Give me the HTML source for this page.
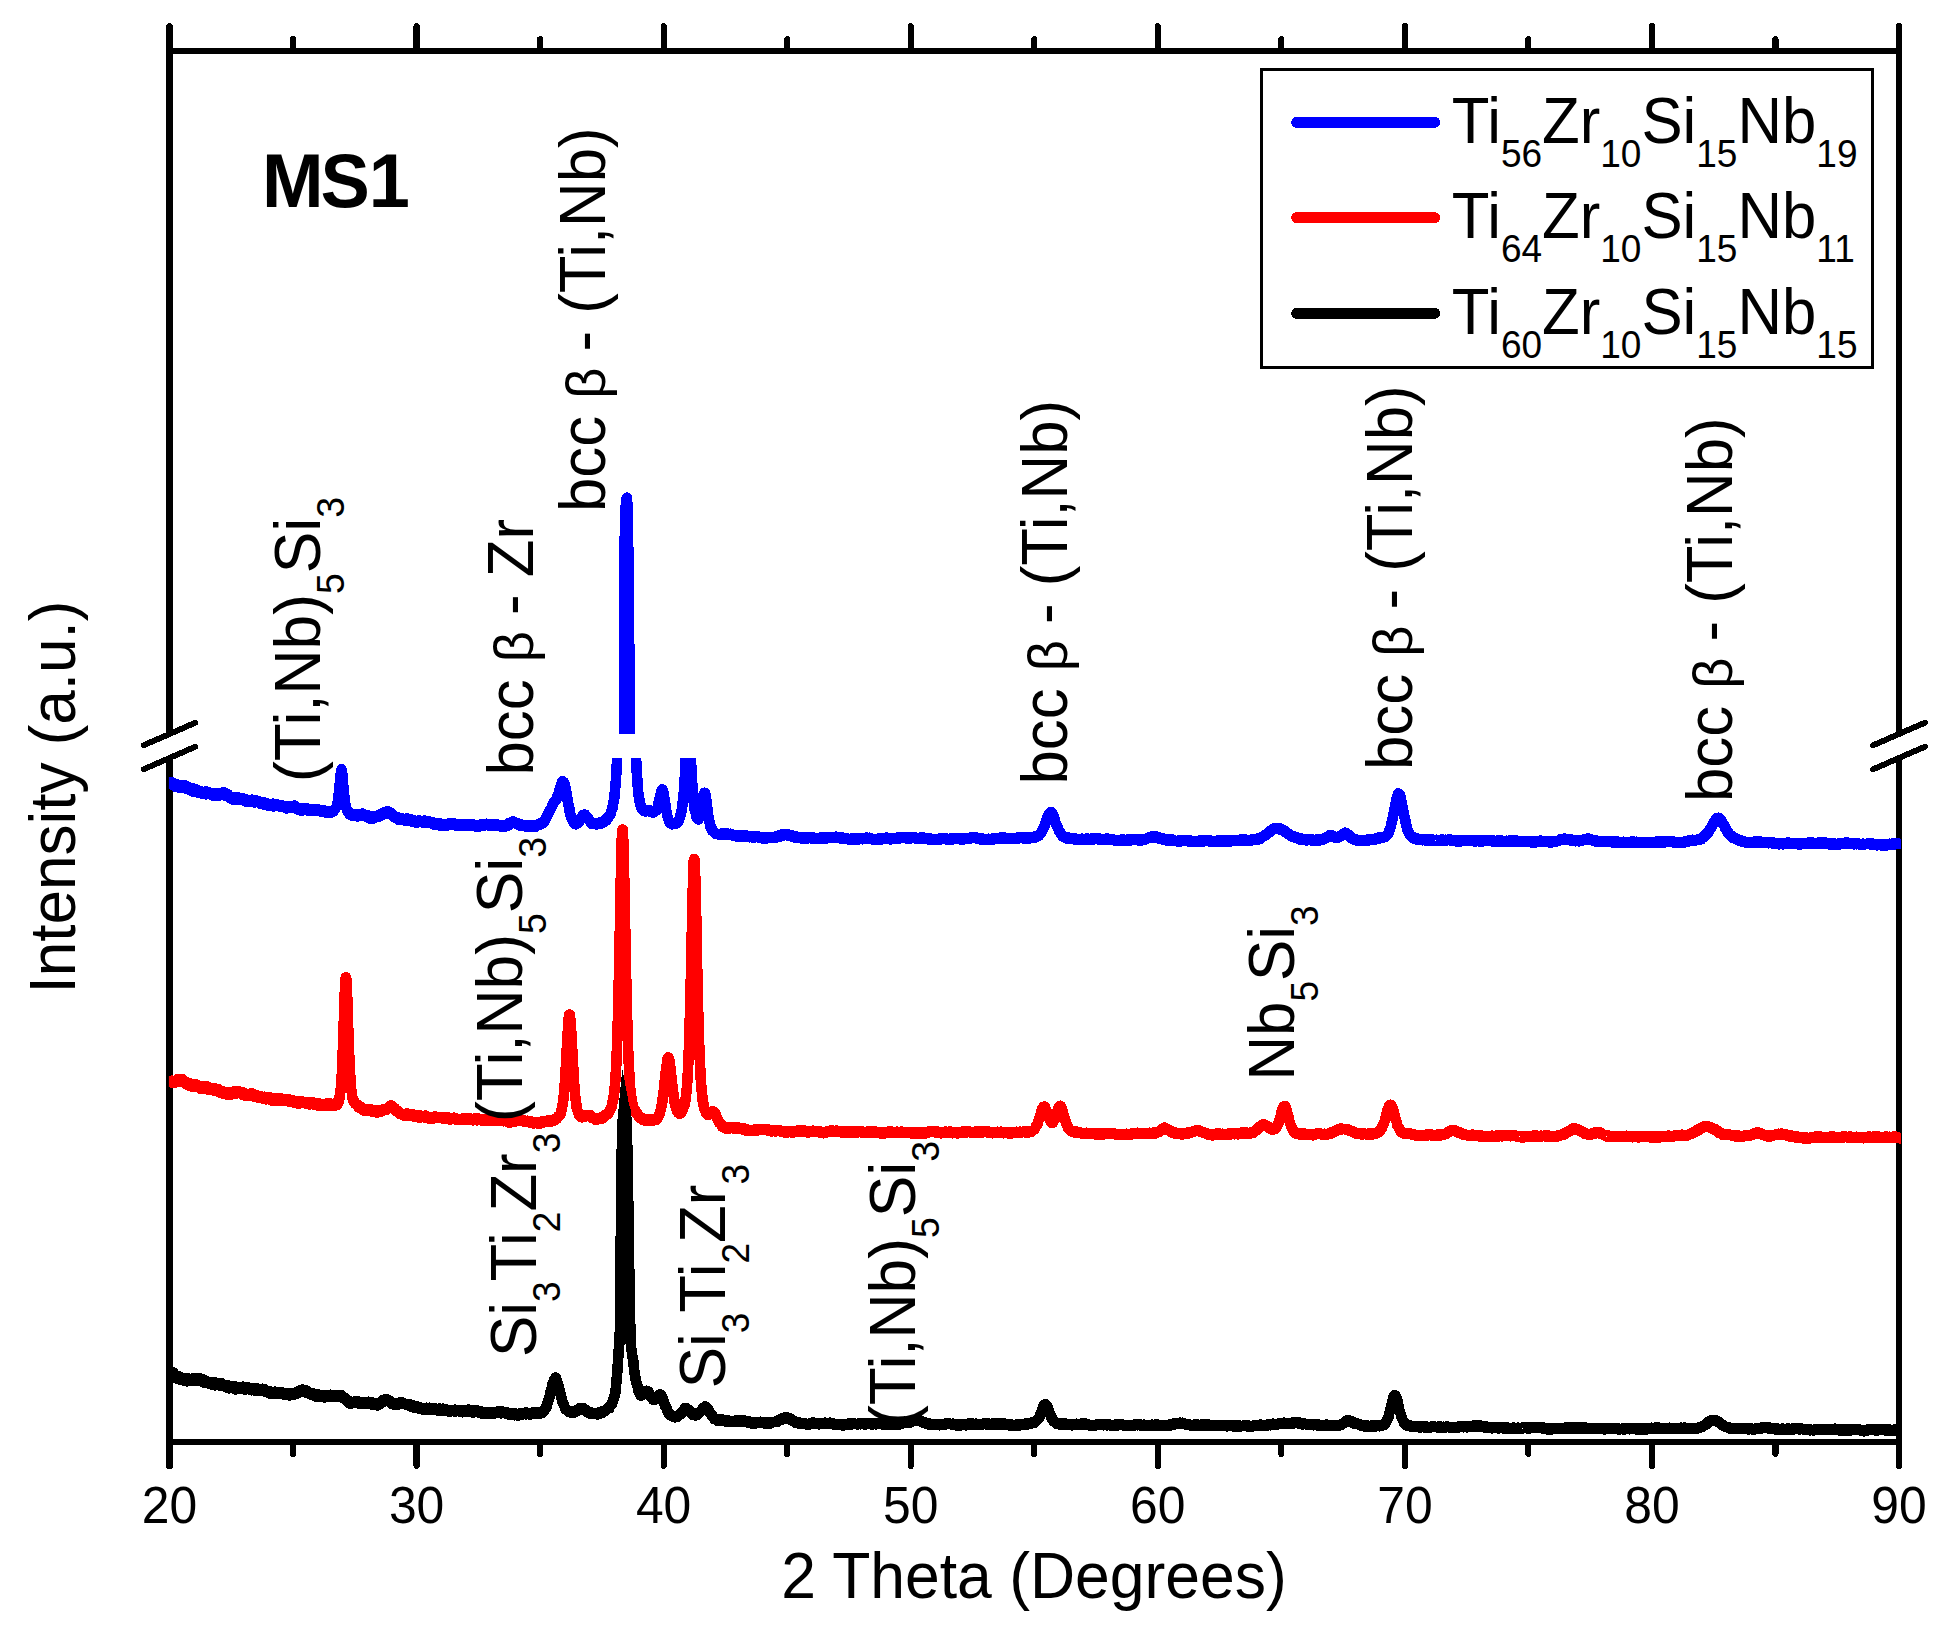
<!DOCTYPE html>
<html><head><meta charset="utf-8"><title>XRD MS1</title>
<style>html,body{margin:0;padding:0;background:#fff}svg{display:block}</style></head>
<body>
<svg width="1945" height="1637" viewBox="0 0 1945 1637" font-family='"Liberation Sans", sans-serif' fill="#000" shape-rendering="crispEdges">
<rect width="1945" height="1637" fill="#fff"/>
<defs><clipPath id="lo"><rect x="168.9" y="758.0" width="1732.1" height="683.8"/></clipPath><clipPath id="up"><rect x="168.9" y="50.8" width="1732.1" height="683.2"/></clipPath></defs>
<g stroke="#000" stroke-width="6.2" fill="none" stroke-linecap="round">
<line x1="169.50" y1="50.75" x2="1899.00" y2="50.75"/>
<line x1="169.50" y1="1441.85" x2="1899.00" y2="1441.85"/>
<line x1="293.04" y1="39.30" x2="293.04" y2="50.75"/>
<line x1="293.04" y1="1441.85" x2="293.04" y2="1453.90"/>
<line x1="416.57" y1="26.20" x2="416.57" y2="50.75"/>
<line x1="416.57" y1="1441.85" x2="416.57" y2="1465.90"/>
<line x1="540.11" y1="39.30" x2="540.11" y2="50.75"/>
<line x1="540.11" y1="1441.85" x2="540.11" y2="1453.90"/>
<line x1="663.64" y1="26.20" x2="663.64" y2="50.75"/>
<line x1="663.64" y1="1441.85" x2="663.64" y2="1465.90"/>
<line x1="787.18" y1="39.30" x2="787.18" y2="50.75"/>
<line x1="787.18" y1="1441.85" x2="787.18" y2="1453.90"/>
<line x1="910.71" y1="26.20" x2="910.71" y2="50.75"/>
<line x1="910.71" y1="1441.85" x2="910.71" y2="1465.90"/>
<line x1="1034.25" y1="39.30" x2="1034.25" y2="50.75"/>
<line x1="1034.25" y1="1441.85" x2="1034.25" y2="1453.90"/>
<line x1="1157.79" y1="26.20" x2="1157.79" y2="50.75"/>
<line x1="1157.79" y1="1441.85" x2="1157.79" y2="1465.90"/>
<line x1="1281.32" y1="39.30" x2="1281.32" y2="50.75"/>
<line x1="1281.32" y1="1441.85" x2="1281.32" y2="1453.90"/>
<line x1="1404.86" y1="26.20" x2="1404.86" y2="50.75"/>
<line x1="1404.86" y1="1441.85" x2="1404.86" y2="1465.90"/>
<line x1="1528.39" y1="39.30" x2="1528.39" y2="50.75"/>
<line x1="1528.39" y1="1441.85" x2="1528.39" y2="1453.90"/>
<line x1="1651.93" y1="26.20" x2="1651.93" y2="50.75"/>
<line x1="1651.93" y1="1441.85" x2="1651.93" y2="1465.90"/>
<line x1="1775.46" y1="39.30" x2="1775.46" y2="50.75"/>
<line x1="1775.46" y1="1441.85" x2="1775.46" y2="1453.90"/>
</g>
<g stroke="#000" stroke-width="7.0" fill="none">
<line x1="169.50" y1="26.60" x2="169.50" y2="714.0" stroke-linecap="round"/>
<line x1="169.50" y1="709.00" x2="169.50" y2="734.0"/>
<line x1="169.50" y1="758.0" x2="169.50" y2="783.00"/>
<line x1="169.50" y1="778.0" x2="169.50" y2="1465.50" stroke-linecap="round"/>
</g>
<g stroke="#000" stroke-width="6.2" fill="none">
<line x1="1899.00" y1="26.20" x2="1899.00" y2="714.0" stroke-linecap="round"/>
<line x1="1899.00" y1="709.00" x2="1899.00" y2="734.0"/>
<line x1="1899.00" y1="758.0" x2="1899.00" y2="783.00"/>
<line x1="1899.00" y1="778.0" x2="1899.00" y2="1465.90" stroke-linecap="round"/>
</g>
<g stroke="#000" stroke-width="5.9" stroke-linecap="round">
<line x1="143.6" y1="745.3" x2="195.4" y2="722.7"/>
<line x1="143.6" y1="769.3" x2="195.4" y2="746.7"/>
<line x1="1873.1" y1="745.3" x2="1924.9" y2="722.7"/>
<line x1="1873.1" y1="769.3" x2="1924.9" y2="746.7"/>
</g>
<g fill="none" stroke-width="10.6" stroke-linejoin="round" stroke-linecap="butt">
<g clip-path="url(#lo)">
<polyline stroke="#0000ff" points="166.5,783.6 169.5,783.6 170.0,783.4 170.5,782.4 171.0,783.3 171.5,783.0 172.0,782.4 172.5,783.0 173.0,784.4 173.5,785.3 173.9,783.3 174.4,783.9 174.9,783.5 175.4,786.9 175.9,784.2 176.4,785.3 176.9,784.4 177.4,786.1 177.9,786.7 178.4,786.5 178.9,787.1 179.4,785.7 179.9,788.1 180.4,787.7 180.9,785.8 181.4,786.7 181.9,785.3 182.3,787.9 182.8,788.1 183.3,786.9 183.8,786.4 184.3,787.8 184.8,786.4 185.3,785.5 185.8,787.6 186.3,786.9 186.8,789.0 187.3,787.6 187.8,786.5 188.3,788.9 188.8,789.8 189.3,787.3 189.8,788.3 190.3,789.1 190.7,790.0 191.2,790.2 191.7,790.2 192.2,791.1 192.7,790.8 193.2,788.6 193.7,791.8 194.2,791.5 194.7,791.1 195.2,791.6 195.7,791.9 196.2,789.6 196.7,791.7 197.2,790.3 197.7,790.8 198.2,792.8 198.7,792.1 199.1,791.4 199.6,791.2 200.1,792.2 200.6,791.1 201.1,792.0 201.6,793.5 202.1,792.0 202.6,792.5 203.1,793.9 203.6,792.1 204.1,791.9 204.6,792.4 205.1,792.4 205.6,794.3 206.1,791.5 206.6,792.0 207.1,794.1 207.5,791.8 208.0,793.3 208.5,794.2 209.0,792.3 209.5,793.2 210.0,793.2 210.5,794.0 211.0,794.4 211.5,794.9 212.0,792.9 212.5,793.4 213.0,795.1 213.5,795.6 214.0,794.0 214.5,793.3 215.0,793.6 215.5,795.7 215.9,793.7 216.4,794.0 216.9,793.9 217.4,794.5 217.9,795.2 218.4,793.5 218.9,794.4 219.4,795.6 219.9,794.1 220.4,794.0 220.9,794.6 221.4,794.0 221.9,793.5 222.4,794.7 222.9,792.6 223.4,792.8 223.9,795.3 224.3,793.2 224.8,792.7 225.3,793.1 225.8,795.7 226.3,793.6 226.8,794.9 227.3,795.8 227.8,794.0 228.3,795.1 228.8,796.8 229.3,795.8 229.8,796.4 230.3,797.4 230.8,798.5 231.3,797.3 231.8,797.1 232.3,797.0 232.8,797.9 233.2,799.2 233.7,800.1 234.2,798.9 234.7,797.8 235.2,799.3 235.7,797.7 236.2,797.7 236.7,797.8 237.2,800.1 237.7,799.2 238.2,797.4 238.7,800.2 239.2,798.6 239.7,798.1 240.2,799.7 240.7,799.3 241.2,799.8 241.6,799.4 242.1,798.8 242.6,798.3 243.1,800.3 243.6,799.9 244.1,799.8 244.6,800.4 245.1,800.1 245.6,801.4 246.1,800.9 246.6,801.6 247.1,799.6 247.6,800.8 248.1,801.7 248.6,801.3 249.1,800.3 249.6,801.4 250.0,800.9 250.5,800.1 251.0,801.5 251.5,799.7 252.0,799.7 252.5,800.1 253.0,800.0 253.5,802.1 254.0,800.4 254.5,802.6 255.0,800.0 255.5,800.2 256.0,801.3 256.5,802.0 257.0,802.2 257.5,800.8 258.0,802.1 258.4,801.2 258.9,801.5 259.4,801.7 259.9,801.9 260.4,803.8 260.9,803.7 261.4,802.0 261.9,803.7 262.4,802.5 262.9,802.0 263.4,802.3 263.9,804.4 264.4,804.3 264.9,804.0 265.4,802.9 265.9,805.0 266.4,804.3 266.8,804.6 267.3,805.4 267.8,804.0 268.3,804.2 268.8,803.7 269.3,804.5 269.8,805.9 270.3,805.4 270.8,804.5 271.3,804.5 271.8,805.6 272.3,806.2 272.8,804.9 273.3,803.7 273.8,806.4 274.3,806.2 274.8,805.5 275.2,803.8 275.7,805.0 276.2,804.6 276.7,804.1 277.2,805.0 277.7,805.4 278.2,805.5 278.7,805.0 279.2,805.0 279.7,806.7 280.2,804.9 280.7,806.3 281.2,806.5 281.7,805.6 282.2,805.3 282.7,806.8 283.2,807.0 283.6,806.1 284.1,805.8 284.6,807.3 285.1,806.0 285.6,807.2 286.1,808.2 286.6,808.5 287.1,807.8 287.6,807.8 288.1,806.5 288.6,807.5 289.1,806.7 289.6,808.2 290.1,806.9 290.6,807.4 291.1,807.7 291.6,806.7 292.0,808.0 292.5,806.8 293.0,806.1 293.5,807.8 294.0,807.3 294.5,805.7 295.0,806.5 295.5,808.1 296.0,808.1 296.5,807.8 297.0,809.4 297.5,808.0 298.0,809.2 298.5,808.5 299.0,808.5 299.5,808.5 300.0,808.4 300.4,808.6 300.9,808.8 301.4,809.2 301.9,811.0 302.4,808.8 302.9,809.6 303.4,808.9 303.9,809.4 304.4,808.3 304.9,808.9 305.4,808.8 305.9,809.5 306.4,808.1 306.9,809.4 307.4,808.4 307.9,810.6 308.4,809.4 308.8,810.4 309.3,810.7 309.8,809.5 310.3,810.8 310.8,810.2 311.3,811.0 311.8,811.1 312.3,809.4 312.8,810.8 313.3,810.1 313.8,809.1 314.3,809.7 314.8,809.6 315.3,810.5 315.8,810.0 316.3,809.5 316.8,811.1 317.2,809.5 317.7,811.0 318.2,810.9 318.7,809.5 319.2,810.8 319.7,810.8 320.2,810.8 320.7,811.6 321.2,811.6 321.7,810.4 322.2,810.2 322.7,809.8 323.2,810.5 323.7,811.5 324.2,812.2 324.7,810.6 325.2,811.7 325.6,810.9 326.1,812.9 326.6,813.1 327.1,811.0 327.6,811.0 328.1,812.9 328.6,811.8 329.1,811.5 329.6,813.1 330.1,812.7 330.6,810.9 331.1,810.8 331.6,812.4 332.1,812.3 332.6,810.9 333.1,810.7 333.6,811.4 334.0,809.5 334.5,809.7 335.0,808.7 335.5,808.3 336.0,807.4 336.5,806.8 337.0,806.2 337.5,804.4 338.0,799.4 338.5,795.5 339.0,791.7 339.5,786.6 340.0,781.2 340.5,775.3 341.0,772.4 341.5,769.1 342.0,771.3 342.4,774.3 342.9,781.8 343.4,787.5 343.9,792.1 344.4,797.4 344.9,800.9 345.4,805.1 345.9,807.2 346.4,808.4 346.9,809.7 347.4,811.3 347.9,810.8 348.4,812.1 348.9,811.8 349.4,813.1 349.9,814.7 350.4,814.1 350.9,814.9 351.3,813.5 351.8,813.6 352.3,814.2 352.8,815.8 353.3,814.5 353.8,814.4 354.3,815.9 354.8,815.5 355.3,814.5 355.8,815.4 356.3,814.7 356.8,815.1 357.3,815.4 357.8,816.5 358.3,814.9 358.8,814.3 359.3,815.5 359.7,815.8 360.2,815.7 360.7,814.2 361.2,815.7 361.7,813.8 362.2,813.7 362.7,815.3 363.2,815.2 363.7,814.8 364.2,815.4 364.7,814.5 365.2,816.3 365.7,815.2 366.2,816.4 366.7,816.9 367.2,816.2 367.7,815.2 368.1,817.3 368.6,817.9 369.1,816.4 369.6,818.4 370.1,816.3 370.6,818.0 371.1,818.6 371.6,818.7 372.1,816.5 372.6,818.7 373.1,818.2 373.6,818.4 374.1,817.6 374.6,816.6 375.1,817.5 375.6,817.5 376.1,816.2 376.5,816.6 377.0,817.1 377.5,816.9 378.0,815.7 378.5,816.3 379.0,816.6 379.5,816.3 380.0,814.2 380.5,814.6 381.0,814.3 381.5,814.5 382.0,813.6 382.5,813.3 383.0,814.5 383.5,813.5 384.0,812.8 384.5,812.3 384.9,812.5 385.4,813.4 385.9,812.8 386.4,813.1 386.9,813.0 387.4,813.4 387.9,811.2 388.4,812.9 388.9,811.9 389.4,812.2 389.9,812.2 390.4,814.1 390.9,812.8 391.4,814.5 391.9,814.0 392.4,815.7 392.9,815.1 393.3,814.9 393.8,817.3 394.3,816.0 394.8,816.7 395.3,816.5 395.8,816.9 396.3,817.7 396.8,817.0 397.3,817.2 397.8,818.8 398.3,818.5 398.8,820.0 399.3,820.2 399.8,818.1 400.3,819.6 400.8,818.9 401.3,818.5 401.7,820.1 402.2,819.4 402.7,819.1 403.2,819.5 403.7,818.8 404.2,820.0 404.7,819.2 405.2,820.6 405.7,819.8 406.2,820.2 406.7,820.5 407.2,818.5 407.7,820.1 408.2,819.3 408.7,819.5 409.2,819.8 409.7,820.0 410.1,820.7 410.6,819.3 411.1,820.5 411.6,820.9 412.1,820.3 412.6,820.0 413.1,822.0 413.6,820.2 414.1,821.6 414.6,821.6 415.1,821.8 415.6,822.5 416.1,822.6 416.6,820.9 417.1,822.0 417.6,822.2 418.1,821.4 418.5,821.8 419.0,820.3 419.5,821.2 420.0,821.1 420.5,821.9 421.0,820.8 421.5,822.3 422.0,821.8 422.5,821.9 423.0,822.4 423.5,821.5 424.0,821.5 424.5,820.5 425.0,820.7 425.5,822.4 426.0,822.0 426.5,822.3 426.9,821.7 427.4,821.1 427.9,821.1 428.4,823.0 428.9,822.6 429.4,821.4 429.9,821.9 430.4,821.7 430.9,822.2 431.4,823.1 431.9,822.8 432.4,824.0 432.9,822.4 433.4,822.5 433.9,824.4 434.4,824.7 434.9,824.4 435.3,823.5 435.8,824.4 436.3,823.3 436.8,824.3 437.3,824.1 437.8,823.3 438.3,824.9 438.8,825.3 439.3,823.5 439.8,825.2 440.3,823.5 440.8,825.0 441.3,825.4 441.8,824.7 442.3,825.5 442.8,825.8 443.3,825.0 443.7,825.2 444.2,825.9 444.7,824.5 445.2,825.4 445.7,825.4 446.2,825.2 446.7,825.1 447.2,824.1 447.7,825.4 448.2,824.7 448.7,823.9 449.2,823.5 449.7,824.6 450.2,823.0 450.7,824.0 451.2,823.3 451.7,824.9 452.1,824.5 452.6,824.0 453.1,824.4 453.6,824.3 454.1,823.5 454.6,824.4 455.1,824.9 455.6,824.8 456.1,825.9 456.6,824.7 457.1,825.1 457.6,824.8 458.1,825.9 458.6,826.0 459.1,825.0 459.6,824.4 460.1,824.9 460.6,825.7 461.0,824.7 461.5,825.9 462.0,825.6 462.5,824.2 463.0,825.0 463.5,825.7 464.0,825.9 464.5,824.1 465.0,824.0 465.5,824.9 466.0,824.9 466.5,824.3 467.0,825.7 467.5,824.2 468.0,825.2 468.5,825.3 469.0,823.8 469.4,823.8 469.9,825.1 470.4,824.0 470.9,824.2 471.4,825.7 471.9,824.9 472.4,824.9 472.9,826.1 473.4,825.2 473.9,824.8 474.4,825.3 474.9,825.5 475.4,826.3 475.9,826.4 476.4,825.1 476.9,825.6 477.4,826.6 477.8,825.1 478.3,825.0 478.8,825.4 479.3,826.4 479.8,825.0 480.3,825.4 480.8,824.6 481.3,824.3 481.8,824.6 482.3,824.8 482.8,825.4 483.3,824.6 483.8,825.3 484.3,825.6 484.8,823.8 485.3,825.0 485.8,824.1 486.2,824.3 486.7,823.7 487.2,824.8 487.7,825.4 488.2,824.3 488.7,825.1 489.2,825.4 489.7,824.6 490.2,824.3 490.7,824.0 491.2,825.7 491.7,824.5 492.2,825.2 492.7,824.8 493.2,825.6 493.7,824.6 494.2,825.7 494.6,825.8 495.1,825.7 495.6,824.6 496.1,824.6 496.6,824.9 497.1,825.7 497.6,825.4 498.1,824.7 498.6,825.2 499.1,824.8 499.6,826.0 500.1,826.3 500.6,825.3 501.1,826.6 501.6,825.8 502.1,825.7 502.6,825.0 503.0,825.6 503.5,826.8 504.0,826.5 504.5,826.9 505.0,824.9 505.5,826.4 506.0,825.7 506.5,826.3 507.0,825.7 507.5,825.0 508.0,825.0 508.5,825.3 509.0,823.2 509.5,823.1 510.0,823.3 510.5,822.8 511.0,823.1 511.4,823.0 511.9,823.0 512.4,821.5 512.9,823.2 513.4,821.8 513.9,821.7 514.4,823.2 514.9,822.2 515.4,822.5 515.9,822.7 516.4,822.8 516.9,823.9 517.4,823.1 517.9,824.7 518.4,824.2 518.9,824.9 519.4,825.3 519.8,825.5 520.3,825.0 520.8,825.3 521.3,824.5 521.8,824.8 522.3,825.3 522.8,825.1 523.3,825.5 523.8,825.5 524.3,825.7 524.8,825.6 525.3,825.3 525.8,826.4 526.3,825.5 526.8,825.4 527.3,825.6 527.8,826.3 528.2,825.3 528.7,826.6 529.2,825.9 529.7,825.9 530.2,826.6 530.7,826.9 531.2,825.5 531.7,826.6 532.2,825.2 532.7,827.1 533.2,825.5 533.7,825.8 534.2,825.8 534.7,825.5 535.2,826.5 535.7,826.7 536.2,825.0 536.6,824.8 537.1,825.0 537.6,825.1 538.1,824.3 538.6,824.9 539.1,825.1 539.6,824.1 540.1,824.0 540.6,824.1 541.1,823.8 541.6,823.6 542.1,822.3 542.6,822.7 543.1,822.5 543.6,822.6 544.1,821.0 544.6,821.2 545.0,819.5 545.5,819.6 546.0,818.5 546.5,816.9 547.0,815.4 547.5,814.9 548.0,813.4 548.5,813.0 549.0,812.6 549.5,811.2 550.0,810.1 550.5,809.6 551.0,808.6 551.5,807.5 552.0,806.6 552.5,805.0 553.0,804.0 553.4,803.7 553.9,802.3 554.4,801.3 554.9,800.8 555.4,801.0 555.9,800.6 556.4,799.1 556.9,798.2 557.4,795.7 557.9,794.9 558.4,793.9 558.9,792.1 559.4,790.1 559.9,789.6 560.4,786.6 560.9,785.9 561.4,784.1 561.8,783.9 562.3,781.2 562.8,782.1 563.3,782.6 563.8,783.0 564.3,782.7 564.8,784.8 565.3,787.2 565.8,789.4 566.3,791.6 566.8,794.1 567.3,798.0 567.8,801.6 568.3,803.6 568.8,805.9 569.3,808.2 569.8,812.2 570.2,814.2 570.7,814.7 571.2,817.8 571.7,819.1 572.2,819.6 572.7,821.1 573.2,821.6 573.7,822.3 574.2,823.1 574.7,824.0 575.2,823.2 575.7,822.8 576.2,824.3 576.7,822.9 577.2,822.5 577.7,823.3 578.2,822.1 578.7,822.2 579.1,821.9 579.6,819.6 580.1,820.0 580.6,818.6 581.1,817.9 581.6,817.1 582.1,816.7 582.6,816.5 583.1,815.0 583.6,815.1 584.1,814.6 584.6,814.5 585.1,814.6 585.6,816.6 586.1,816.0 586.6,816.9 587.1,817.0 587.5,818.2 588.0,818.1 588.5,819.9 589.0,820.0 589.5,820.9 590.0,821.0 590.5,822.6 591.0,821.7 591.5,822.1 592.0,823.9 592.5,823.7 593.0,823.4 593.5,824.0 594.0,823.7 594.5,823.4 595.0,823.1 595.5,823.6 595.9,824.3 596.4,823.0 596.9,822.9 597.4,824.3 597.9,823.8 598.4,822.9 598.9,823.1 599.4,824.1 599.9,823.0 600.4,823.7 600.9,823.1 601.4,822.1 601.9,822.2 602.4,822.2 602.9,821.6 603.4,822.6 603.9,822.2 604.3,821.8 604.8,821.7 605.3,820.3 605.8,819.3 606.3,820.4 606.8,819.8 607.3,818.3 607.8,817.6 608.3,818.1 608.8,816.4 609.3,815.3 609.8,814.7 610.3,814.6 610.8,813.4 611.3,811.3 611.8,809.8 612.3,808.6 612.7,806.6 613.2,803.6 613.7,800.8 614.2,798.8 614.7,793.9 615.2,788.0 615.7,783.2 616.2,775.3 616.7,766.5 617.2,755.6 617.7,741.4 618.2,726.6 618.7,708.0 619.2,698.0 619.7,698.0 620.2,698.0 620.7,698.0 621.1,698.0 621.6,698.0 622.1,698.0 622.6,698.0 623.1,698.0 623.6,698.0 624.1,698.0 624.6,698.0 625.1,698.0 625.6,698.0 626.1,698.0 626.6,698.0 627.1,698.0 627.6,698.0 628.1,698.0 628.6,698.0 629.1,698.0 629.5,698.0 630.0,698.0 630.5,698.0 631.0,698.0 631.5,698.0 632.0,698.0 632.5,698.0 633.0,698.0 633.5,698.0 634.0,698.0 634.5,712.6 635.0,731.0 635.5,744.6 636.0,757.0 636.5,767.4 637.0,775.4 637.5,782.8 637.9,788.3 638.4,794.1 638.9,797.5 639.4,799.5 639.9,803.4 640.4,804.9 640.9,805.8 641.4,807.4 641.9,809.1 642.4,808.2 642.9,809.1 643.4,809.3 643.9,811.1 644.4,810.2 644.9,811.3 645.4,810.5 645.9,811.3 646.3,810.7 646.8,810.7 647.3,810.8 647.8,811.0 648.3,810.9 648.8,810.5 649.3,810.2 649.8,810.3 650.3,811.4 650.8,811.9 651.3,812.0 651.8,811.5 652.3,812.3 652.8,811.7 653.3,811.8 653.8,812.4 654.3,811.8 654.7,810.9 655.2,811.4 655.7,810.4 656.2,810.6 656.7,809.2 657.2,808.8 657.7,806.9 658.2,805.0 658.7,802.1 659.2,801.3 659.7,797.6 660.2,796.3 660.7,794.2 661.2,791.3 661.7,789.9 662.2,789.5 662.7,790.2 663.1,791.6 663.6,793.8 664.1,798.0 664.6,799.5 665.1,803.2 665.6,806.1 666.1,810.2 666.6,811.6 667.1,814.8 667.6,816.9 668.1,818.2 668.6,819.5 669.1,821.5 669.6,822.0 670.1,823.2 670.6,822.0 671.1,822.5 671.5,822.7 672.0,824.4 672.5,824.1 673.0,823.5 673.5,823.9 674.0,823.5 674.5,823.3 675.0,823.9 675.5,823.2 676.0,823.5 676.5,822.7 677.0,823.0 677.5,822.6 678.0,821.9 678.5,820.3 679.0,820.4 679.5,818.5 679.9,817.5 680.4,814.9 680.9,814.5 681.4,811.9 681.9,809.4 682.4,804.8 682.9,800.9 683.4,795.9 683.9,791.2 684.4,784.4 684.9,775.8 685.4,766.4 685.9,756.0 686.4,744.8 686.9,732.5 687.4,722.7 687.9,715.0 688.3,713.1 688.8,715.5 689.3,722.1 689.8,732.2 690.3,743.7 690.8,755.6 691.3,766.7 691.8,775.6 692.3,784.9 692.8,791.6 693.3,797.6 693.8,802.8 694.3,806.1 694.8,810.5 695.3,811.6 695.8,813.6 696.3,816.4 696.8,818.1 697.2,818.0 697.7,819.0 698.2,819.5 698.7,818.5 699.2,818.0 699.7,817.5 700.2,815.8 700.7,812.8 701.2,809.7 701.7,807.2 702.2,803.7 702.7,801.0 703.2,796.6 703.7,794.3 704.2,792.9 704.7,792.8 705.2,793.0 705.6,795.2 706.1,798.6 706.6,802.7 707.1,807.3 707.6,810.2 708.1,815.2 708.6,818.3 709.1,820.1 709.6,822.2 710.1,824.2 710.6,827.3 711.1,827.1 711.6,828.5 712.1,830.1 712.6,831.3 713.1,830.4 713.6,831.6 714.0,832.3 714.5,832.7 715.0,832.4 715.5,833.0 716.0,833.8 716.5,834.2 717.0,833.6 717.5,834.2 718.0,834.2 718.5,834.1 719.0,834.1 719.5,834.7 720.0,834.5 720.5,834.8 721.0,834.5 721.5,833.5 722.0,834.1 722.4,834.1 722.9,833.4 723.4,834.5 723.9,834.6 724.4,834.1 724.9,834.4 725.4,833.7 725.9,834.4 726.4,834.0 726.9,833.3 727.4,834.5 727.9,834.2 728.4,834.2 728.9,834.0 729.4,835.1 729.9,834.1 730.4,834.6 730.8,833.9 731.3,834.1 731.8,834.3 732.3,835.5 732.8,834.6 733.3,835.7 733.8,835.1 734.3,835.3 734.8,835.0 735.3,835.4 735.8,835.3 736.3,836.2 736.8,835.7 737.3,836.9 737.8,835.4 738.3,835.4 738.8,836.3 739.2,836.7 739.7,835.6 740.2,836.4 740.7,836.9 741.2,836.5 741.7,836.9 742.2,836.0 742.7,836.0 743.2,835.5 743.7,835.7 744.2,836.8 744.7,836.4 745.2,836.7 745.7,835.7 746.2,836.0 746.7,835.6 747.2,836.4 747.6,835.9 748.1,836.3 748.6,836.7 749.1,837.2 749.6,837.2 750.1,836.9 750.6,835.9 751.1,837.2 751.6,836.8 752.1,836.6 752.6,837.5 753.1,836.6 753.6,837.4 754.1,837.4 754.6,836.7 755.1,837.0 755.6,837.2 756.0,836.6 756.5,836.7 757.0,837.2 757.5,837.2 758.0,837.4 758.5,836.8 759.0,836.7 759.5,837.0 760.0,838.1 760.5,837.5 761.0,837.8 761.5,837.2 762.0,838.1 762.5,838.4 763.0,838.4 763.5,837.6 764.0,837.4 764.4,838.1 764.9,838.1 765.4,837.4 765.9,837.2 766.4,838.6 766.9,838.5 767.4,837.8 767.9,837.2 768.4,837.9 768.9,837.7 769.4,838.1 769.9,837.4 770.4,837.5 770.9,837.9 771.4,838.0 771.9,837.1 772.4,837.4 772.8,838.0 773.3,837.7 773.8,836.8 774.3,837.1 774.8,837.6 775.3,836.5 775.8,837.8 776.3,837.4 776.8,836.6 777.3,836.1 777.8,837.2 778.3,835.8 778.8,836.5 779.3,836.6 779.8,835.2 780.3,836.3 780.8,834.7 781.2,836.1 781.7,835.1 782.2,835.1 782.7,835.4 783.2,835.5 783.7,834.1 784.2,833.9 784.7,835.2 785.2,834.2 785.7,834.6 786.2,835.2 786.7,835.3 787.2,834.9 787.7,835.7 788.2,835.7 788.7,834.6 789.2,835.8 789.6,835.4 790.1,834.9 790.6,835.4 791.1,835.4 791.6,836.4 792.1,836.6 792.6,835.8 793.1,836.2 793.6,835.8 794.1,836.0 794.6,836.6 795.1,836.4 795.6,837.8 796.1,838.1 796.6,837.1 797.1,836.7 797.6,837.1 798.0,837.9 798.5,837.4 799.0,837.9 799.5,837.5 800.0,837.5 800.5,837.4 801.0,838.4 801.5,837.6 802.0,837.2 802.5,838.2 803.0,838.1 803.5,837.5 804.0,838.5 804.5,837.1 805.0,838.5 805.5,837.8 806.0,837.0 806.5,837.4 806.9,837.9 807.4,838.3 807.9,837.7 808.4,838.2 808.9,837.9 809.4,837.3 809.9,837.0 810.4,838.0 810.9,837.9 811.4,837.9 811.9,837.4 812.4,838.3 812.9,838.9 813.4,838.5 813.9,837.7 814.4,838.3 814.9,838.9 815.3,839.0 815.8,838.1 816.3,838.4 816.8,838.7 817.3,838.1 817.8,837.8 818.3,839.0 818.8,838.1 819.3,838.4 819.8,838.5 820.3,837.6 820.8,839.0 821.3,837.7 821.8,838.5 822.3,838.6 822.8,837.4 823.3,838.2 823.7,837.8 824.2,837.5 824.7,837.6 825.2,838.0 825.7,838.1 826.2,838.4 826.7,837.4 827.2,837.9 827.7,837.7 828.2,837.2 828.7,837.5 829.2,837.1 829.7,837.8 830.2,837.2 830.7,837.4 831.2,837.9 831.7,837.0 832.1,836.9 832.6,838.0 833.1,838.1 833.6,837.3 834.1,837.5 834.6,837.0 835.1,837.6 835.6,836.7 836.1,837.0 836.6,837.0 837.1,837.0 837.6,838.1 838.1,838.1 838.6,837.7 839.1,837.0 839.6,837.4 840.1,838.4 840.5,838.0 841.0,838.6 841.5,837.7 842.0,838.3 842.5,837.6 843.0,838.7 843.5,838.9 844.0,838.4 844.5,838.3 845.0,839.0 845.5,838.0 846.0,839.0 846.5,837.9 847.0,838.4 847.5,839.0 848.0,839.2 848.5,838.7 848.9,839.4 849.4,839.2 849.9,839.1 850.4,838.8 850.9,839.3 851.4,839.9 851.9,839.4 852.4,838.4 852.9,838.4 853.4,839.7 853.9,838.6 854.4,839.6 854.9,838.5 855.4,838.5 855.9,839.6 856.4,839.2 856.9,839.5 857.3,839.6 857.8,838.3 858.3,838.5 858.8,838.4 859.3,838.6 859.8,838.4 860.3,838.5 860.8,838.6 861.3,838.3 861.8,838.5 862.3,839.2 862.8,839.0 863.3,837.9 863.8,838.1 864.3,838.2 864.8,839.0 865.3,838.2 865.7,838.2 866.2,837.7 866.7,837.4 867.2,838.1 867.7,838.1 868.2,838.8 868.7,838.7 869.2,838.4 869.7,837.8 870.2,839.2 870.7,838.3 871.2,838.8 871.7,839.0 872.2,839.1 872.7,839.3 873.2,839.8 873.7,838.9 874.1,840.2 874.6,839.4 875.1,840.1 875.6,839.9 876.1,839.9 876.6,839.1 877.1,840.1 877.6,838.8 878.1,839.1 878.6,838.6 879.1,838.8 879.6,839.6 880.1,839.5 880.6,839.4 881.1,838.3 881.6,838.8 882.1,838.9 882.5,839.3 883.0,838.5 883.5,838.7 884.0,838.3 884.5,839.0 885.0,839.0 885.5,839.1 886.0,839.0 886.5,837.7 887.0,838.7 887.5,838.3 888.0,839.0 888.5,838.3 889.0,837.8 889.5,838.6 890.0,837.9 890.5,838.3 890.9,839.4 891.4,839.4 891.9,839.0 892.4,838.7 892.9,838.0 893.4,838.5 893.9,838.4 894.4,838.8 894.9,838.7 895.4,838.9 895.9,838.8 896.4,838.6 896.9,838.6 897.4,837.7 897.9,837.5 898.4,837.9 898.9,838.3 899.3,837.3 899.8,838.2 900.3,838.3 900.8,838.3 901.3,837.9 901.8,837.7 902.3,837.5 902.8,838.1 903.3,838.1 903.8,837.6 904.3,838.0 904.8,837.6 905.3,838.1 905.8,838.2 906.3,838.4 906.8,837.9 907.3,838.6 907.7,838.6 908.2,837.8 908.7,837.6 909.2,838.5 909.7,838.1 910.2,838.8 910.7,837.5 911.2,837.8 911.7,837.7 912.2,837.6 912.7,837.5 913.2,837.5 913.7,837.6 914.2,837.5 914.7,838.1 915.2,838.3 915.7,838.0 916.1,838.3 916.6,837.7 917.1,839.1 917.6,838.0 918.1,838.8 918.6,838.1 919.1,839.2 919.6,838.0 920.1,837.7 920.6,838.1 921.1,837.6 921.6,839.0 922.1,839.0 922.6,837.8 923.1,837.5 923.6,838.7 924.1,838.9 924.6,839.0 925.0,838.9 925.5,838.5 926.0,838.1 926.5,838.6 927.0,838.3 927.5,839.2 928.0,839.2 928.5,839.0 929.0,839.5 929.5,839.4 930.0,838.6 930.5,839.0 931.0,839.4 931.5,839.0 932.0,839.5 932.5,839.7 933.0,839.7 933.4,839.0 933.9,838.8 934.4,839.0 934.9,839.2 935.4,839.6 935.9,839.1 936.4,839.4 936.9,839.7 937.4,839.2 937.9,839.5 938.4,838.9 938.9,838.9 939.4,838.7 939.9,838.3 940.4,838.4 940.9,839.4 941.4,838.4 941.8,838.3 942.3,839.0 942.8,838.8 943.3,838.5 943.8,838.4 944.3,838.2 944.8,838.2 945.3,838.2 945.8,838.7 946.3,839.1 946.8,839.1 947.3,839.5 947.8,839.8 948.3,839.3 948.8,839.0 949.3,839.9 949.8,838.7 950.2,839.3 950.7,838.6 951.2,839.1 951.7,839.6 952.2,838.3 952.7,839.4 953.2,838.2 953.7,839.1 954.2,838.5 954.7,838.6 955.2,838.4 955.7,839.2 956.2,838.6 956.7,838.7 957.2,838.7 957.7,838.5 958.2,838.3 958.6,838.4 959.1,839.2 959.6,838.7 960.1,838.7 960.6,839.1 961.1,839.5 961.6,838.4 962.1,839.3 962.6,839.3 963.1,838.4 963.6,838.3 964.1,839.4 964.6,838.3 965.1,838.0 965.6,838.1 966.1,838.3 966.6,837.8 967.0,838.3 967.5,838.5 968.0,838.8 968.5,838.8 969.0,838.8 969.5,838.8 970.0,838.0 970.5,838.5 971.0,838.3 971.5,837.3 972.0,837.5 972.5,837.5 973.0,837.5 973.5,837.5 974.0,837.6 974.5,837.5 975.0,837.6 975.4,837.6 975.9,838.3 976.4,837.8 976.9,837.6 977.4,838.9 977.9,838.2 978.4,839.2 978.9,838.8 979.4,838.2 979.9,838.2 980.4,839.4 980.9,838.6 981.4,838.3 981.9,839.3 982.4,838.4 982.9,838.6 983.4,839.6 983.8,839.0 984.3,839.7 984.8,839.5 985.3,838.8 985.8,840.1 986.3,839.2 986.8,839.8 987.3,839.7 987.8,839.3 988.3,840.0 988.8,838.8 989.3,839.1 989.8,840.0 990.3,838.9 990.8,839.2 991.3,839.7 991.8,838.8 992.2,838.8 992.7,838.6 993.2,839.3 993.7,838.9 994.2,838.7 994.7,839.3 995.2,838.9 995.7,838.0 996.2,839.1 996.7,838.6 997.2,838.8 997.7,838.4 998.2,838.9 998.7,838.0 999.2,838.1 999.7,838.2 1000.2,837.8 1000.6,838.1 1001.1,838.7 1001.6,838.4 1002.1,837.6 1002.6,838.4 1003.1,837.4 1003.6,837.6 1004.1,838.0 1004.6,838.4 1005.1,837.7 1005.6,838.4 1006.1,838.5 1006.6,839.1 1007.1,838.2 1007.6,839.2 1008.1,838.2 1008.6,839.1 1009.0,838.8 1009.5,838.8 1010.0,838.5 1010.5,838.0 1011.0,838.5 1011.5,838.5 1012.0,838.7 1012.5,837.9 1013.0,838.5 1013.5,839.0 1014.0,839.0 1014.5,838.3 1015.0,838.4 1015.5,838.9 1016.0,839.0 1016.5,837.8 1017.0,838.2 1017.4,838.2 1017.9,838.1 1018.4,837.6 1018.9,838.3 1019.4,838.0 1019.9,837.9 1020.4,837.3 1020.9,838.2 1021.4,837.6 1021.9,838.1 1022.4,837.8 1022.9,837.2 1023.4,838.5 1023.9,838.1 1024.4,837.6 1024.9,838.1 1025.4,837.7 1025.8,838.8 1026.3,838.1 1026.8,837.7 1027.3,838.7 1027.8,838.4 1028.3,837.7 1028.8,838.2 1029.3,837.5 1029.8,838.3 1030.3,837.8 1030.8,838.2 1031.3,837.1 1031.8,837.4 1032.3,837.5 1032.8,838.1 1033.3,836.9 1033.8,838.1 1034.2,836.6 1034.7,836.8 1035.2,837.1 1035.7,837.0 1036.2,836.8 1036.7,836.0 1037.2,836.6 1037.7,836.4 1038.2,835.9 1038.7,835.9 1039.2,834.7 1039.7,834.1 1040.2,833.4 1040.7,833.5 1041.2,831.8 1041.7,832.2 1042.2,831.3 1042.7,829.7 1043.1,828.6 1043.6,827.4 1044.1,826.8 1044.6,825.7 1045.1,823.3 1045.6,822.7 1046.1,821.4 1046.6,819.3 1047.1,818.0 1047.6,816.1 1048.1,815.2 1048.6,814.5 1049.1,813.6 1049.6,813.1 1050.1,812.8 1050.6,812.0 1051.1,812.0 1051.5,812.2 1052.0,813.2 1052.5,813.7 1053.0,815.5 1053.5,815.9 1054.0,818.0 1054.5,818.5 1055.0,821.0 1055.5,822.4 1056.0,823.4 1056.5,825.3 1057.0,825.7 1057.5,827.1 1058.0,827.9 1058.5,829.5 1059.0,830.4 1059.5,832.1 1059.9,832.4 1060.4,832.4 1060.9,833.4 1061.4,834.7 1061.9,835.5 1062.4,835.7 1062.9,836.7 1063.4,836.9 1063.9,837.1 1064.4,837.3 1064.9,837.1 1065.4,836.9 1065.9,837.8 1066.4,838.1 1066.9,838.5 1067.4,838.2 1067.9,838.1 1068.3,837.6 1068.8,838.1 1069.3,838.9 1069.8,838.3 1070.3,838.6 1070.8,838.9 1071.3,837.9 1071.8,838.0 1072.3,838.8 1072.8,837.9 1073.3,838.4 1073.8,839.2 1074.3,839.4 1074.8,838.6 1075.3,838.4 1075.8,839.9 1076.3,839.3 1076.7,839.4 1077.2,839.7 1077.7,839.8 1078.2,839.2 1078.7,839.5 1079.2,839.8 1079.7,839.2 1080.2,839.5 1080.7,839.1 1081.2,840.0 1081.7,838.7 1082.2,839.7 1082.7,839.3 1083.2,839.5 1083.7,838.9 1084.2,840.0 1084.7,839.3 1085.1,839.6 1085.6,838.7 1086.1,839.0 1086.6,839.8 1087.1,838.5 1087.6,839.0 1088.1,838.8 1088.6,838.9 1089.1,839.3 1089.6,839.6 1090.1,839.1 1090.6,839.6 1091.1,839.3 1091.6,839.6 1092.1,838.5 1092.6,839.5 1093.1,839.3 1093.5,839.5 1094.0,838.2 1094.5,838.2 1095.0,838.1 1095.5,838.1 1096.0,838.4 1096.5,838.9 1097.0,838.7 1097.5,838.4 1098.0,839.3 1098.5,838.5 1099.0,839.8 1099.5,838.9 1100.0,838.7 1100.5,838.9 1101.0,838.8 1101.5,839.1 1101.9,839.8 1102.4,839.3 1102.9,838.8 1103.4,839.3 1103.9,839.3 1104.4,839.1 1104.9,839.8 1105.4,838.9 1105.9,839.5 1106.4,838.7 1106.9,839.3 1107.4,839.8 1107.9,839.1 1108.4,838.8 1108.9,839.4 1109.4,840.1 1109.9,839.7 1110.3,839.4 1110.8,839.5 1111.3,839.2 1111.8,839.3 1112.3,840.0 1112.8,840.1 1113.3,839.7 1113.8,840.0 1114.3,840.2 1114.8,839.9 1115.3,840.4 1115.8,840.0 1116.3,840.0 1116.8,840.3 1117.3,840.1 1117.8,840.5 1118.3,840.4 1118.7,840.0 1119.2,840.3 1119.7,840.5 1120.2,839.9 1120.7,839.7 1121.2,840.5 1121.7,839.5 1122.2,840.1 1122.7,839.5 1123.2,840.4 1123.7,840.8 1124.2,840.9 1124.7,840.1 1125.2,840.8 1125.7,840.6 1126.2,840.0 1126.7,839.8 1127.1,840.5 1127.6,840.2 1128.1,840.9 1128.6,840.9 1129.1,840.3 1129.6,840.3 1130.1,839.5 1130.6,839.7 1131.1,840.3 1131.6,839.7 1132.1,839.4 1132.6,839.6 1133.1,839.5 1133.6,839.5 1134.1,839.5 1134.6,839.6 1135.1,840.2 1135.5,840.1 1136.0,839.7 1136.5,839.0 1137.0,840.2 1137.5,840.0 1138.0,839.3 1138.5,840.4 1139.0,839.9 1139.5,839.6 1140.0,840.4 1140.5,839.7 1141.0,840.5 1141.5,840.2 1142.0,839.8 1142.5,839.7 1143.0,839.6 1143.5,839.3 1143.9,839.3 1144.4,839.4 1144.9,839.1 1145.4,839.1 1145.9,838.8 1146.4,839.3 1146.9,838.7 1147.4,838.0 1147.9,838.3 1148.4,837.7 1148.9,838.2 1149.4,837.6 1149.9,838.2 1150.4,836.8 1150.9,836.8 1151.4,837.5 1151.9,836.7 1152.4,836.3 1152.8,836.9 1153.3,837.4 1153.8,836.7 1154.3,836.8 1154.8,836.1 1155.3,837.2 1155.8,837.6 1156.3,836.4 1156.8,836.7 1157.3,836.9 1157.8,837.9 1158.3,838.3 1158.8,838.4 1159.3,837.5 1159.8,837.8 1160.3,838.5 1160.8,838.0 1161.2,839.0 1161.7,838.4 1162.2,838.3 1162.7,838.4 1163.2,839.6 1163.7,838.6 1164.2,839.9 1164.7,838.8 1165.2,839.9 1165.7,839.3 1166.2,840.2 1166.7,840.4 1167.2,840.4 1167.7,839.6 1168.2,839.3 1168.7,840.6 1169.2,840.1 1169.6,839.6 1170.1,840.0 1170.6,840.6 1171.1,839.5 1171.6,840.3 1172.1,839.5 1172.6,840.1 1173.1,840.6 1173.6,840.4 1174.1,841.0 1174.6,840.7 1175.1,841.0 1175.6,840.9 1176.1,841.1 1176.6,841.1 1177.1,840.9 1177.6,840.7 1178.0,841.5 1178.5,840.8 1179.0,840.5 1179.5,841.7 1180.0,840.5 1180.5,840.3 1181.0,840.9 1181.5,840.6 1182.0,840.9 1182.5,840.6 1183.0,840.6 1183.5,840.7 1184.0,839.9 1184.5,840.8 1185.0,840.3 1185.5,840.7 1186.0,840.5 1186.4,840.0 1186.9,840.2 1187.4,840.5 1187.9,840.0 1188.4,840.9 1188.9,840.3 1189.4,841.0 1189.9,841.8 1190.4,841.8 1190.9,841.5 1191.4,840.8 1191.9,841.3 1192.4,841.3 1192.9,841.1 1193.4,842.1 1193.9,841.4 1194.4,841.3 1194.8,842.0 1195.3,841.1 1195.8,841.8 1196.3,841.2 1196.8,841.6 1197.3,841.2 1197.8,841.8 1198.3,840.9 1198.8,841.8 1199.3,840.6 1199.8,840.5 1200.3,841.8 1200.8,841.0 1201.3,841.2 1201.8,840.6 1202.3,841.7 1202.8,841.0 1203.2,841.4 1203.7,841.2 1204.2,840.5 1204.7,841.1 1205.2,840.5 1205.7,841.0 1206.2,840.8 1206.7,840.2 1207.2,840.5 1207.7,840.3 1208.2,840.5 1208.7,841.3 1209.2,840.2 1209.7,840.6 1210.2,841.5 1210.7,840.6 1211.2,840.9 1211.6,841.0 1212.1,841.5 1212.6,842.0 1213.1,841.3 1213.6,841.5 1214.1,842.0 1214.6,841.6 1215.1,841.1 1215.6,841.7 1216.1,841.0 1216.6,840.7 1217.1,840.8 1217.6,840.9 1218.1,841.1 1218.6,840.7 1219.1,841.4 1219.6,840.8 1220.0,841.5 1220.5,841.5 1221.0,841.3 1221.5,841.6 1222.0,840.5 1222.5,840.4 1223.0,840.7 1223.5,841.1 1224.0,840.6 1224.5,841.3 1225.0,841.1 1225.5,840.5 1226.0,840.4 1226.5,840.9 1227.0,841.4 1227.5,840.3 1228.0,841.2 1228.4,840.9 1228.9,841.4 1229.4,841.1 1229.9,840.2 1230.4,841.4 1230.9,840.7 1231.4,841.2 1231.9,840.4 1232.4,839.9 1232.9,841.0 1233.4,840.0 1233.9,840.0 1234.4,840.9 1234.9,840.9 1235.4,840.6 1235.9,840.7 1236.4,840.5 1236.8,840.3 1237.3,839.9 1237.8,840.0 1238.3,840.8 1238.8,840.6 1239.3,840.1 1239.8,839.7 1240.3,839.6 1240.8,839.7 1241.3,839.4 1241.8,839.7 1242.3,839.2 1242.8,840.4 1243.3,840.4 1243.8,839.7 1244.3,839.7 1244.8,839.6 1245.2,839.5 1245.7,840.6 1246.2,839.9 1246.7,841.0 1247.2,840.4 1247.7,840.3 1248.2,840.6 1248.7,840.9 1249.2,840.6 1249.7,840.0 1250.2,840.9 1250.7,840.3 1251.2,839.6 1251.7,840.3 1252.2,839.2 1252.7,839.6 1253.2,839.6 1253.6,839.0 1254.1,839.3 1254.6,840.1 1255.1,839.7 1255.6,839.1 1256.1,838.9 1256.6,839.7 1257.1,839.1 1257.6,838.7 1258.1,839.7 1258.6,838.5 1259.1,839.2 1259.6,838.8 1260.1,837.7 1260.6,837.9 1261.1,838.3 1261.6,837.8 1262.0,836.9 1262.5,836.7 1263.0,836.8 1263.5,835.9 1264.0,835.9 1264.5,836.1 1265.0,834.9 1265.5,835.6 1266.0,834.9 1266.5,835.0 1267.0,834.5 1267.5,833.8 1268.0,832.8 1268.5,832.6 1269.0,832.2 1269.5,832.3 1270.0,831.8 1270.5,830.9 1270.9,830.3 1271.4,830.7 1271.9,830.6 1272.4,830.2 1272.9,829.7 1273.4,828.7 1273.9,828.3 1274.4,829.0 1274.9,828.6 1275.4,828.1 1275.9,828.3 1276.4,828.9 1276.9,827.8 1277.4,828.5 1277.9,829.0 1278.4,828.3 1278.9,829.3 1279.3,828.4 1279.8,828.6 1280.3,828.5 1280.8,829.0 1281.3,829.5 1281.8,829.7 1282.3,830.5 1282.8,829.9 1283.3,830.0 1283.8,830.8 1284.3,831.1 1284.8,830.8 1285.3,832.0 1285.8,832.7 1286.3,832.3 1286.8,833.0 1287.3,833.8 1287.7,834.0 1288.2,834.1 1288.7,833.8 1289.2,834.3 1289.7,834.8 1290.2,835.4 1290.7,835.1 1291.2,835.2 1291.7,836.6 1292.2,836.6 1292.7,836.6 1293.2,836.8 1293.7,837.2 1294.2,837.4 1294.7,836.5 1295.2,836.9 1295.7,838.0 1296.1,837.5 1296.6,837.3 1297.1,838.3 1297.6,838.2 1298.1,838.1 1298.6,838.4 1299.1,839.1 1299.6,838.7 1300.1,839.6 1300.6,838.7 1301.1,839.7 1301.6,839.0 1302.1,840.1 1302.6,838.8 1303.1,839.1 1303.6,838.9 1304.1,840.0 1304.5,839.4 1305.0,839.6 1305.5,839.4 1306.0,839.5 1306.5,840.3 1307.0,840.1 1307.5,839.7 1308.0,839.3 1308.5,839.4 1309.0,839.8 1309.5,839.8 1310.0,840.3 1310.5,840.3 1311.0,839.7 1311.5,840.1 1312.0,840.5 1312.5,839.5 1312.9,839.9 1313.4,839.8 1313.9,840.5 1314.4,840.0 1314.9,840.3 1315.4,840.3 1315.9,840.5 1316.4,839.7 1316.9,840.4 1317.4,840.3 1317.9,839.3 1318.4,840.0 1318.9,840.2 1319.4,840.1 1319.9,840.5 1320.4,839.5 1320.9,840.0 1321.3,839.9 1321.8,839.6 1322.3,839.8 1322.8,839.1 1323.3,839.3 1323.8,838.9 1324.3,838.5 1324.8,838.1 1325.3,838.3 1325.8,838.5 1326.3,837.2 1326.8,837.8 1327.3,836.5 1327.8,837.4 1328.3,836.4 1328.8,836.0 1329.3,836.4 1329.7,835.2 1330.2,835.0 1330.7,836.0 1331.2,835.1 1331.7,835.5 1332.2,836.3 1332.7,836.2 1333.2,836.6 1333.7,837.3 1334.2,836.5 1334.7,837.1 1335.2,836.7 1335.7,838.0 1336.2,838.2 1336.7,838.0 1337.2,837.3 1337.7,837.8 1338.1,837.5 1338.6,837.2 1339.1,837.0 1339.6,836.1 1340.1,836.0 1340.6,835.5 1341.1,836.1 1341.6,835.9 1342.1,834.5 1342.6,835.0 1343.1,833.9 1343.6,833.4 1344.1,833.4 1344.6,833.9 1345.1,832.8 1345.6,832.9 1346.1,833.8 1346.5,833.0 1347.0,834.3 1347.5,834.8 1348.0,834.8 1348.5,834.8 1349.0,835.7 1349.5,836.3 1350.0,836.0 1350.5,836.4 1351.0,837.2 1351.5,837.9 1352.0,838.7 1352.5,838.9 1353.0,839.0 1353.5,839.4 1354.0,839.0 1354.5,839.9 1354.9,839.8 1355.4,839.4 1355.9,839.9 1356.4,839.7 1356.9,839.7 1357.4,840.7 1357.9,840.5 1358.4,840.3 1358.9,840.9 1359.4,841.0 1359.9,840.0 1360.4,840.0 1360.9,841.2 1361.4,840.1 1361.9,840.3 1362.4,840.6 1362.9,840.1 1363.3,841.1 1363.8,840.3 1364.3,840.5 1364.8,840.8 1365.3,840.1 1365.8,840.5 1366.3,840.8 1366.8,840.4 1367.3,840.1 1367.8,840.3 1368.3,839.3 1368.8,840.5 1369.3,840.0 1369.8,839.2 1370.3,839.7 1370.8,839.8 1371.3,839.3 1371.7,839.1 1372.2,839.8 1372.7,840.1 1373.2,839.4 1373.7,839.7 1374.2,838.9 1374.7,839.6 1375.2,839.7 1375.7,839.2 1376.2,838.8 1376.7,838.2 1377.2,839.2 1377.7,838.3 1378.2,838.9 1378.7,837.6 1379.2,838.0 1379.7,838.5 1380.1,837.5 1380.6,837.3 1381.1,837.5 1381.6,838.0 1382.1,837.5 1382.6,837.7 1383.1,837.7 1383.6,836.7 1384.1,836.7 1384.6,836.8 1385.1,836.3 1385.6,836.7 1386.1,835.8 1386.6,835.8 1387.1,835.3 1387.6,834.7 1388.1,834.0 1388.6,832.9 1389.0,831.4 1389.5,829.7 1390.0,828.7 1390.5,827.7 1391.0,826.3 1391.5,823.1 1392.0,821.3 1392.5,818.9 1393.0,816.6 1393.5,814.2 1394.0,812.0 1394.5,809.2 1395.0,807.3 1395.5,803.4 1396.0,802.0 1396.5,799.4 1397.0,796.9 1397.4,796.1 1397.9,795.1 1398.4,793.3 1398.9,794.5 1399.4,793.9 1399.9,795.0 1400.4,796.9 1400.9,798.6 1401.4,801.0 1401.9,803.9 1402.4,806.8 1402.9,808.6 1403.4,812.0 1403.9,814.7 1404.4,816.4 1404.9,819.3 1405.4,820.8 1405.8,823.1 1406.3,825.8 1406.8,826.6 1407.3,829.1 1407.8,830.9 1408.3,831.9 1408.8,833.1 1409.3,833.1 1409.8,834.0 1410.3,835.3 1410.8,836.0 1411.3,836.8 1411.8,836.6 1412.3,836.7 1412.8,837.6 1413.3,838.5 1413.8,838.1 1414.2,837.8 1414.7,838.7 1415.2,838.8 1415.7,838.7 1416.2,839.4 1416.7,839.4 1417.2,838.3 1417.7,839.4 1418.2,839.2 1418.7,839.3 1419.2,838.8 1419.7,839.6 1420.2,839.9 1420.7,839.6 1421.2,839.0 1421.7,839.8 1422.2,840.2 1422.6,840.3 1423.1,839.9 1423.6,839.6 1424.1,839.5 1424.6,840.2 1425.1,839.5 1425.6,840.0 1426.1,840.7 1426.6,840.1 1427.1,839.8 1427.6,839.6 1428.1,840.4 1428.6,839.5 1429.1,839.5 1429.6,840.2 1430.1,839.4 1430.6,839.6 1431.0,840.7 1431.5,840.3 1432.0,839.6 1432.5,840.6 1433.0,840.8 1433.5,839.8 1434.0,840.3 1434.5,840.3 1435.0,840.2 1435.5,840.5 1436.0,840.5 1436.5,839.8 1437.0,840.1 1437.5,840.4 1438.0,840.6 1438.5,840.4 1439.0,840.3 1439.4,840.3 1439.9,840.8 1440.4,840.3 1440.9,839.6 1441.4,840.5 1441.9,839.9 1442.4,840.7 1442.9,839.6 1443.4,840.5 1443.9,840.1 1444.4,840.7 1444.9,839.8 1445.4,840.5 1445.9,839.8 1446.4,840.4 1446.9,839.9 1447.4,839.8 1447.8,840.1 1448.3,840.1 1448.8,839.6 1449.3,840.2 1449.8,840.0 1450.3,839.9 1450.8,839.5 1451.3,840.7 1451.8,840.5 1452.3,839.8 1452.8,840.9 1453.3,841.1 1453.8,840.5 1454.3,840.6 1454.8,841.1 1455.3,841.0 1455.8,840.8 1456.2,840.6 1456.7,841.1 1457.2,841.7 1457.7,841.6 1458.2,840.8 1458.7,840.5 1459.2,841.6 1459.7,841.1 1460.2,840.4 1460.7,840.6 1461.2,841.3 1461.7,840.2 1462.2,840.6 1462.7,840.1 1463.2,841.1 1463.7,840.0 1464.2,841.2 1464.6,840.6 1465.1,840.4 1465.6,840.3 1466.1,840.8 1466.6,840.6 1467.1,840.3 1467.6,840.5 1468.1,840.6 1468.6,840.3 1469.1,841.1 1469.6,841.0 1470.1,840.5 1470.6,840.8 1471.1,840.7 1471.6,841.2 1472.1,840.5 1472.6,840.7 1473.0,840.9 1473.5,840.6 1474.0,841.3 1474.5,840.8 1475.0,840.6 1475.5,841.3 1476.0,840.9 1476.5,841.3 1477.0,840.2 1477.5,840.5 1478.0,841.0 1478.5,840.3 1479.0,841.3 1479.5,840.7 1480.0,841.5 1480.5,841.1 1481.0,840.3 1481.4,840.6 1481.9,840.9 1482.4,840.5 1482.9,840.3 1483.4,841.3 1483.9,840.7 1484.4,840.8 1484.9,840.7 1485.4,840.5 1485.9,841.0 1486.4,840.2 1486.9,841.1 1487.4,840.8 1487.9,839.9 1488.4,840.8 1488.9,840.4 1489.4,841.0 1489.8,840.4 1490.3,841.0 1490.8,840.1 1491.3,840.8 1491.8,840.2 1492.3,841.3 1492.8,840.6 1493.3,841.4 1493.8,841.4 1494.3,840.8 1494.8,841.0 1495.3,841.8 1495.8,841.2 1496.3,840.7 1496.8,841.7 1497.3,841.5 1497.8,841.5 1498.3,840.7 1498.7,841.1 1499.2,840.8 1499.7,841.3 1500.2,840.6 1500.7,841.6 1501.2,840.6 1501.7,841.2 1502.2,841.0 1502.7,841.6 1503.2,841.3 1503.7,841.0 1504.2,841.0 1504.7,840.9 1505.2,841.6 1505.7,841.0 1506.2,841.6 1506.7,840.8 1507.1,841.5 1507.6,841.6 1508.1,841.4 1508.6,840.7 1509.1,841.4 1509.6,841.1 1510.1,840.5 1510.6,841.5 1511.1,841.1 1511.6,841.1 1512.1,840.5 1512.6,840.4 1513.1,840.9 1513.6,841.5 1514.1,840.8 1514.6,841.5 1515.1,840.6 1515.5,841.7 1516.0,841.8 1516.5,840.7 1517.0,841.5 1517.5,841.4 1518.0,841.9 1518.5,841.3 1519.0,841.3 1519.5,841.2 1520.0,841.0 1520.5,841.4 1521.0,841.6 1521.5,841.9 1522.0,841.8 1522.5,841.9 1523.0,841.4 1523.5,842.0 1523.9,841.0 1524.4,842.0 1524.9,841.1 1525.4,841.4 1525.9,840.9 1526.4,841.4 1526.9,841.0 1527.4,841.9 1527.9,841.5 1528.4,841.9 1528.9,841.9 1529.4,841.7 1529.9,841.3 1530.4,841.5 1530.9,842.4 1531.4,841.9 1531.9,841.5 1532.3,842.3 1532.8,842.1 1533.3,842.5 1533.8,841.6 1534.3,841.4 1534.8,841.7 1535.3,841.4 1535.8,842.3 1536.3,841.7 1536.8,842.1 1537.3,841.5 1537.8,841.6 1538.3,841.8 1538.8,841.8 1539.3,841.9 1539.8,840.7 1540.3,840.6 1540.7,840.8 1541.2,841.5 1541.7,841.6 1542.2,841.2 1542.7,841.1 1543.2,841.9 1543.7,841.8 1544.2,841.6 1544.7,842.2 1545.2,841.4 1545.7,842.0 1546.2,841.3 1546.7,841.7 1547.2,841.3 1547.7,841.4 1548.2,842.0 1548.7,842.3 1549.1,841.7 1549.6,842.4 1550.1,841.8 1550.6,841.7 1551.1,841.9 1551.6,842.3 1552.1,841.9 1552.6,841.8 1553.1,842.0 1553.6,841.2 1554.1,841.5 1554.6,841.1 1555.1,841.4 1555.6,841.1 1556.1,841.2 1556.6,840.9 1557.1,840.9 1557.5,841.2 1558.0,841.0 1558.5,840.8 1559.0,840.3 1559.5,840.2 1560.0,839.6 1560.5,839.9 1561.0,839.8 1561.5,839.6 1562.0,839.6 1562.5,839.6 1563.0,839.7 1563.5,838.8 1564.0,839.0 1564.5,839.8 1565.0,838.6 1565.5,839.6 1565.9,839.2 1566.4,839.4 1566.9,839.3 1567.4,839.8 1567.9,839.5 1568.4,840.0 1568.9,839.3 1569.4,839.4 1569.9,840.4 1570.4,840.3 1570.9,840.1 1571.4,840.2 1571.9,839.8 1572.4,840.3 1572.9,841.0 1573.4,840.6 1573.9,840.6 1574.3,840.3 1574.8,840.6 1575.3,841.2 1575.8,841.0 1576.3,840.6 1576.8,840.9 1577.3,841.2 1577.8,840.3 1578.3,840.3 1578.8,841.3 1579.3,840.9 1579.8,840.3 1580.3,841.0 1580.8,840.5 1581.3,839.9 1581.8,840.9 1582.3,840.4 1582.7,840.4 1583.2,839.7 1583.7,839.8 1584.2,839.9 1584.7,839.8 1585.2,840.1 1585.7,839.3 1586.2,839.2 1586.7,839.4 1587.2,839.2 1587.7,838.5 1588.2,839.4 1588.7,839.6 1589.2,838.7 1589.7,838.9 1590.2,839.7 1590.7,839.9 1591.1,839.4 1591.6,840.0 1592.1,839.7 1592.6,840.5 1593.1,840.4 1593.6,840.5 1594.1,840.4 1594.6,841.3 1595.1,840.8 1595.6,840.5 1596.1,840.6 1596.6,840.9 1597.1,841.1 1597.6,841.6 1598.1,841.9 1598.6,842.0 1599.1,842.0 1599.5,841.1 1600.0,841.1 1600.5,841.4 1601.0,841.8 1601.5,841.2 1602.0,841.2 1602.5,841.7 1603.0,841.7 1603.5,841.3 1604.0,841.4 1604.5,841.8 1605.0,841.9 1605.5,841.4 1606.0,841.8 1606.5,841.6 1607.0,841.9 1607.5,841.7 1607.9,842.0 1608.4,841.2 1608.9,841.4 1609.4,842.2 1609.9,841.1 1610.4,841.7 1610.9,841.7 1611.4,841.9 1611.9,842.1 1612.4,842.4 1612.9,841.6 1613.4,842.2 1613.9,841.6 1614.4,841.5 1614.9,842.0 1615.4,841.4 1615.9,842.3 1616.4,842.7 1616.8,841.9 1617.3,841.6 1617.8,842.3 1618.3,842.6 1618.8,842.6 1619.3,842.4 1619.8,842.7 1620.3,842.2 1620.8,842.6 1621.3,842.0 1621.8,842.2 1622.3,842.9 1622.8,842.0 1623.3,841.8 1623.8,842.2 1624.3,842.1 1624.8,842.4 1625.2,842.2 1625.7,842.3 1626.2,842.6 1626.7,842.7 1627.2,843.0 1627.7,842.1 1628.2,842.3 1628.7,842.2 1629.2,842.6 1629.7,841.9 1630.2,842.6 1630.7,841.7 1631.2,842.0 1631.7,842.0 1632.2,842.5 1632.7,842.6 1633.2,841.6 1633.6,842.4 1634.1,842.6 1634.6,842.6 1635.1,841.8 1635.6,842.2 1636.1,842.3 1636.6,841.8 1637.1,842.0 1637.6,842.1 1638.1,842.5 1638.6,842.2 1639.1,842.8 1639.6,841.9 1640.1,842.6 1640.6,842.5 1641.1,843.0 1641.6,842.5 1642.0,842.7 1642.5,843.0 1643.0,842.9 1643.5,842.0 1644.0,842.2 1644.5,842.6 1645.0,842.8 1645.5,842.7 1646.0,842.8 1646.5,842.7 1647.0,843.0 1647.5,842.9 1648.0,842.5 1648.5,842.0 1649.0,843.0 1649.5,842.7 1650.0,842.3 1650.4,842.3 1650.9,842.0 1651.4,842.0 1651.9,842.7 1652.4,842.5 1652.9,842.6 1653.4,842.3 1653.9,842.4 1654.4,842.9 1654.9,842.4 1655.4,842.1 1655.9,842.2 1656.4,842.4 1656.9,841.5 1657.4,841.6 1657.9,841.6 1658.4,842.4 1658.8,841.7 1659.3,841.6 1659.8,841.6 1660.3,841.6 1660.8,841.5 1661.3,841.4 1661.8,842.5 1662.3,841.3 1662.8,842.2 1663.3,842.1 1663.8,841.5 1664.3,841.5 1664.8,842.5 1665.3,841.9 1665.8,841.6 1666.3,841.5 1666.8,841.5 1667.2,842.2 1667.7,841.4 1668.2,842.2 1668.7,841.6 1669.2,841.5 1669.7,841.9 1670.2,842.2 1670.7,842.1 1671.2,841.3 1671.7,841.6 1672.2,841.5 1672.7,841.7 1673.2,841.9 1673.7,841.5 1674.2,842.6 1674.7,842.7 1675.2,842.0 1675.6,842.9 1676.1,842.1 1676.6,842.1 1677.1,843.0 1677.6,842.3 1678.1,842.9 1678.6,842.8 1679.1,842.9 1679.6,843.0 1680.1,842.7 1680.6,842.8 1681.1,842.1 1681.6,842.0 1682.1,842.4 1682.6,843.1 1683.1,842.1 1683.6,842.0 1684.0,842.8 1684.5,841.5 1685.0,842.2 1685.5,841.3 1686.0,841.5 1686.5,842.2 1687.0,841.2 1687.5,841.9 1688.0,841.6 1688.5,841.1 1689.0,840.5 1689.5,840.4 1690.0,840.8 1690.5,840.6 1691.0,840.7 1691.5,840.5 1692.0,840.2 1692.4,839.9 1692.9,840.4 1693.4,841.0 1693.9,840.1 1694.4,840.9 1694.9,840.8 1695.4,840.5 1695.9,840.0 1696.4,840.2 1696.9,839.8 1697.4,839.6 1697.9,839.5 1698.4,839.3 1698.9,839.1 1699.4,838.8 1699.9,838.8 1700.4,839.4 1700.8,839.0 1701.3,839.1 1701.8,837.6 1702.3,838.2 1702.8,837.4 1703.3,837.2 1703.8,837.5 1704.3,836.3 1704.8,836.5 1705.3,834.8 1705.8,835.3 1706.3,834.2 1706.8,834.0 1707.3,833.1 1707.8,833.0 1708.3,831.6 1708.8,831.7 1709.2,830.5 1709.7,830.0 1710.2,828.6 1710.7,828.3 1711.2,827.3 1711.7,826.0 1712.2,825.5 1712.7,824.9 1713.2,823.8 1713.7,822.6 1714.2,822.3 1714.7,820.8 1715.2,820.0 1715.7,819.3 1716.2,819.5 1716.7,818.0 1717.2,818.2 1717.6,818.1 1718.1,817.8 1718.6,817.7 1719.1,818.0 1719.6,818.6 1720.1,819.1 1720.6,820.3 1721.1,820.2 1721.6,821.2 1722.1,822.6 1722.6,822.8 1723.1,824.1 1723.6,825.1 1724.1,825.0 1724.6,826.2 1725.1,828.0 1725.6,828.4 1726.0,828.7 1726.5,829.5 1727.0,830.3 1727.5,832.1 1728.0,831.8 1728.5,833.3 1729.0,833.7 1729.5,834.8 1730.0,835.0 1730.5,835.1 1731.0,835.3 1731.5,836.8 1732.0,836.2 1732.5,837.2 1733.0,837.8 1733.5,838.3 1734.0,837.7 1734.5,837.9 1734.9,838.2 1735.4,838.5 1735.9,838.4 1736.4,839.4 1736.9,839.7 1737.4,839.5 1737.9,840.1 1738.4,839.5 1738.9,840.1 1739.4,840.2 1739.9,840.0 1740.4,841.1 1740.9,841.1 1741.4,840.7 1741.9,840.8 1742.4,841.8 1742.9,841.7 1743.3,841.0 1743.8,841.5 1744.3,841.3 1744.8,841.6 1745.3,842.4 1745.8,842.0 1746.3,842.9 1746.8,841.9 1747.3,843.1 1747.8,842.0 1748.3,842.8 1748.8,843.0 1749.3,843.0 1749.8,842.1 1750.3,843.1 1750.8,842.2 1751.3,842.5 1751.7,842.9 1752.2,842.3 1752.7,842.0 1753.2,842.0 1753.7,842.6 1754.2,841.7 1754.7,842.0 1755.2,841.5 1755.7,841.6 1756.2,841.3 1756.7,842.4 1757.2,841.4 1757.7,841.4 1758.2,841.2 1758.7,841.4 1759.2,842.3 1759.7,842.0 1760.1,841.4 1760.6,842.1 1761.1,842.4 1761.6,841.7 1762.1,842.4 1762.6,841.9 1763.1,842.1 1763.6,842.8 1764.1,842.9 1764.6,843.0 1765.1,842.1 1765.6,842.8 1766.1,842.8 1766.6,843.0 1767.1,842.8 1767.6,843.1 1768.1,843.2 1768.5,842.3 1769.0,842.3 1769.5,842.6 1770.0,843.2 1770.5,843.1 1771.0,843.0 1771.5,842.7 1772.0,842.7 1772.5,843.1 1773.0,843.3 1773.5,843.7 1774.0,842.6 1774.5,843.4 1775.0,843.5 1775.5,843.7 1776.0,843.4 1776.5,843.8 1776.9,843.9 1777.4,843.2 1777.9,844.1 1778.4,843.2 1778.9,844.3 1779.4,843.6 1779.9,843.7 1780.4,843.6 1780.9,843.6 1781.4,843.3 1781.9,843.9 1782.4,843.8 1782.9,843.5 1783.4,844.3 1783.9,843.0 1784.4,843.4 1784.9,843.2 1785.3,843.0 1785.8,843.3 1786.3,843.1 1786.8,842.7 1787.3,843.0 1787.8,843.5 1788.3,843.3 1788.8,842.6 1789.3,843.8 1789.8,842.8 1790.3,843.2 1790.8,843.2 1791.3,843.8 1791.8,843.7 1792.3,843.5 1792.8,844.1 1793.3,843.2 1793.7,843.5 1794.2,843.3 1794.7,843.1 1795.2,843.8 1795.7,844.2 1796.2,843.0 1796.7,844.1 1797.2,843.8 1797.7,844.3 1798.2,843.3 1798.7,843.8 1799.2,844.5 1799.7,843.9 1800.2,843.2 1800.7,844.3 1801.2,843.6 1801.7,844.3 1802.1,843.6 1802.6,843.8 1803.1,843.3 1803.6,843.7 1804.1,843.6 1804.6,843.1 1805.1,842.9 1805.6,843.1 1806.1,843.4 1806.6,843.3 1807.1,843.8 1807.6,843.7 1808.1,842.9 1808.6,842.7 1809.1,843.0 1809.6,843.5 1810.1,843.1 1810.5,843.2 1811.0,843.6 1811.5,843.0 1812.0,842.6 1812.5,842.9 1813.0,843.1 1813.5,842.8 1814.0,843.0 1814.5,843.7 1815.0,843.9 1815.5,843.6 1816.0,843.5 1816.5,843.0 1817.0,843.5 1817.5,843.6 1818.0,842.7 1818.5,843.0 1818.9,843.1 1819.4,843.6 1819.9,842.8 1820.4,842.5 1820.9,843.5 1821.4,843.1 1821.9,842.3 1822.4,842.8 1822.9,842.8 1823.4,842.5 1823.9,843.4 1824.4,842.6 1824.9,842.5 1825.4,843.1 1825.9,843.0 1826.4,844.0 1826.9,844.0 1827.3,843.4 1827.8,843.1 1828.3,843.3 1828.8,844.0 1829.3,844.4 1829.8,843.3 1830.3,843.5 1830.8,844.5 1831.3,843.6 1831.8,844.4 1832.3,844.2 1832.8,843.7 1833.3,843.5 1833.8,844.6 1834.3,844.4 1834.8,844.9 1835.3,843.8 1835.7,844.1 1836.2,844.5 1836.7,844.0 1837.2,844.7 1837.7,844.6 1838.2,844.4 1838.7,843.5 1839.2,844.5 1839.7,843.8 1840.2,844.1 1840.7,843.6 1841.2,843.7 1841.7,843.4 1842.2,843.5 1842.7,843.1 1843.2,843.1 1843.7,843.2 1844.2,842.8 1844.6,843.7 1845.1,842.6 1845.6,842.8 1846.1,842.8 1846.6,842.6 1847.1,843.6 1847.6,842.8 1848.1,842.7 1848.6,842.8 1849.1,843.6 1849.6,843.1 1850.1,843.3 1850.6,843.7 1851.1,844.1 1851.6,843.0 1852.1,843.3 1852.6,843.3 1853.0,844.1 1853.5,844.0 1854.0,844.3 1854.5,843.3 1855.0,843.5 1855.5,844.0 1856.0,844.2 1856.5,844.3 1857.0,844.2 1857.5,843.9 1858.0,843.5 1858.5,843.8 1859.0,843.6 1859.5,844.6 1860.0,844.7 1860.5,844.2 1861.0,844.6 1861.4,844.1 1861.9,843.9 1862.4,844.3 1862.9,843.7 1863.4,844.6 1863.9,844.0 1864.4,844.4 1864.9,844.3 1865.4,844.3 1865.9,844.1 1866.4,843.7 1866.9,843.8 1867.4,843.9 1867.9,843.9 1868.4,843.7 1868.9,844.1 1869.4,844.0 1869.8,843.6 1870.3,843.6 1870.8,844.5 1871.3,844.1 1871.8,843.4 1872.3,844.0 1872.8,844.0 1873.3,844.1 1873.8,843.8 1874.3,844.8 1874.8,843.9 1875.3,844.9 1875.8,844.1 1876.3,844.0 1876.8,844.1 1877.3,845.3 1877.8,844.5 1878.2,844.8 1878.7,844.8 1879.2,845.2 1879.7,844.4 1880.2,844.7 1880.7,845.3 1881.2,845.1 1881.7,844.5 1882.2,845.1 1882.7,845.3 1883.2,844.7 1883.7,844.9 1884.2,845.2 1884.7,844.7 1885.2,844.7 1885.7,845.2 1886.2,845.4 1886.6,845.0 1887.1,844.7 1887.6,845.1 1888.1,844.5 1888.6,844.1 1889.1,844.7 1889.6,843.8 1890.1,844.6 1890.6,844.2 1891.1,844.3 1891.6,843.9 1892.1,844.3 1892.6,844.5 1893.1,843.8 1893.6,844.0 1894.1,844.5 1894.6,843.9 1895.0,843.5 1895.5,843.9 1896.0,843.6 1896.5,843.3 1897.0,843.6 1897.5,843.3 1898.0,843.5 1898.5,843.9 1899.0,843.9 1903.0,843.9"/>
</g>
<g clip-path="url(#up)"><polyline stroke="#0000ff" points="624.1,760 624.1,585 625.2,510 626.8,497.7 627.9,510 628.8,615 629.9,693 630,760"/></g>
<g clip-path="url(#lo)">
<polyline stroke="#ff0000" points="166.5,1081.1 169.5,1081.1 170.0,1081.0 170.5,1080.9 171.0,1081.0 171.5,1082.6 172.0,1080.7 172.5,1082.1 173.0,1082.5 173.5,1082.8 173.9,1083.2 174.4,1082.0 174.9,1082.5 175.4,1082.3 175.9,1080.4 176.4,1082.1 176.9,1079.8 177.4,1080.2 177.9,1079.0 178.4,1081.4 178.9,1081.7 179.4,1079.1 179.9,1079.7 180.4,1080.5 180.9,1079.0 181.4,1080.3 181.9,1080.0 182.3,1079.2 182.8,1081.4 183.3,1081.3 183.8,1082.6 184.3,1081.4 184.8,1081.7 185.3,1083.1 185.8,1084.2 186.3,1082.3 186.8,1082.8 187.3,1082.6 187.8,1085.0 188.3,1082.9 188.8,1085.4 189.3,1084.1 189.8,1083.2 190.3,1083.5 190.7,1084.7 191.2,1086.4 191.7,1084.2 192.2,1085.1 192.7,1084.0 193.2,1086.5 193.7,1084.8 194.2,1084.8 194.7,1086.2 195.2,1085.6 195.7,1084.6 196.2,1085.4 196.7,1087.0 197.2,1084.7 197.7,1086.6 198.2,1085.3 198.7,1086.3 199.1,1086.2 199.6,1088.1 200.1,1088.7 200.6,1088.1 201.1,1087.8 201.6,1087.0 202.1,1089.0 202.6,1088.7 203.1,1086.7 203.6,1087.4 204.1,1087.2 204.6,1086.1 205.1,1088.2 205.6,1088.6 206.1,1086.6 206.6,1086.7 207.1,1089.3 207.5,1089.1 208.0,1086.7 208.5,1089.3 209.0,1087.5 209.5,1090.0 210.0,1088.1 210.5,1089.4 211.0,1087.8 211.5,1088.3 212.0,1089.7 212.5,1089.6 213.0,1090.4 213.5,1090.3 214.0,1089.6 214.5,1088.4 215.0,1090.2 215.5,1090.6 215.9,1090.4 216.4,1089.2 216.9,1089.0 217.4,1089.3 217.9,1089.1 218.4,1089.7 218.9,1092.4 219.4,1090.0 219.9,1090.7 220.4,1092.4 220.9,1091.0 221.4,1091.5 221.9,1092.7 222.4,1091.0 222.9,1091.9 223.4,1093.4 223.9,1093.3 224.3,1093.8 224.8,1093.3 225.3,1093.7 225.8,1094.1 226.3,1094.3 226.8,1092.0 227.3,1094.4 227.8,1094.0 228.3,1092.7 228.8,1093.3 229.3,1094.5 229.8,1094.4 230.3,1093.7 230.8,1094.5 231.3,1094.6 231.8,1092.1 232.3,1093.8 232.8,1092.3 233.2,1092.8 233.7,1093.7 234.2,1094.1 234.7,1094.0 235.2,1091.0 235.7,1092.0 236.2,1092.6 236.7,1091.7 237.2,1092.9 237.7,1092.0 238.2,1091.6 238.7,1092.3 239.2,1091.8 239.7,1092.0 240.2,1092.4 240.7,1091.7 241.2,1093.9 241.6,1093.2 242.1,1093.3 242.6,1093.3 243.1,1095.2 243.6,1095.0 244.1,1092.7 244.6,1095.3 245.1,1095.7 245.6,1094.7 246.1,1094.2 246.6,1096.2 247.1,1094.4 247.6,1096.1 248.1,1096.0 248.6,1094.0 249.1,1094.9 249.6,1094.0 250.0,1095.3 250.5,1093.7 251.0,1095.9 251.5,1094.8 252.0,1093.7 252.5,1093.7 253.0,1093.8 253.5,1094.1 254.0,1096.5 254.5,1094.5 255.0,1096.4 255.5,1097.1 256.0,1096.7 256.5,1095.3 257.0,1096.6 257.5,1096.3 258.0,1097.1 258.4,1098.1 258.9,1096.4 259.4,1097.5 259.9,1095.9 260.4,1098.1 260.9,1096.5 261.4,1097.0 261.9,1098.4 262.4,1098.5 262.9,1097.3 263.4,1098.2 263.9,1098.2 264.4,1096.8 264.9,1097.0 265.4,1097.1 265.9,1097.9 266.4,1099.3 266.8,1098.9 267.3,1097.7 267.8,1097.3 268.3,1098.3 268.8,1098.4 269.3,1097.2 269.8,1099.6 270.3,1098.4 270.8,1100.3 271.3,1099.8 271.8,1099.2 272.3,1100.7 272.8,1098.8 273.3,1098.5 273.8,1100.6 274.3,1098.7 274.8,1100.7 275.2,1099.7 275.7,1099.1 276.2,1099.3 276.7,1101.0 277.2,1098.5 277.7,1099.2 278.2,1100.7 278.7,1098.6 279.2,1100.7 279.7,1100.1 280.2,1098.1 280.7,1099.9 281.2,1098.9 281.7,1098.9 282.2,1100.4 282.7,1100.2 283.2,1099.1 283.6,1100.6 284.1,1100.6 284.6,1101.0 285.1,1099.7 285.6,1100.3 286.1,1100.6 286.6,1100.8 287.1,1100.6 287.6,1098.9 288.1,1099.4 288.6,1100.6 289.1,1101.7 289.6,1101.5 290.1,1101.1 290.6,1101.9 291.1,1101.5 291.6,1101.3 292.0,1100.0 292.5,1101.9 293.0,1101.2 293.5,1100.9 294.0,1102.5 294.5,1101.3 295.0,1103.0 295.5,1102.9 296.0,1102.7 296.5,1101.5 297.0,1103.1 297.5,1103.5 298.0,1101.7 298.5,1103.5 299.0,1101.3 299.5,1103.7 300.0,1102.1 300.4,1102.8 300.9,1102.2 301.4,1102.9 301.9,1101.2 302.4,1102.8 302.9,1102.9 303.4,1102.1 303.9,1102.0 304.4,1102.0 304.9,1103.4 305.4,1103.2 305.9,1101.9 306.4,1103.9 306.9,1102.5 307.4,1101.9 307.9,1102.0 308.4,1102.6 308.8,1102.3 309.3,1104.4 309.8,1102.7 310.3,1102.9 310.8,1103.7 311.3,1102.7 311.8,1102.6 312.3,1102.2 312.8,1103.5 313.3,1102.4 313.8,1104.7 314.3,1104.4 314.8,1103.6 315.3,1104.5 315.8,1103.8 316.3,1103.3 316.8,1104.0 317.2,1105.4 317.7,1104.1 318.2,1104.1 318.7,1103.4 319.2,1105.1 319.7,1105.9 320.2,1105.0 320.7,1105.6 321.2,1105.9 321.7,1103.9 322.2,1106.2 322.7,1105.6 323.2,1104.4 323.7,1104.5 324.2,1106.1 324.7,1106.0 325.2,1105.6 325.6,1105.7 326.1,1105.7 326.6,1103.6 327.1,1104.5 327.6,1103.7 328.1,1105.7 328.6,1103.6 329.1,1105.5 329.6,1104.5 330.1,1103.3 330.6,1105.4 331.1,1104.7 331.6,1104.5 332.1,1104.0 332.6,1104.3 333.1,1105.6 333.6,1104.5 334.0,1104.2 334.5,1104.1 335.0,1105.9 335.5,1104.8 336.0,1104.5 336.5,1105.3 337.0,1104.9 337.5,1102.0 338.0,1102.0 338.5,1102.0 339.0,1099.8 339.5,1097.8 340.0,1094.2 340.5,1091.3 341.0,1086.3 341.5,1079.1 342.0,1070.9 342.4,1059.7 342.9,1047.8 343.4,1033.4 343.9,1018.7 344.4,1003.2 344.9,989.6 345.4,979.9 345.9,977.4 346.4,979.2 346.9,988.7 347.4,1002.3 347.9,1018.2 348.4,1033.5 348.9,1047.6 349.4,1059.1 349.9,1070.5 350.4,1077.8 350.9,1084.1 351.3,1090.5 351.8,1092.6 352.3,1097.7 352.8,1098.2 353.3,1101.0 353.8,1100.2 354.3,1102.8 354.8,1103.0 355.3,1104.0 355.8,1103.8 356.3,1104.2 356.8,1104.6 357.3,1104.5 357.8,1105.8 358.3,1107.3 358.8,1106.4 359.3,1106.9 359.7,1106.2 360.2,1107.3 360.7,1106.9 361.2,1108.4 361.7,1109.2 362.2,1109.7 362.7,1109.8 363.2,1109.4 363.7,1110.4 364.2,1110.0 364.7,1110.4 365.2,1108.8 365.7,1109.5 366.2,1110.1 366.7,1109.4 367.2,1109.0 367.7,1109.8 368.1,1110.6 368.6,1110.4 369.1,1109.1 369.6,1109.8 370.1,1109.0 370.6,1110.1 371.1,1110.4 371.6,1109.9 372.1,1111.7 372.6,1110.1 373.1,1110.4 373.6,1111.9 374.1,1111.8 374.6,1111.1 375.1,1112.1 375.6,1110.7 376.1,1112.1 376.5,1112.5 377.0,1112.6 377.5,1112.2 378.0,1111.5 378.5,1112.0 379.0,1110.4 379.5,1111.9 380.0,1111.0 380.5,1110.6 381.0,1111.6 381.5,1110.9 382.0,1110.8 382.5,1110.2 383.0,1109.3 383.5,1109.7 384.0,1110.1 384.5,1108.9 384.9,1108.9 385.4,1110.0 385.9,1108.8 386.4,1109.0 386.9,1109.6 387.4,1109.0 387.9,1108.0 388.4,1107.8 388.9,1106.8 389.4,1106.2 389.9,1105.7 390.4,1106.7 390.9,1105.6 391.4,1106.4 391.9,1105.7 392.4,1107.6 392.9,1106.9 393.3,1107.4 393.8,1108.8 394.3,1108.0 394.8,1108.1 395.3,1109.3 395.8,1109.7 396.3,1111.4 396.8,1110.1 397.3,1110.7 397.8,1111.9 398.3,1111.9 398.8,1111.3 399.3,1112.6 399.8,1113.6 400.3,1114.2 400.8,1113.1 401.3,1113.5 401.7,1113.6 402.2,1114.7 402.7,1114.8 403.2,1115.1 403.7,1115.4 404.2,1115.7 404.7,1115.4 405.2,1114.0 405.7,1113.8 406.2,1113.8 406.7,1113.6 407.2,1115.6 407.7,1115.2 408.2,1113.7 408.7,1115.4 409.2,1114.3 409.7,1114.9 410.1,1114.5 410.6,1115.4 411.1,1114.9 411.6,1114.3 412.1,1115.4 412.6,1114.3 413.1,1115.6 413.6,1115.5 414.1,1115.2 414.6,1115.7 415.1,1116.8 415.6,1116.7 416.1,1115.3 416.6,1116.1 417.1,1117.2 417.6,1117.1 418.1,1117.4 418.5,1116.2 419.0,1117.6 419.5,1117.7 420.0,1115.6 420.5,1117.2 421.0,1116.1 421.5,1115.7 422.0,1116.9 422.5,1116.6 423.0,1116.2 423.5,1117.1 424.0,1117.3 424.5,1117.2 425.0,1117.2 425.5,1115.6 426.0,1115.9 426.5,1116.9 426.9,1116.8 427.4,1116.6 427.9,1118.1 428.4,1118.1 428.9,1118.8 429.4,1119.0 429.9,1118.8 430.4,1118.5 430.9,1117.8 431.4,1117.1 431.9,1118.0 432.4,1118.8 432.9,1117.1 433.4,1117.9 433.9,1117.5 434.4,1118.1 434.9,1117.6 435.3,1116.4 435.8,1117.4 436.3,1117.4 436.8,1117.3 437.3,1117.8 437.8,1117.1 438.3,1117.8 438.8,1117.3 439.3,1117.4 439.8,1117.5 440.3,1118.0 440.8,1117.0 441.3,1118.2 441.8,1117.3 442.3,1118.4 442.8,1118.5 443.3,1117.2 443.7,1118.9 444.2,1117.2 444.7,1117.9 445.2,1117.9 445.7,1117.0 446.2,1118.8 446.7,1117.0 447.2,1117.2 447.7,1118.1 448.2,1118.5 448.7,1118.2 449.2,1119.3 449.7,1118.3 450.2,1119.5 450.7,1117.8 451.2,1118.8 451.7,1118.5 452.1,1118.5 452.6,1118.5 453.1,1119.2 453.6,1117.7 454.1,1118.3 454.6,1119.0 455.1,1118.6 455.6,1118.5 456.1,1119.6 456.6,1119.5 457.1,1119.8 457.6,1119.5 458.1,1118.8 458.6,1119.7 459.1,1120.0 459.6,1119.0 460.1,1119.4 460.6,1119.8 461.0,1119.2 461.5,1118.9 462.0,1119.5 462.5,1120.2 463.0,1119.7 463.5,1118.5 464.0,1119.7 464.5,1118.3 465.0,1119.5 465.5,1119.2 466.0,1119.2 466.5,1119.4 467.0,1119.4 467.5,1118.6 468.0,1120.0 468.5,1118.0 469.0,1118.5 469.4,1119.4 469.9,1119.6 470.4,1118.5 470.9,1119.9 471.4,1119.8 471.9,1119.0 472.4,1119.6 472.9,1120.3 473.4,1118.8 473.9,1119.6 474.4,1118.8 474.9,1118.9 475.4,1118.3 475.9,1120.1 476.4,1119.2 476.9,1120.3 477.4,1120.3 477.8,1118.8 478.3,1118.6 478.8,1119.7 479.3,1119.2 479.8,1119.9 480.3,1119.9 480.8,1120.4 481.3,1118.9 481.8,1119.0 482.3,1120.6 482.8,1120.6 483.3,1120.7 483.8,1120.6 484.3,1119.2 484.8,1120.8 485.3,1120.3 485.8,1119.6 486.2,1119.6 486.7,1120.9 487.2,1119.5 487.7,1120.5 488.2,1120.4 488.7,1120.2 489.2,1120.9 489.7,1119.6 490.2,1120.3 490.7,1119.4 491.2,1119.6 491.7,1120.2 492.2,1119.2 492.7,1120.9 493.2,1119.3 493.7,1119.1 494.2,1119.4 494.6,1121.1 495.1,1120.1 495.6,1120.1 496.1,1120.1 496.6,1119.5 497.1,1119.5 497.6,1118.9 498.1,1120.1 498.6,1120.7 499.1,1120.7 499.6,1119.4 500.1,1120.4 500.6,1119.0 501.1,1118.8 501.6,1119.4 502.1,1120.6 502.6,1119.8 503.0,1120.3 503.5,1120.8 504.0,1121.3 504.5,1120.8 505.0,1121.1 505.5,1120.8 506.0,1121.1 506.5,1120.9 507.0,1121.5 507.5,1121.0 508.0,1121.6 508.5,1122.4 509.0,1122.6 509.5,1121.8 510.0,1122.5 510.5,1122.3 511.0,1120.8 511.4,1121.5 511.9,1121.0 512.4,1120.8 512.9,1121.2 513.4,1121.2 513.9,1121.8 514.4,1120.1 514.9,1121.4 515.4,1120.0 515.9,1121.3 516.4,1120.3 516.9,1120.5 517.4,1121.1 517.9,1121.1 518.4,1119.7 518.9,1119.8 519.4,1119.3 519.8,1119.7 520.3,1119.5 520.8,1119.7 521.3,1120.9 521.8,1120.3 522.3,1121.2 522.8,1121.3 523.3,1120.8 523.8,1120.5 524.3,1120.4 524.8,1121.4 525.3,1121.1 525.8,1121.3 526.3,1121.3 526.8,1121.5 527.3,1122.2 527.8,1120.8 528.2,1121.0 528.7,1121.5 529.2,1121.1 529.7,1122.0 530.2,1121.5 530.7,1122.9 531.2,1121.6 531.7,1121.8 532.2,1122.7 532.7,1122.1 533.2,1123.4 533.7,1122.0 534.2,1122.3 534.7,1121.8 535.2,1123.1 535.7,1122.6 536.2,1122.3 536.6,1122.1 537.1,1122.6 537.6,1122.4 538.1,1123.5 538.6,1122.0 539.1,1122.8 539.6,1122.9 540.1,1123.6 540.6,1121.7 541.1,1121.9 541.6,1122.9 542.1,1121.6 542.6,1121.6 543.1,1122.6 543.6,1122.0 544.1,1121.7 544.6,1122.3 545.0,1121.5 545.5,1121.9 546.0,1120.8 546.5,1121.5 547.0,1120.8 547.5,1121.8 548.0,1120.5 548.5,1120.3 549.0,1120.9 549.5,1121.5 550.0,1121.5 550.5,1120.3 551.0,1121.1 551.5,1121.5 552.0,1120.5 552.5,1119.9 553.0,1120.6 553.4,1119.7 553.9,1119.2 554.4,1120.4 554.9,1119.3 555.4,1118.5 555.9,1119.1 556.4,1118.7 556.9,1118.7 557.4,1117.5 557.9,1116.9 558.4,1115.9 558.9,1116.4 559.4,1115.7 559.9,1114.4 560.4,1114.3 560.9,1111.5 561.4,1110.8 561.8,1108.9 562.3,1105.6 562.8,1104.3 563.3,1100.2 563.8,1096.0 564.3,1089.4 564.8,1083.1 565.3,1076.7 565.8,1067.0 566.3,1059.7 566.8,1048.9 567.3,1040.8 567.8,1031.5 568.3,1023.5 568.8,1017.7 569.3,1014.7 569.8,1014.6 570.2,1017.9 570.7,1023.4 571.2,1031.4 571.7,1040.2 572.2,1049.3 572.7,1059.6 573.2,1067.5 573.7,1077.4 574.2,1084.3 574.7,1090.4 575.2,1096.3 575.7,1099.7 576.2,1103.3 576.7,1107.8 577.2,1109.8 577.7,1111.1 578.2,1111.8 578.7,1114.1 579.1,1115.4 579.6,1114.3 580.1,1116.3 580.6,1116.6 581.1,1117.0 581.6,1117.3 582.1,1115.6 582.6,1116.7 583.1,1116.4 583.6,1115.7 584.1,1116.0 584.6,1115.7 585.1,1116.6 585.6,1115.8 586.1,1115.3 586.6,1115.6 587.1,1115.1 587.5,1115.3 588.0,1115.7 588.5,1116.1 589.0,1114.8 589.5,1114.8 590.0,1116.0 590.5,1116.9 591.0,1116.2 591.5,1117.5 592.0,1118.0 592.5,1117.5 593.0,1117.3 593.5,1117.6 594.0,1117.9 594.5,1118.7 595.0,1118.0 595.5,1119.7 595.9,1118.2 596.4,1118.9 596.9,1119.8 597.4,1118.2 597.9,1119.1 598.4,1119.1 598.9,1119.0 599.4,1118.7 599.9,1117.8 600.4,1118.9 600.9,1117.3 601.4,1118.9 601.9,1118.4 602.4,1118.2 602.9,1118.1 603.4,1116.6 603.9,1116.5 604.3,1116.0 604.8,1115.5 605.3,1115.9 605.8,1115.7 606.3,1114.0 606.8,1114.7 607.3,1114.5 607.8,1114.2 608.3,1113.6 608.8,1112.7 609.3,1111.1 609.8,1111.0 610.3,1109.7 610.8,1107.7 611.3,1107.0 611.8,1106.3 612.3,1103.1 612.7,1101.4 613.2,1099.8 613.7,1096.7 614.2,1093.3 614.7,1087.1 615.2,1082.6 615.7,1073.9 616.2,1066.5 616.7,1054.5 617.2,1041.1 617.7,1024.8 618.2,1005.9 618.7,986.4 619.2,962.8 619.7,936.4 620.2,910.9 620.7,884.3 621.1,861.0 621.6,842.3 622.1,832.4 622.6,829.6 623.1,835.5 623.6,850.8 624.1,872.2 624.6,897.8 625.1,923.6 625.6,949.0 626.1,974.3 626.6,996.8 627.1,1015.6 627.6,1033.9 628.1,1048.9 628.6,1059.9 629.1,1069.9 629.5,1078.2 630.0,1085.1 630.5,1091.5 631.0,1094.9 631.5,1097.9 632.0,1101.9 632.5,1103.9 633.0,1105.9 633.5,1107.9 634.0,1109.0 634.5,1110.0 635.0,1110.0 635.5,1112.2 636.0,1112.7 636.5,1112.8 637.0,1114.5 637.5,1113.8 637.9,1114.7 638.4,1115.5 638.9,1117.0 639.4,1116.1 639.9,1118.0 640.4,1117.6 640.9,1117.6 641.4,1118.7 641.9,1119.5 642.4,1118.2 642.9,1120.1 643.4,1120.0 643.9,1118.8 644.4,1120.4 644.9,1119.5 645.4,1119.4 645.9,1119.8 646.3,1119.8 646.8,1120.2 647.3,1120.4 647.8,1120.1 648.3,1120.6 648.8,1119.8 649.3,1119.3 649.8,1119.5 650.3,1120.2 650.8,1119.7 651.3,1120.6 651.8,1119.6 652.3,1120.1 652.8,1119.2 653.3,1120.5 653.8,1120.0 654.3,1119.4 654.7,1120.1 655.2,1119.5 655.7,1120.1 656.2,1119.6 656.7,1119.6 657.2,1119.1 657.7,1117.0 658.2,1116.6 658.7,1115.5 659.2,1114.7 659.7,1113.9 660.2,1111.5 660.7,1110.0 661.2,1107.3 661.7,1104.6 662.2,1103.1 662.7,1098.5 663.1,1094.7 663.6,1091.8 664.1,1088.1 664.6,1083.2 665.1,1077.5 665.6,1074.2 666.1,1068.1 666.6,1065.7 667.1,1061.6 667.6,1058.6 668.1,1057.4 668.6,1058.8 669.1,1058.4 669.6,1061.2 670.1,1065.5 670.6,1068.8 671.1,1073.8 671.5,1077.1 672.0,1083.1 672.5,1086.6 673.0,1090.6 673.5,1093.7 674.0,1097.8 674.5,1101.8 675.0,1103.0 675.5,1105.8 676.0,1107.5 676.5,1109.1 677.0,1110.5 677.5,1111.7 678.0,1112.6 678.5,1112.0 679.0,1112.4 679.5,1113.9 679.9,1113.8 680.4,1113.1 680.9,1113.0 681.4,1111.1 681.9,1111.5 682.4,1110.6 682.9,1109.2 683.4,1107.8 683.9,1105.9 684.4,1105.5 684.9,1102.4 685.4,1100.1 685.9,1096.8 686.4,1091.8 686.9,1086.9 687.4,1080.6 687.9,1071.8 688.3,1063.1 688.8,1049.9 689.3,1036.3 689.8,1018.8 690.3,1000.1 690.8,979.5 691.3,956.8 691.8,932.9 692.3,908.7 692.8,888.1 693.3,871.3 693.8,860.0 694.3,858.9 694.8,865.2 695.3,878.6 695.8,897.9 696.3,920.4 696.8,944.7 697.2,968.9 697.7,990.2 698.2,1011.2 698.7,1028.7 699.2,1044.3 699.7,1057.5 700.2,1067.9 700.7,1078.7 701.2,1084.8 701.7,1091.0 702.2,1095.4 702.7,1100.6 703.2,1102.7 703.7,1105.8 704.2,1108.3 704.7,1108.8 705.2,1111.0 705.6,1111.1 706.1,1113.1 706.6,1114.1 707.1,1114.3 707.6,1114.3 708.1,1114.9 708.6,1114.3 709.1,1113.8 709.6,1113.1 710.1,1113.9 710.6,1113.0 711.1,1112.1 711.6,1111.5 712.1,1111.4 712.6,1111.7 713.1,1111.5 713.6,1112.0 714.0,1112.3 714.5,1112.1 715.0,1113.9 715.5,1114.2 716.0,1114.9 716.5,1116.4 717.0,1118.3 717.5,1119.2 718.0,1120.1 718.5,1121.3 719.0,1121.7 719.5,1123.2 720.0,1122.6 720.5,1123.4 721.0,1124.0 721.5,1125.8 722.0,1125.7 722.4,1127.0 722.9,1125.9 723.4,1126.2 723.9,1126.5 724.4,1126.6 724.9,1128.2 725.4,1127.3 725.9,1127.3 726.4,1128.6 726.9,1128.6 727.4,1127.9 727.9,1127.9 728.4,1128.7 728.9,1127.8 729.4,1127.7 729.9,1127.3 730.4,1127.8 730.8,1127.2 731.3,1127.4 731.8,1127.2 732.3,1127.9 732.8,1127.7 733.3,1128.1 733.8,1128.2 734.3,1128.4 734.8,1128.9 735.3,1128.3 735.8,1127.4 736.3,1128.0 736.8,1128.8 737.3,1128.4 737.8,1129.0 738.3,1128.3 738.8,1127.6 739.2,1127.7 739.7,1127.7 740.2,1128.4 740.7,1127.9 741.2,1128.0 741.7,1129.1 742.2,1129.2 742.7,1129.6 743.2,1128.4 743.7,1129.7 744.2,1128.5 744.7,1129.6 745.2,1129.8 745.7,1129.1 746.2,1130.6 746.7,1130.6 747.2,1130.8 747.6,1130.4 748.1,1129.7 748.6,1131.1 749.1,1130.5 749.6,1130.1 750.1,1129.9 750.6,1130.1 751.1,1130.7 751.6,1130.4 752.1,1130.5 752.6,1131.2 753.1,1130.0 753.6,1130.5 754.1,1129.8 754.6,1129.5 755.1,1131.0 755.6,1129.8 756.0,1129.6 756.5,1130.0 757.0,1130.7 757.5,1130.5 758.0,1130.2 758.5,1129.6 759.0,1129.9 759.5,1130.1 760.0,1129.6 760.5,1129.5 761.0,1128.9 761.5,1129.9 762.0,1129.5 762.5,1129.0 763.0,1129.2 763.5,1129.6 764.0,1129.5 764.4,1128.9 764.9,1129.5 765.4,1129.7 765.9,1129.5 766.4,1129.6 766.9,1129.8 767.4,1130.5 767.9,1129.5 768.4,1130.9 768.9,1130.5 769.4,1129.8 769.9,1131.2 770.4,1130.0 770.9,1129.9 771.4,1131.4 771.9,1130.7 772.4,1130.6 772.8,1130.4 773.3,1131.2 773.8,1130.7 774.3,1130.8 774.8,1131.3 775.3,1130.4 775.8,1131.4 776.3,1131.0 776.8,1130.9 777.3,1130.7 777.8,1130.6 778.3,1130.5 778.8,1130.8 779.3,1130.6 779.8,1131.2 780.3,1131.0 780.8,1130.6 781.2,1130.6 781.7,1131.3 782.2,1131.3 782.7,1132.2 783.2,1130.9 783.7,1131.4 784.2,1132.4 784.7,1130.9 785.2,1131.5 785.7,1132.3 786.2,1132.2 786.7,1131.0 787.2,1131.8 787.7,1130.8 788.2,1132.3 788.7,1131.7 789.2,1132.2 789.6,1131.5 790.1,1131.1 790.6,1131.5 791.1,1132.2 791.6,1132.0 792.1,1132.2 792.6,1131.3 793.1,1131.0 793.6,1132.4 794.1,1131.5 794.6,1131.7 795.1,1132.1 795.6,1131.1 796.1,1132.1 796.6,1130.9 797.1,1131.3 797.6,1131.4 798.0,1130.5 798.5,1131.8 799.0,1130.3 799.5,1131.3 800.0,1130.3 800.5,1131.0 801.0,1130.8 801.5,1130.5 802.0,1130.6 802.5,1131.4 803.0,1131.6 803.5,1131.7 804.0,1131.8 804.5,1130.7 805.0,1131.5 805.5,1131.9 806.0,1132.1 806.5,1131.3 806.9,1132.3 807.4,1131.0 807.9,1131.4 808.4,1131.2 808.9,1132.4 809.4,1131.3 809.9,1131.9 810.4,1130.9 810.9,1131.9 811.4,1132.1 811.9,1131.1 812.4,1131.1 812.9,1130.7 813.4,1131.1 813.9,1130.8 814.4,1132.1 814.9,1131.5 815.3,1130.8 815.8,1131.5 816.3,1131.7 816.8,1131.0 817.3,1131.3 817.8,1131.9 818.3,1131.3 818.8,1132.1 819.3,1132.0 819.8,1131.7 820.3,1132.9 820.8,1132.0 821.3,1131.7 821.8,1132.7 822.3,1132.7 822.8,1132.7 823.3,1133.3 823.7,1131.9 824.2,1133.2 824.7,1132.9 825.2,1132.3 825.7,1132.1 826.2,1131.5 826.7,1131.6 827.2,1132.3 827.7,1131.6 828.2,1131.7 828.7,1131.1 829.2,1132.1 829.7,1131.3 830.2,1132.2 830.7,1132.1 831.2,1130.5 831.7,1130.7 832.1,1131.6 832.6,1130.6 833.1,1131.6 833.6,1131.0 834.1,1131.4 834.6,1131.7 835.1,1131.6 835.6,1131.5 836.1,1130.8 836.6,1130.6 837.1,1131.6 837.6,1131.5 838.1,1132.2 838.6,1131.4 839.1,1132.0 839.6,1131.6 840.1,1132.1 840.5,1131.5 841.0,1131.5 841.5,1132.4 842.0,1132.0 842.5,1131.6 843.0,1131.8 843.5,1132.3 844.0,1131.9 844.5,1132.0 845.0,1131.5 845.5,1131.9 846.0,1132.6 846.5,1132.6 847.0,1131.9 847.5,1131.3 848.0,1132.4 848.5,1131.6 848.9,1132.3 849.4,1132.3 849.9,1131.3 850.4,1131.9 850.9,1132.5 851.4,1132.4 851.9,1131.4 852.4,1131.3 852.9,1131.9 853.4,1131.3 853.9,1132.6 854.4,1131.7 854.9,1131.7 855.4,1131.8 855.9,1132.3 856.4,1132.1 856.9,1132.4 857.3,1131.9 857.8,1131.2 858.3,1131.7 858.8,1131.2 859.3,1132.2 859.8,1132.0 860.3,1131.5 860.8,1131.8 861.3,1131.9 861.8,1132.0 862.3,1132.8 862.8,1131.7 863.3,1131.7 863.8,1132.8 864.3,1132.7 864.8,1132.8 865.3,1132.6 865.7,1132.7 866.2,1132.2 866.7,1132.3 867.2,1132.3 867.7,1131.6 868.2,1132.8 868.7,1132.5 869.2,1132.4 869.7,1131.7 870.2,1132.1 870.7,1131.6 871.2,1132.3 871.7,1131.0 872.2,1132.1 872.7,1131.3 873.2,1132.4 873.7,1132.4 874.1,1131.8 874.6,1130.9 875.1,1131.9 875.6,1131.6 876.1,1132.5 876.6,1132.3 877.1,1132.1 877.6,1132.5 878.1,1132.2 878.6,1131.9 879.1,1132.3 879.6,1132.1 880.1,1131.8 880.6,1132.0 881.1,1133.5 881.6,1132.4 882.1,1132.9 882.5,1132.8 883.0,1132.5 883.5,1132.4 884.0,1133.6 884.5,1132.2 885.0,1132.8 885.5,1133.0 886.0,1133.2 886.5,1132.0 887.0,1132.9 887.5,1132.4 888.0,1131.8 888.5,1132.6 889.0,1131.5 889.5,1131.9 890.0,1132.2 890.5,1131.8 890.9,1132.1 891.4,1131.4 891.9,1131.6 892.4,1131.7 892.9,1132.1 893.4,1132.8 893.9,1132.6 894.4,1133.1 894.9,1132.0 895.4,1131.9 895.9,1133.0 896.4,1131.9 896.9,1131.7 897.4,1132.6 897.9,1132.9 898.4,1132.7 898.9,1132.7 899.3,1133.0 899.8,1132.4 900.3,1133.0 900.8,1132.0 901.3,1132.1 901.8,1131.7 902.3,1132.2 902.8,1132.6 903.3,1132.7 903.8,1132.8 904.3,1132.2 904.8,1132.2 905.3,1132.7 905.8,1131.8 906.3,1133.0 906.8,1132.1 907.3,1132.0 907.7,1132.5 908.2,1133.1 908.7,1133.0 909.2,1132.2 909.7,1132.3 910.2,1133.1 910.7,1132.6 911.2,1133.0 911.7,1133.4 912.2,1132.9 912.7,1132.9 913.2,1132.7 913.7,1133.1 914.2,1132.7 914.7,1132.9 915.2,1133.7 915.7,1133.6 916.1,1132.5 916.6,1133.0 917.1,1133.5 917.6,1133.4 918.1,1133.1 918.6,1133.0 919.1,1132.6 919.6,1133.0 920.1,1133.0 920.6,1133.4 921.1,1133.4 921.6,1133.6 922.1,1132.5 922.6,1133.9 923.1,1133.5 923.6,1133.7 924.1,1133.0 924.6,1133.9 925.0,1133.5 925.5,1132.7 926.0,1132.1 926.5,1132.5 927.0,1132.8 927.5,1132.9 928.0,1132.2 928.5,1131.4 929.0,1131.9 929.5,1131.7 930.0,1132.2 930.5,1131.1 931.0,1131.2 931.5,1131.8 932.0,1131.8 932.5,1130.9 933.0,1131.2 933.4,1132.0 933.9,1131.3 934.4,1131.4 934.9,1132.4 935.4,1131.4 935.9,1131.6 936.4,1132.4 936.9,1132.0 937.4,1132.7 937.9,1131.7 938.4,1132.4 938.9,1132.3 939.4,1132.9 939.9,1132.8 940.4,1133.1 940.9,1132.0 941.4,1133.3 941.8,1132.1 942.3,1132.3 942.8,1132.2 943.3,1133.0 943.8,1132.0 944.3,1132.0 944.8,1132.7 945.3,1131.5 945.8,1131.8 946.3,1131.7 946.8,1132.7 947.3,1132.7 947.8,1132.1 948.3,1132.6 948.8,1132.4 949.3,1132.7 949.8,1131.6 950.2,1132.1 950.7,1132.5 951.2,1131.9 951.7,1131.8 952.2,1132.7 952.7,1133.3 953.2,1132.5 953.7,1132.3 954.2,1132.6 954.7,1132.5 955.2,1132.6 955.7,1133.2 956.2,1132.8 956.7,1133.2 957.2,1132.4 957.7,1133.4 958.2,1132.3 958.6,1132.5 959.1,1132.8 959.6,1133.0 960.1,1132.8 960.6,1132.5 961.1,1132.7 961.6,1131.9 962.1,1131.8 962.6,1132.0 963.1,1131.5 963.6,1132.5 964.1,1132.4 964.6,1132.4 965.1,1131.4 965.6,1132.4 966.1,1131.1 966.6,1131.7 967.0,1131.3 967.5,1132.3 968.0,1131.3 968.5,1131.7 969.0,1132.3 969.5,1132.3 970.0,1131.7 970.5,1132.5 971.0,1132.4 971.5,1132.1 972.0,1132.6 972.5,1132.7 973.0,1132.9 973.5,1132.3 974.0,1132.0 974.5,1132.2 975.0,1132.5 975.4,1131.7 975.9,1131.8 976.4,1132.2 976.9,1132.4 977.4,1132.8 977.9,1131.6 978.4,1132.4 978.9,1132.4 979.4,1131.7 979.9,1132.4 980.4,1131.2 980.9,1132.3 981.4,1131.5 981.9,1132.1 982.4,1131.3 982.9,1132.4 983.4,1131.3 983.8,1131.9 984.3,1131.6 984.8,1131.8 985.3,1131.9 985.8,1132.2 986.3,1132.2 986.8,1131.4 987.3,1132.5 987.8,1132.2 988.3,1132.9 988.8,1131.7 989.3,1132.9 989.8,1132.3 990.3,1132.6 990.8,1132.2 991.3,1132.0 991.8,1132.0 992.2,1132.5 992.7,1133.3 993.2,1132.8 993.7,1133.2 994.2,1132.1 994.7,1132.0 995.2,1132.4 995.7,1132.8 996.2,1131.8 996.7,1132.1 997.2,1131.9 997.7,1131.8 998.2,1132.5 998.7,1132.3 999.2,1132.3 999.7,1132.1 1000.2,1132.6 1000.6,1132.8 1001.1,1131.7 1001.6,1132.6 1002.1,1133.1 1002.6,1132.9 1003.1,1131.9 1003.6,1133.2 1004.1,1132.7 1004.6,1133.2 1005.1,1132.1 1005.6,1132.2 1006.1,1132.4 1006.6,1132.9 1007.1,1133.1 1007.6,1132.6 1008.1,1133.5 1008.6,1133.5 1009.0,1133.4 1009.5,1132.4 1010.0,1133.0 1010.5,1133.5 1011.0,1133.6 1011.5,1133.6 1012.0,1132.8 1012.5,1132.1 1013.0,1132.3 1013.5,1132.5 1014.0,1132.9 1014.5,1132.3 1015.0,1132.9 1015.5,1132.1 1016.0,1132.5 1016.5,1131.9 1017.0,1132.2 1017.4,1132.7 1017.9,1132.4 1018.4,1132.7 1018.9,1132.2 1019.4,1132.3 1019.9,1131.6 1020.4,1132.0 1020.9,1132.7 1021.4,1132.0 1021.9,1132.4 1022.4,1131.8 1022.9,1132.3 1023.4,1131.4 1023.9,1131.3 1024.4,1131.3 1024.9,1131.8 1025.4,1132.3 1025.8,1131.2 1026.3,1132.7 1026.8,1131.5 1027.3,1132.5 1027.8,1131.5 1028.3,1132.5 1028.8,1132.3 1029.3,1131.4 1029.8,1131.7 1030.3,1131.5 1030.8,1132.2 1031.3,1131.1 1031.8,1130.7 1032.3,1130.5 1032.8,1130.5 1033.3,1130.3 1033.8,1129.8 1034.2,1129.7 1034.7,1128.7 1035.2,1128.4 1035.7,1127.2 1036.2,1125.9 1036.7,1125.2 1037.2,1124.5 1037.7,1123.3 1038.2,1121.2 1038.7,1119.7 1039.2,1118.9 1039.7,1117.8 1040.2,1115.8 1040.7,1113.6 1041.2,1112.2 1041.7,1109.8 1042.2,1108.9 1042.7,1107.8 1043.1,1107.2 1043.6,1106.7 1044.1,1106.7 1044.6,1106.5 1045.1,1107.6 1045.6,1108.9 1046.1,1109.9 1046.6,1110.9 1047.1,1112.5 1047.6,1114.4 1048.1,1116.4 1048.6,1117.3 1049.1,1119.2 1049.6,1119.3 1050.1,1120.3 1050.6,1121.0 1051.1,1122.5 1051.5,1122.9 1052.0,1122.4 1052.5,1122.4 1053.0,1122.5 1053.5,1120.8 1054.0,1120.0 1054.5,1119.5 1055.0,1118.8 1055.5,1117.5 1056.0,1116.0 1056.5,1114.6 1057.0,1112.6 1057.5,1111.2 1058.0,1109.2 1058.5,1108.8 1059.0,1107.3 1059.5,1106.2 1059.9,1106.7 1060.4,1105.8 1060.9,1106.9 1061.4,1107.6 1061.9,1109.5 1062.4,1110.0 1062.9,1112.7 1063.4,1114.2 1063.9,1115.2 1064.4,1117.8 1064.9,1118.6 1065.4,1120.1 1065.9,1122.5 1066.4,1123.6 1066.9,1124.9 1067.4,1125.5 1067.9,1127.5 1068.3,1128.3 1068.8,1129.4 1069.3,1128.8 1069.8,1129.9 1070.3,1130.4 1070.8,1130.9 1071.3,1131.2 1071.8,1131.0 1072.3,1130.9 1072.8,1131.6 1073.3,1132.2 1073.8,1131.5 1074.3,1132.1 1074.8,1132.6 1075.3,1132.1 1075.8,1131.8 1076.3,1132.5 1076.7,1131.7 1077.2,1133.0 1077.7,1132.7 1078.2,1132.1 1078.7,1132.7 1079.2,1132.0 1079.7,1132.2 1080.2,1132.8 1080.7,1132.9 1081.2,1133.4 1081.7,1132.8 1082.2,1133.4 1082.7,1133.9 1083.2,1132.8 1083.7,1133.3 1084.2,1133.5 1084.7,1133.9 1085.1,1133.0 1085.6,1134.1 1086.1,1133.4 1086.6,1132.8 1087.1,1133.0 1087.6,1133.9 1088.1,1133.0 1088.6,1133.2 1089.1,1132.9 1089.6,1133.7 1090.1,1133.5 1090.6,1134.0 1091.1,1132.8 1091.6,1133.7 1092.1,1133.1 1092.6,1133.8 1093.1,1134.0 1093.5,1133.7 1094.0,1134.1 1094.5,1133.0 1095.0,1134.3 1095.5,1133.1 1096.0,1133.7 1096.5,1133.9 1097.0,1133.2 1097.5,1134.5 1098.0,1133.9 1098.5,1134.5 1099.0,1134.4 1099.5,1133.6 1100.0,1134.1 1100.5,1133.5 1101.0,1134.3 1101.5,1133.8 1101.9,1134.1 1102.4,1134.0 1102.9,1134.1 1103.4,1134.4 1103.9,1133.8 1104.4,1133.8 1104.9,1133.3 1105.4,1134.2 1105.9,1133.4 1106.4,1134.0 1106.9,1133.0 1107.4,1133.6 1107.9,1134.0 1108.4,1134.0 1108.9,1133.5 1109.4,1133.0 1109.9,1133.6 1110.3,1133.9 1110.8,1132.8 1111.3,1133.0 1111.8,1133.2 1112.3,1133.8 1112.8,1133.4 1113.3,1133.3 1113.8,1133.8 1114.3,1133.5 1114.8,1134.3 1115.3,1133.9 1115.8,1134.0 1116.3,1134.4 1116.8,1134.0 1117.3,1134.1 1117.8,1134.6 1118.3,1134.6 1118.7,1134.5 1119.2,1133.9 1119.7,1134.5 1120.2,1135.0 1120.7,1133.9 1121.2,1134.9 1121.7,1134.5 1122.2,1134.0 1122.7,1134.5 1123.2,1133.8 1123.7,1134.1 1124.2,1133.9 1124.7,1133.9 1125.2,1134.5 1125.7,1134.2 1126.2,1133.8 1126.7,1133.7 1127.1,1134.1 1127.6,1134.7 1128.1,1134.5 1128.6,1134.5 1129.1,1134.8 1129.6,1134.4 1130.1,1134.0 1130.6,1134.3 1131.1,1133.6 1131.6,1134.4 1132.1,1133.1 1132.6,1134.1 1133.1,1132.8 1133.6,1133.1 1134.1,1133.4 1134.6,1133.2 1135.1,1133.2 1135.5,1133.4 1136.0,1133.1 1136.5,1133.3 1137.0,1133.1 1137.5,1132.7 1138.0,1133.5 1138.5,1133.1 1139.0,1133.7 1139.5,1133.8 1140.0,1133.2 1140.5,1133.4 1141.0,1134.1 1141.5,1133.2 1142.0,1134.2 1142.5,1133.3 1143.0,1133.2 1143.5,1133.8 1143.9,1133.7 1144.4,1133.1 1144.9,1134.1 1145.4,1133.3 1145.9,1132.9 1146.4,1133.8 1146.9,1133.2 1147.4,1134.2 1147.9,1133.5 1148.4,1133.9 1148.9,1133.2 1149.4,1132.8 1149.9,1134.0 1150.4,1132.9 1150.9,1134.0 1151.4,1133.0 1151.9,1134.1 1152.4,1133.9 1152.8,1133.6 1153.3,1132.8 1153.8,1133.0 1154.3,1133.6 1154.8,1133.7 1155.3,1132.4 1155.8,1133.5 1156.3,1133.0 1156.8,1132.8 1157.3,1132.2 1157.8,1132.0 1158.3,1131.6 1158.8,1132.0 1159.3,1131.8 1159.8,1131.4 1160.3,1131.2 1160.8,1130.6 1161.2,1130.3 1161.7,1129.2 1162.2,1129.0 1162.7,1129.6 1163.2,1128.2 1163.7,1128.9 1164.2,1127.7 1164.7,1128.0 1165.2,1127.6 1165.7,1128.5 1166.2,1128.5 1166.7,1129.0 1167.2,1129.4 1167.7,1129.1 1168.2,1130.2 1168.7,1130.3 1169.2,1130.7 1169.6,1130.0 1170.1,1131.5 1170.6,1131.5 1171.1,1131.3 1171.6,1132.1 1172.1,1132.5 1172.6,1132.8 1173.1,1132.9 1173.6,1132.9 1174.1,1133.3 1174.6,1132.9 1175.1,1133.1 1175.6,1132.7 1176.1,1132.9 1176.6,1134.0 1177.1,1133.8 1177.6,1133.8 1178.0,1133.9 1178.5,1134.1 1179.0,1134.1 1179.5,1132.9 1180.0,1133.3 1180.5,1133.9 1181.0,1134.3 1181.5,1133.2 1182.0,1133.6 1182.5,1134.3 1183.0,1134.4 1183.5,1133.4 1184.0,1134.0 1184.5,1133.5 1185.0,1133.2 1185.5,1133.6 1186.0,1133.2 1186.4,1133.3 1186.9,1133.5 1187.4,1132.8 1187.9,1132.7 1188.4,1132.3 1188.9,1133.2 1189.4,1132.9 1189.9,1133.2 1190.4,1132.8 1190.9,1132.3 1191.4,1132.2 1191.9,1131.9 1192.4,1131.6 1192.9,1132.1 1193.4,1131.6 1193.9,1131.3 1194.4,1131.5 1194.8,1131.1 1195.3,1131.0 1195.8,1130.5 1196.3,1130.7 1196.8,1130.4 1197.3,1129.9 1197.8,1130.5 1198.3,1130.7 1198.8,1130.1 1199.3,1131.2 1199.8,1130.6 1200.3,1131.2 1200.8,1132.1 1201.3,1131.5 1201.8,1132.1 1202.3,1131.8 1202.8,1132.2 1203.2,1132.7 1203.7,1132.3 1204.2,1133.2 1204.7,1133.3 1205.2,1132.8 1205.7,1133.0 1206.2,1133.8 1206.7,1134.1 1207.2,1134.1 1207.7,1133.7 1208.2,1134.1 1208.7,1134.8 1209.2,1134.6 1209.7,1135.2 1210.2,1134.6 1210.7,1135.0 1211.2,1134.2 1211.6,1135.2 1212.1,1134.3 1212.6,1134.8 1213.1,1135.4 1213.6,1134.4 1214.1,1134.7 1214.6,1134.6 1215.1,1134.4 1215.6,1135.1 1216.1,1134.9 1216.6,1133.7 1217.1,1134.3 1217.6,1134.9 1218.1,1133.8 1218.6,1133.5 1219.1,1134.1 1219.6,1133.6 1220.0,1133.7 1220.5,1134.7 1221.0,1134.5 1221.5,1134.7 1222.0,1134.0 1222.5,1133.8 1223.0,1134.1 1223.5,1133.9 1224.0,1133.9 1224.5,1134.8 1225.0,1134.3 1225.5,1134.2 1226.0,1134.2 1226.5,1134.4 1227.0,1134.2 1227.5,1134.5 1228.0,1133.7 1228.4,1134.0 1228.9,1134.4 1229.4,1133.8 1229.9,1133.3 1230.4,1134.6 1230.9,1134.2 1231.4,1134.2 1231.9,1133.2 1232.4,1133.3 1232.9,1134.0 1233.4,1133.2 1233.9,1134.0 1234.4,1134.2 1234.9,1133.8 1235.4,1134.1 1235.9,1133.7 1236.4,1133.7 1236.8,1133.3 1237.3,1134.0 1237.8,1133.2 1238.3,1134.3 1238.8,1133.2 1239.3,1133.1 1239.8,1133.7 1240.3,1133.1 1240.8,1133.3 1241.3,1132.7 1241.8,1133.7 1242.3,1132.4 1242.8,1132.4 1243.3,1133.4 1243.8,1133.6 1244.3,1132.7 1244.8,1132.8 1245.2,1133.6 1245.7,1132.8 1246.2,1133.3 1246.7,1132.6 1247.2,1133.6 1247.7,1133.0 1248.2,1133.0 1248.7,1133.0 1249.2,1132.8 1249.7,1133.0 1250.2,1133.5 1250.7,1133.2 1251.2,1132.5 1251.7,1132.3 1252.2,1133.1 1252.7,1132.6 1253.2,1132.8 1253.6,1132.2 1254.1,1132.2 1254.6,1131.1 1255.1,1131.2 1255.6,1130.2 1256.1,1130.6 1256.6,1130.3 1257.1,1129.2 1257.6,1128.7 1258.1,1127.9 1258.6,1127.9 1259.1,1127.7 1259.6,1126.6 1260.1,1127.4 1260.6,1126.6 1261.1,1125.5 1261.6,1125.7 1262.0,1125.4 1262.5,1124.6 1263.0,1125.0 1263.5,1124.7 1264.0,1124.3 1264.5,1124.8 1265.0,1125.0 1265.5,1125.8 1266.0,1126.0 1266.5,1126.4 1267.0,1126.3 1267.5,1126.4 1268.0,1126.9 1268.5,1126.5 1269.0,1127.2 1269.5,1128.4 1270.0,1127.6 1270.5,1127.8 1270.9,1128.3 1271.4,1129.4 1271.9,1129.2 1272.4,1129.8 1272.9,1129.8 1273.4,1129.3 1273.9,1129.1 1274.4,1128.5 1274.9,1129.1 1275.4,1128.5 1275.9,1127.1 1276.4,1127.4 1276.9,1125.8 1277.4,1125.2 1277.9,1124.2 1278.4,1123.3 1278.9,1121.3 1279.3,1119.9 1279.8,1118.5 1280.3,1117.1 1280.8,1115.5 1281.3,1113.1 1281.8,1111.0 1282.3,1110.0 1282.8,1107.9 1283.3,1107.2 1283.8,1106.5 1284.3,1106.4 1284.8,1106.4 1285.3,1106.1 1285.8,1107.1 1286.3,1109.3 1286.8,1110.7 1287.3,1112.7 1287.7,1114.2 1288.2,1115.6 1288.7,1117.7 1289.2,1120.5 1289.7,1122.2 1290.2,1123.6 1290.7,1125.1 1291.2,1125.9 1291.7,1127.4 1292.2,1128.3 1292.7,1129.7 1293.2,1129.8 1293.7,1131.6 1294.2,1131.3 1294.7,1132.6 1295.2,1132.9 1295.7,1133.7 1296.1,1133.1 1296.6,1133.5 1297.1,1133.1 1297.6,1133.6 1298.1,1133.5 1298.6,1134.0 1299.1,1134.5 1299.6,1133.6 1300.1,1134.1 1300.6,1133.5 1301.1,1133.5 1301.6,1134.4 1302.1,1134.4 1302.6,1134.5 1303.1,1134.2 1303.6,1133.4 1304.1,1134.1 1304.5,1134.5 1305.0,1134.6 1305.5,1134.1 1306.0,1134.5 1306.5,1134.7 1307.0,1134.3 1307.5,1134.5 1308.0,1134.4 1308.5,1134.4 1309.0,1134.7 1309.5,1134.9 1310.0,1134.9 1310.5,1134.2 1311.0,1134.4 1311.5,1134.9 1312.0,1135.0 1312.5,1135.1 1312.9,1135.2 1313.4,1134.0 1313.9,1134.2 1314.4,1134.1 1314.9,1134.1 1315.4,1134.4 1315.9,1134.5 1316.4,1133.5 1316.9,1133.8 1317.4,1133.9 1317.9,1133.2 1318.4,1133.8 1318.9,1133.3 1319.4,1133.2 1319.9,1133.3 1320.4,1133.8 1320.9,1134.0 1321.3,1133.6 1321.8,1134.5 1322.3,1134.2 1322.8,1134.1 1323.3,1134.6 1323.8,1134.2 1324.3,1134.3 1324.8,1133.9 1325.3,1134.3 1325.8,1134.6 1326.3,1135.0 1326.8,1134.4 1327.3,1133.8 1327.8,1134.3 1328.3,1134.3 1328.8,1133.9 1329.3,1134.0 1329.7,1132.9 1330.2,1133.9 1330.7,1133.6 1331.2,1132.6 1331.7,1132.2 1332.2,1132.4 1332.7,1132.9 1333.2,1131.7 1333.7,1132.4 1334.2,1131.9 1334.7,1131.3 1335.2,1130.5 1335.7,1131.5 1336.2,1131.0 1336.7,1130.1 1337.2,1130.1 1337.7,1129.9 1338.1,1130.3 1338.6,1129.4 1339.1,1129.6 1339.6,1129.1 1340.1,1129.6 1340.6,1128.9 1341.1,1128.3 1341.6,1128.9 1342.1,1129.3 1342.6,1129.3 1343.1,1128.9 1343.6,1128.9 1344.1,1129.0 1344.6,1129.1 1345.1,1129.2 1345.6,1129.4 1346.1,1129.3 1346.5,1129.8 1347.0,1129.8 1347.5,1129.2 1348.0,1129.5 1348.5,1130.4 1349.0,1130.7 1349.5,1130.3 1350.0,1130.7 1350.5,1130.7 1351.0,1131.3 1351.5,1131.3 1352.0,1131.7 1352.5,1131.9 1353.0,1132.4 1353.5,1132.5 1354.0,1131.7 1354.5,1132.7 1354.9,1133.4 1355.4,1133.4 1355.9,1132.9 1356.4,1133.1 1356.9,1133.9 1357.4,1134.0 1357.9,1133.4 1358.4,1133.6 1358.9,1133.3 1359.4,1133.7 1359.9,1133.5 1360.4,1133.6 1360.9,1133.6 1361.4,1134.4 1361.9,1134.3 1362.4,1133.9 1362.9,1134.4 1363.3,1134.0 1363.8,1133.8 1364.3,1133.5 1364.8,1133.7 1365.3,1134.2 1365.8,1134.3 1366.3,1134.3 1366.8,1134.6 1367.3,1134.0 1367.8,1133.7 1368.3,1134.5 1368.8,1134.0 1369.3,1134.4 1369.8,1134.7 1370.3,1134.1 1370.8,1133.5 1371.3,1134.4 1371.7,1134.6 1372.2,1133.7 1372.7,1133.8 1373.2,1133.4 1373.7,1133.2 1374.2,1133.1 1374.7,1133.1 1375.2,1133.5 1375.7,1133.1 1376.2,1132.8 1376.7,1133.5 1377.2,1132.3 1377.7,1132.3 1378.2,1132.2 1378.7,1132.4 1379.2,1131.6 1379.7,1130.4 1380.1,1130.6 1380.6,1130.5 1381.1,1129.2 1381.6,1128.0 1382.1,1128.1 1382.6,1125.8 1383.1,1124.6 1383.6,1124.1 1384.1,1122.4 1384.6,1121.3 1385.1,1119.3 1385.6,1117.3 1386.1,1116.5 1386.6,1113.6 1387.1,1111.9 1387.6,1109.8 1388.1,1108.2 1388.6,1107.7 1389.0,1106.1 1389.5,1105.3 1390.0,1105.1 1390.5,1104.8 1391.0,1105.2 1391.5,1105.3 1392.0,1106.9 1392.5,1107.4 1393.0,1109.8 1393.5,1110.5 1394.0,1112.9 1394.5,1114.3 1395.0,1116.5 1395.5,1118.8 1396.0,1120.1 1396.5,1121.6 1397.0,1122.9 1397.4,1125.5 1397.9,1126.6 1398.4,1126.8 1398.9,1128.0 1399.4,1129.4 1399.9,1130.3 1400.4,1131.2 1400.9,1132.1 1401.4,1132.2 1401.9,1131.8 1402.4,1132.6 1402.9,1133.4 1403.4,1132.8 1403.9,1133.2 1404.4,1133.7 1404.9,1133.7 1405.4,1133.8 1405.8,1133.1 1406.3,1133.2 1406.8,1134.0 1407.3,1133.9 1407.8,1133.7 1408.3,1134.0 1408.8,1133.7 1409.3,1133.5 1409.8,1133.4 1410.3,1134.2 1410.8,1133.8 1411.3,1134.0 1411.8,1134.6 1412.3,1134.2 1412.8,1133.9 1413.3,1134.0 1413.8,1134.6 1414.2,1135.2 1414.7,1134.7 1415.2,1135.4 1415.7,1135.3 1416.2,1135.1 1416.7,1135.1 1417.2,1135.0 1417.7,1135.2 1418.2,1134.9 1418.7,1135.8 1419.2,1135.3 1419.7,1135.8 1420.2,1135.7 1420.7,1135.7 1421.2,1135.2 1421.7,1135.9 1422.2,1135.2 1422.6,1135.1 1423.1,1135.1 1423.6,1135.7 1424.1,1135.2 1424.6,1135.4 1425.1,1135.3 1425.6,1134.9 1426.1,1135.3 1426.6,1134.4 1427.1,1134.7 1427.6,1135.2 1428.1,1135.3 1428.6,1134.9 1429.1,1134.9 1429.6,1134.9 1430.1,1134.6 1430.6,1134.7 1431.0,1135.0 1431.5,1135.0 1432.0,1135.8 1432.5,1135.8 1433.0,1134.8 1433.5,1134.9 1434.0,1135.0 1434.5,1134.9 1435.0,1135.1 1435.5,1135.3 1436.0,1135.0 1436.5,1134.7 1437.0,1135.4 1437.5,1135.1 1438.0,1134.7 1438.5,1135.5 1439.0,1135.6 1439.4,1134.6 1439.9,1135.4 1440.4,1135.6 1440.9,1134.5 1441.4,1134.5 1441.9,1134.9 1442.4,1134.3 1442.9,1134.1 1443.4,1134.6 1443.9,1134.7 1444.4,1134.4 1444.9,1134.2 1445.4,1133.8 1445.9,1134.3 1446.4,1133.3 1446.9,1132.7 1447.4,1132.4 1447.8,1132.9 1448.3,1132.6 1448.8,1131.5 1449.3,1131.3 1449.8,1131.1 1450.3,1130.5 1450.8,1131.2 1451.3,1130.6 1451.8,1131.0 1452.3,1130.1 1452.8,1130.0 1453.3,1130.2 1453.8,1130.7 1454.3,1130.6 1454.8,1130.6 1455.3,1130.4 1455.8,1130.6 1456.2,1130.9 1456.7,1131.9 1457.2,1131.4 1457.7,1132.0 1458.2,1132.4 1458.7,1132.8 1459.2,1132.5 1459.7,1132.8 1460.2,1132.3 1460.7,1133.3 1461.2,1132.7 1461.7,1133.8 1462.2,1134.3 1462.7,1133.9 1463.2,1133.7 1463.7,1134.5 1464.2,1133.8 1464.6,1134.9 1465.1,1134.7 1465.6,1134.5 1466.1,1134.9 1466.6,1135.3 1467.1,1135.4 1467.6,1135.6 1468.1,1135.0 1468.6,1134.9 1469.1,1135.4 1469.6,1134.9 1470.1,1135.0 1470.6,1135.1 1471.1,1135.3 1471.6,1135.7 1472.1,1134.7 1472.6,1135.4 1473.0,1134.7 1473.5,1135.5 1474.0,1135.5 1474.5,1135.8 1475.0,1135.6 1475.5,1135.6 1476.0,1135.9 1476.5,1136.0 1477.0,1135.1 1477.5,1136.0 1478.0,1136.0 1478.5,1135.1 1479.0,1135.8 1479.5,1136.3 1480.0,1135.9 1480.5,1135.6 1481.0,1135.6 1481.4,1136.7 1481.9,1136.3 1482.4,1136.7 1482.9,1136.6 1483.4,1135.9 1483.9,1136.0 1484.4,1135.9 1484.9,1136.7 1485.4,1136.4 1485.9,1136.6 1486.4,1137.0 1486.9,1136.6 1487.4,1136.2 1487.9,1136.1 1488.4,1136.9 1488.9,1136.7 1489.4,1136.1 1489.8,1136.9 1490.3,1136.3 1490.8,1136.5 1491.3,1136.8 1491.8,1135.7 1492.3,1135.9 1492.8,1136.5 1493.3,1136.6 1493.8,1136.9 1494.3,1136.0 1494.8,1135.9 1495.3,1136.8 1495.8,1136.1 1496.3,1135.6 1496.8,1136.3 1497.3,1135.6 1497.8,1136.0 1498.3,1135.6 1498.7,1135.8 1499.2,1136.4 1499.7,1135.5 1500.2,1135.8 1500.7,1136.0 1501.2,1136.1 1501.7,1136.3 1502.2,1135.2 1502.7,1135.5 1503.2,1135.7 1503.7,1135.1 1504.2,1135.5 1504.7,1135.0 1505.2,1135.3 1505.7,1135.7 1506.2,1135.3 1506.7,1135.8 1507.1,1135.8 1507.6,1136.1 1508.1,1136.2 1508.6,1135.4 1509.1,1136.0 1509.6,1135.1 1510.1,1135.7 1510.6,1136.2 1511.1,1135.9 1511.6,1135.9 1512.1,1135.2 1512.6,1135.9 1513.1,1136.2 1513.6,1135.4 1514.1,1135.7 1514.6,1136.0 1515.1,1135.4 1515.5,1135.8 1516.0,1135.9 1516.5,1136.4 1517.0,1136.3 1517.5,1136.9 1518.0,1136.6 1518.5,1136.6 1519.0,1136.1 1519.5,1136.5 1520.0,1136.5 1520.5,1137.0 1521.0,1137.3 1521.5,1136.8 1522.0,1136.6 1522.5,1136.4 1523.0,1137.3 1523.5,1136.3 1523.9,1137.3 1524.4,1136.2 1524.9,1136.0 1525.4,1136.7 1525.9,1136.3 1526.4,1136.6 1526.9,1136.1 1527.4,1136.8 1527.9,1135.8 1528.4,1136.4 1528.9,1136.8 1529.4,1136.5 1529.9,1136.2 1530.4,1136.9 1530.9,1136.2 1531.4,1136.0 1531.9,1136.2 1532.3,1135.9 1532.8,1135.9 1533.3,1135.9 1533.8,1135.4 1534.3,1136.6 1534.8,1136.0 1535.3,1135.7 1535.8,1136.1 1536.3,1135.5 1536.8,1136.3 1537.3,1135.9 1537.8,1136.3 1538.3,1136.7 1538.8,1136.1 1539.3,1136.2 1539.8,1136.7 1540.3,1136.1 1540.7,1136.7 1541.2,1135.7 1541.7,1136.0 1542.2,1136.1 1542.7,1136.2 1543.2,1136.1 1543.7,1135.9 1544.2,1136.3 1544.7,1135.6 1545.2,1136.2 1545.7,1136.3 1546.2,1136.4 1546.7,1136.3 1547.2,1135.3 1547.7,1136.4 1548.2,1135.6 1548.7,1136.0 1549.1,1135.7 1549.6,1136.4 1550.1,1136.1 1550.6,1136.6 1551.1,1135.9 1551.6,1136.0 1552.1,1137.1 1552.6,1136.3 1553.1,1136.2 1553.6,1136.2 1554.1,1136.7 1554.6,1136.1 1555.1,1136.1 1555.6,1136.3 1556.1,1136.0 1556.6,1136.3 1557.1,1136.1 1557.5,1136.3 1558.0,1135.5 1558.5,1135.3 1559.0,1134.9 1559.5,1135.2 1560.0,1135.0 1560.5,1134.8 1561.0,1135.1 1561.5,1135.2 1562.0,1134.1 1562.5,1134.7 1563.0,1134.4 1563.5,1134.4 1564.0,1133.4 1564.5,1133.8 1565.0,1134.1 1565.5,1133.5 1565.9,1133.3 1566.4,1132.8 1566.9,1132.4 1567.4,1132.4 1567.9,1132.1 1568.4,1130.9 1568.9,1130.8 1569.4,1130.7 1569.9,1131.0 1570.4,1131.0 1570.9,1130.1 1571.4,1130.0 1571.9,1129.0 1572.4,1129.0 1572.9,1128.8 1573.4,1129.6 1573.9,1129.4 1574.3,1128.1 1574.8,1128.2 1575.3,1129.1 1575.8,1129.3 1576.3,1128.7 1576.8,1129.3 1577.3,1129.3 1577.8,1129.7 1578.3,1129.4 1578.8,1129.6 1579.3,1130.5 1579.8,1130.3 1580.3,1131.3 1580.8,1130.9 1581.3,1131.5 1581.8,1132.1 1582.3,1132.1 1582.7,1131.7 1583.2,1131.9 1583.7,1132.7 1584.2,1133.0 1584.7,1133.9 1585.2,1133.2 1585.7,1134.1 1586.2,1133.8 1586.7,1133.7 1587.2,1133.8 1587.7,1134.4 1588.2,1133.9 1588.7,1134.7 1589.2,1134.6 1589.7,1134.2 1590.2,1134.3 1590.7,1134.6 1591.1,1134.4 1591.6,1134.4 1592.1,1133.5 1592.6,1134.3 1593.1,1133.4 1593.6,1134.2 1594.1,1133.5 1594.6,1132.6 1595.1,1133.0 1595.6,1132.5 1596.1,1132.5 1596.6,1132.5 1597.1,1132.4 1597.6,1132.3 1598.1,1132.7 1598.6,1132.0 1599.1,1132.2 1599.5,1132.6 1600.0,1133.4 1600.5,1133.7 1601.0,1132.9 1601.5,1133.6 1602.0,1133.9 1602.5,1133.9 1603.0,1134.7 1603.5,1135.2 1604.0,1134.8 1604.5,1135.4 1605.0,1135.1 1605.5,1135.7 1606.0,1136.1 1606.5,1136.5 1607.0,1136.5 1607.5,1136.2 1607.9,1136.6 1608.4,1136.1 1608.9,1135.8 1609.4,1136.4 1609.9,1136.9 1610.4,1136.2 1610.9,1136.9 1611.4,1136.1 1611.9,1136.2 1612.4,1136.0 1612.9,1136.0 1613.4,1136.7 1613.9,1136.6 1614.4,1136.5 1614.9,1136.3 1615.4,1137.0 1615.9,1136.2 1616.4,1136.8 1616.8,1136.0 1617.3,1136.1 1617.8,1136.7 1618.3,1136.7 1618.8,1136.0 1619.3,1136.0 1619.8,1137.0 1620.3,1136.7 1620.8,1136.6 1621.3,1136.2 1621.8,1136.7 1622.3,1135.9 1622.8,1136.4 1623.3,1136.5 1623.8,1136.8 1624.3,1136.5 1624.8,1135.8 1625.2,1135.8 1625.7,1136.0 1626.2,1136.5 1626.7,1135.8 1627.2,1136.2 1627.7,1135.9 1628.2,1135.8 1628.7,1136.0 1629.2,1136.6 1629.7,1136.0 1630.2,1136.2 1630.7,1136.1 1631.2,1136.6 1631.7,1137.1 1632.2,1136.6 1632.7,1137.2 1633.2,1137.1 1633.6,1136.9 1634.1,1137.0 1634.6,1136.3 1635.1,1136.7 1635.6,1137.1 1636.1,1136.2 1636.6,1137.2 1637.1,1136.9 1637.6,1137.2 1638.1,1136.1 1638.6,1137.4 1639.1,1136.3 1639.6,1136.3 1640.1,1137.2 1640.6,1136.9 1641.1,1136.4 1641.6,1137.0 1642.0,1136.2 1642.5,1136.8 1643.0,1137.0 1643.5,1136.1 1644.0,1136.6 1644.5,1136.4 1645.0,1136.7 1645.5,1137.1 1646.0,1135.9 1646.5,1136.4 1647.0,1136.5 1647.5,1135.9 1648.0,1136.5 1648.5,1136.1 1649.0,1136.5 1649.5,1136.3 1650.0,1136.5 1650.4,1137.4 1650.9,1136.5 1651.4,1137.0 1651.9,1137.1 1652.4,1136.6 1652.9,1137.3 1653.4,1136.9 1653.9,1137.5 1654.4,1136.7 1654.9,1136.9 1655.4,1136.4 1655.9,1137.2 1656.4,1136.9 1656.9,1137.1 1657.4,1136.6 1657.9,1137.6 1658.4,1136.9 1658.8,1136.9 1659.3,1136.6 1659.8,1136.2 1660.3,1137.3 1660.8,1137.1 1661.3,1136.4 1661.8,1136.8 1662.3,1136.8 1662.8,1136.6 1663.3,1136.1 1663.8,1136.2 1664.3,1136.0 1664.8,1135.9 1665.3,1135.9 1665.8,1136.6 1666.3,1136.0 1666.8,1136.7 1667.2,1136.1 1667.7,1135.6 1668.2,1136.8 1668.7,1136.0 1669.2,1135.7 1669.7,1136.7 1670.2,1136.1 1670.7,1136.5 1671.2,1136.8 1671.7,1136.3 1672.2,1135.9 1672.7,1136.8 1673.2,1136.0 1673.7,1135.9 1674.2,1135.9 1674.7,1136.0 1675.2,1135.6 1675.6,1135.3 1676.1,1135.7 1676.6,1135.5 1677.1,1134.9 1677.6,1135.1 1678.1,1135.4 1678.6,1135.3 1679.1,1135.2 1679.6,1135.1 1680.1,1135.3 1680.6,1135.6 1681.1,1135.8 1681.6,1134.7 1682.1,1135.5 1682.6,1135.6 1683.1,1136.0 1683.6,1135.2 1684.0,1135.9 1684.5,1135.4 1685.0,1135.0 1685.5,1135.4 1686.0,1135.8 1686.5,1135.3 1687.0,1134.9 1687.5,1135.5 1688.0,1135.1 1688.5,1135.0 1689.0,1134.5 1689.5,1134.5 1690.0,1133.9 1690.5,1133.6 1691.0,1133.6 1691.5,1133.5 1692.0,1133.7 1692.4,1132.8 1692.9,1132.4 1693.4,1131.9 1693.9,1132.4 1694.4,1131.9 1694.9,1131.2 1695.4,1131.9 1695.9,1130.9 1696.4,1131.4 1696.9,1130.6 1697.4,1129.7 1697.9,1129.5 1698.4,1129.5 1698.9,1129.7 1699.4,1129.7 1699.9,1129.3 1700.4,1128.5 1700.8,1128.1 1701.3,1128.2 1701.8,1127.6 1702.3,1127.9 1702.8,1127.4 1703.3,1126.9 1703.8,1126.6 1704.3,1127.0 1704.8,1126.0 1705.3,1126.4 1705.8,1125.9 1706.3,1126.7 1706.8,1125.8 1707.3,1126.3 1707.8,1126.3 1708.3,1127.0 1708.8,1126.6 1709.2,1126.8 1709.7,1127.6 1710.2,1126.9 1710.7,1127.0 1711.2,1127.4 1711.7,1127.5 1712.2,1128.4 1712.7,1128.7 1713.2,1128.8 1713.7,1129.5 1714.2,1129.7 1714.7,1129.8 1715.2,1129.0 1715.7,1130.1 1716.2,1130.5 1716.7,1130.6 1717.2,1131.5 1717.6,1130.9 1718.1,1131.3 1718.6,1132.7 1719.1,1132.1 1719.6,1132.3 1720.1,1132.4 1720.6,1133.2 1721.1,1133.9 1721.6,1133.4 1722.1,1134.5 1722.6,1134.5 1723.1,1134.9 1723.6,1134.9 1724.1,1134.5 1724.6,1134.4 1725.1,1134.2 1725.6,1135.1 1726.0,1134.2 1726.5,1134.2 1727.0,1134.8 1727.5,1135.2 1728.0,1134.4 1728.5,1135.2 1729.0,1134.6 1729.5,1134.7 1730.0,1135.0 1730.5,1135.1 1731.0,1135.2 1731.5,1135.0 1732.0,1135.9 1732.5,1135.3 1733.0,1134.9 1733.5,1135.1 1734.0,1136.1 1734.5,1136.0 1734.9,1135.6 1735.4,1136.4 1735.9,1135.7 1736.4,1136.0 1736.9,1135.5 1737.4,1135.8 1737.9,1136.4 1738.4,1136.8 1738.9,1136.6 1739.4,1135.8 1739.9,1136.0 1740.4,1135.9 1740.9,1137.1 1741.4,1136.6 1741.9,1136.3 1742.4,1136.6 1742.9,1136.0 1743.3,1136.1 1743.8,1135.7 1744.3,1135.7 1744.8,1135.7 1745.3,1135.8 1745.8,1135.8 1746.3,1135.8 1746.8,1135.2 1747.3,1135.6 1747.8,1135.9 1748.3,1135.8 1748.8,1135.1 1749.3,1135.9 1749.8,1135.9 1750.3,1134.8 1750.8,1135.2 1751.3,1134.7 1751.7,1134.6 1752.2,1134.4 1752.7,1134.6 1753.2,1134.2 1753.7,1133.6 1754.2,1133.5 1754.7,1133.9 1755.2,1133.1 1755.7,1133.3 1756.2,1133.5 1756.7,1132.4 1757.2,1132.4 1757.7,1133.4 1758.2,1132.5 1758.7,1133.5 1759.2,1133.0 1759.7,1133.7 1760.1,1133.1 1760.6,1133.5 1761.1,1133.6 1761.6,1134.5 1762.1,1133.7 1762.6,1134.4 1763.1,1135.2 1763.6,1135.3 1764.1,1134.8 1764.6,1135.6 1765.1,1134.9 1765.6,1135.9 1766.1,1136.1 1766.6,1135.3 1767.1,1136.2 1767.6,1136.0 1768.1,1136.3 1768.5,1136.5 1769.0,1135.4 1769.5,1135.3 1770.0,1136.5 1770.5,1135.2 1771.0,1136.2 1771.5,1135.4 1772.0,1136.1 1772.5,1135.1 1773.0,1135.7 1773.5,1134.9 1774.0,1134.9 1774.5,1134.8 1775.0,1135.3 1775.5,1134.7 1776.0,1135.0 1776.5,1134.6 1776.9,1134.2 1777.4,1134.4 1777.9,1134.3 1778.4,1133.8 1778.9,1134.1 1779.4,1134.6 1779.9,1134.6 1780.4,1134.5 1780.9,1134.5 1781.4,1133.7 1781.9,1134.1 1782.4,1134.2 1782.9,1133.7 1783.4,1134.2 1783.9,1133.8 1784.4,1134.7 1784.9,1134.1 1785.3,1134.9 1785.8,1134.5 1786.3,1135.5 1786.8,1135.4 1787.3,1134.8 1787.8,1135.1 1788.3,1136.2 1788.8,1136.1 1789.3,1136.4 1789.8,1136.2 1790.3,1135.9 1790.8,1135.6 1791.3,1136.0 1791.8,1136.6 1792.3,1136.0 1792.8,1136.7 1793.3,1136.3 1793.7,1136.6 1794.2,1136.2 1794.7,1136.8 1795.2,1136.3 1795.7,1137.4 1796.2,1137.6 1796.7,1137.6 1797.2,1136.6 1797.7,1136.9 1798.2,1137.7 1798.7,1137.3 1799.2,1137.1 1799.7,1137.0 1800.2,1138.0 1800.7,1137.7 1801.2,1137.2 1801.7,1137.6 1802.1,1137.5 1802.6,1137.9 1803.1,1138.5 1803.6,1137.9 1804.1,1137.6 1804.6,1137.7 1805.1,1138.8 1805.6,1138.8 1806.1,1138.4 1806.6,1138.3 1807.1,1137.8 1807.6,1138.1 1808.1,1138.1 1808.6,1138.4 1809.1,1138.5 1809.6,1138.4 1810.1,1138.2 1810.5,1138.3 1811.0,1137.6 1811.5,1137.3 1812.0,1137.8 1812.5,1138.0 1813.0,1137.7 1813.5,1136.9 1814.0,1137.1 1814.5,1137.1 1815.0,1136.8 1815.5,1136.5 1816.0,1137.2 1816.5,1137.0 1817.0,1136.2 1817.5,1136.6 1818.0,1136.2 1818.5,1136.4 1818.9,1137.5 1819.4,1136.8 1819.9,1137.6 1820.4,1136.6 1820.9,1136.5 1821.4,1137.3 1821.9,1136.9 1822.4,1137.7 1822.9,1137.8 1823.4,1137.1 1823.9,1136.9 1824.4,1137.2 1824.9,1137.4 1825.4,1138.0 1825.9,1137.7 1826.4,1138.1 1826.9,1138.1 1827.3,1136.9 1827.8,1136.9 1828.3,1137.3 1828.8,1137.3 1829.3,1137.7 1829.8,1136.9 1830.3,1137.5 1830.8,1136.4 1831.3,1137.6 1831.8,1137.6 1832.3,1137.4 1832.8,1137.2 1833.3,1136.6 1833.8,1137.6 1834.3,1136.8 1834.8,1136.9 1835.3,1136.9 1835.7,1137.2 1836.2,1137.0 1836.7,1137.2 1837.2,1137.7 1837.7,1138.0 1838.2,1136.8 1838.7,1137.6 1839.2,1138.0 1839.7,1138.0 1840.2,1137.3 1840.7,1137.7 1841.2,1137.3 1841.7,1137.6 1842.2,1136.9 1842.7,1136.4 1843.2,1136.4 1843.7,1137.4 1844.2,1136.6 1844.6,1136.8 1845.1,1136.4 1845.6,1137.2 1846.1,1136.8 1846.6,1137.1 1847.1,1137.3 1847.6,1137.2 1848.1,1136.9 1848.6,1136.8 1849.1,1137.6 1849.6,1137.2 1850.1,1137.5 1850.6,1136.5 1851.1,1137.5 1851.6,1137.1 1852.1,1137.5 1852.6,1137.5 1853.0,1137.0 1853.5,1137.4 1854.0,1137.2 1854.5,1137.8 1855.0,1137.5 1855.5,1137.1 1856.0,1137.9 1856.5,1136.8 1857.0,1137.6 1857.5,1137.7 1858.0,1137.1 1858.5,1137.9 1859.0,1137.5 1859.5,1137.7 1860.0,1137.0 1860.5,1137.4 1861.0,1137.2 1861.4,1137.5 1861.9,1137.9 1862.4,1137.9 1862.9,1137.1 1863.4,1138.2 1863.9,1137.2 1864.4,1137.5 1864.9,1137.7 1865.4,1137.3 1865.9,1137.5 1866.4,1137.6 1866.9,1137.4 1867.4,1137.4 1867.9,1136.7 1868.4,1136.8 1868.9,1137.5 1869.4,1136.6 1869.8,1137.5 1870.3,1137.4 1870.8,1137.2 1871.3,1137.0 1871.8,1137.1 1872.3,1137.2 1872.8,1136.7 1873.3,1137.8 1873.8,1136.9 1874.3,1136.7 1874.8,1137.3 1875.3,1136.7 1875.8,1137.6 1876.3,1137.8 1876.8,1136.6 1877.3,1137.5 1877.8,1137.8 1878.2,1136.8 1878.7,1136.7 1879.2,1136.9 1879.7,1137.1 1880.2,1137.9 1880.7,1137.6 1881.2,1137.4 1881.7,1137.4 1882.2,1137.6 1882.7,1137.1 1883.2,1137.2 1883.7,1137.3 1884.2,1138.0 1884.7,1137.4 1885.2,1136.7 1885.7,1137.8 1886.2,1137.5 1886.6,1136.7 1887.1,1137.2 1887.6,1137.9 1888.1,1137.9 1888.6,1137.1 1889.1,1137.4 1889.6,1136.8 1890.1,1137.6 1890.6,1137.1 1891.1,1137.4 1891.6,1137.5 1892.1,1138.0 1892.6,1137.8 1893.1,1137.5 1893.6,1136.6 1894.1,1137.1 1894.6,1136.8 1895.0,1137.7 1895.5,1137.8 1896.0,1136.7 1896.5,1137.5 1897.0,1137.6 1897.5,1137.6 1898.0,1138.1 1898.5,1137.6 1899.0,1138.3 1903.0,1138.3"/>
<polyline stroke="#000" points="166.5,1373.0 169.5,1373.0 170.0,1374.1 170.5,1371.1 171.0,1371.8 171.5,1371.8 172.0,1374.0 172.5,1373.5 173.0,1375.5 173.5,1373.2 173.9,1373.1 174.4,1374.7 174.9,1375.1 175.4,1375.9 175.9,1375.3 176.4,1378.1 176.9,1377.4 177.4,1377.2 177.9,1378.9 178.4,1378.4 178.9,1378.6 179.4,1376.4 179.9,1379.1 180.4,1378.9 180.9,1380.1 181.4,1378.2 181.9,1378.1 182.3,1380.3 182.8,1378.4 183.3,1378.2 183.8,1380.1 184.3,1379.6 184.8,1380.3 185.3,1380.5 185.8,1380.9 186.3,1379.8 186.8,1381.3 187.3,1379.1 187.8,1380.0 188.3,1378.3 188.8,1379.0 189.3,1379.0 189.8,1378.8 190.3,1380.6 190.7,1380.5 191.2,1379.5 191.7,1379.3 192.2,1379.2 192.7,1378.9 193.2,1380.5 193.7,1377.9 194.2,1379.2 194.7,1379.6 195.2,1380.5 195.7,1377.9 196.2,1379.5 196.7,1378.7 197.2,1380.3 197.7,1379.7 198.2,1378.1 198.7,1380.5 199.1,1379.6 199.6,1380.7 200.1,1379.0 200.6,1378.7 201.1,1378.9 201.6,1379.9 202.1,1379.0 202.6,1381.3 203.1,1381.9 203.6,1379.4 204.1,1380.4 204.6,1382.7 205.1,1381.2 205.6,1381.5 206.1,1380.7 206.6,1382.5 207.1,1383.0 207.5,1381.7 208.0,1383.3 208.5,1382.1 209.0,1382.3 209.5,1383.0 210.0,1381.8 210.5,1384.2 211.0,1382.2 211.5,1383.1 212.0,1382.3 212.5,1384.3 213.0,1385.1 213.5,1384.5 214.0,1385.1 214.5,1384.1 215.0,1385.4 215.5,1382.6 215.9,1384.0 216.4,1382.9 216.9,1385.1 217.4,1385.1 217.9,1383.9 218.4,1384.8 218.9,1383.8 219.4,1385.4 219.9,1383.1 220.4,1384.2 220.9,1382.9 221.4,1384.5 221.9,1384.5 222.4,1385.2 222.9,1385.7 223.4,1385.5 223.9,1384.7 224.3,1386.4 224.8,1386.6 225.3,1385.7 225.8,1386.2 226.3,1385.3 226.8,1385.0 227.3,1388.0 227.8,1386.3 228.3,1387.1 228.8,1387.9 229.3,1388.4 229.8,1386.2 230.3,1386.4 230.8,1388.0 231.3,1386.3 231.8,1388.1 232.3,1385.9 232.8,1386.9 233.2,1386.7 233.7,1388.3 234.2,1388.4 234.7,1386.8 235.2,1387.5 235.7,1389.4 236.2,1386.7 236.7,1388.1 237.2,1386.9 237.7,1389.1 238.2,1387.7 238.7,1388.4 239.2,1389.0 239.7,1388.7 240.2,1388.3 240.7,1387.7 241.2,1386.8 241.6,1387.7 242.1,1387.2 242.6,1387.3 243.1,1386.8 243.6,1387.2 244.1,1389.3 244.6,1388.5 245.1,1387.6 245.6,1389.5 246.1,1388.1 246.6,1388.8 247.1,1387.1 247.6,1387.7 248.1,1389.2 248.6,1388.0 249.1,1388.3 249.6,1389.5 250.0,1388.0 250.5,1390.0 251.0,1389.7 251.5,1390.3 252.0,1390.2 252.5,1388.5 253.0,1388.6 253.5,1389.6 254.0,1390.4 254.5,1388.4 255.0,1390.5 255.5,1390.5 256.0,1390.0 256.5,1388.8 257.0,1391.0 257.5,1388.6 258.0,1389.0 258.4,1389.5 258.9,1388.8 259.4,1389.1 259.9,1389.2 260.4,1390.1 260.9,1390.9 261.4,1390.5 261.9,1390.4 262.4,1388.8 262.9,1389.6 263.4,1389.2 263.9,1389.0 264.4,1390.2 264.9,1390.8 265.4,1390.5 265.9,1392.0 266.4,1391.4 266.8,1391.1 267.3,1392.6 267.8,1392.7 268.3,1391.7 268.8,1393.2 269.3,1391.4 269.8,1392.5 270.3,1392.2 270.8,1393.9 271.3,1391.7 271.8,1392.8 272.3,1392.9 272.8,1392.1 273.3,1392.4 273.8,1392.0 274.3,1394.0 274.8,1391.7 275.2,1391.7 275.7,1392.3 276.2,1392.9 276.7,1393.9 277.2,1394.0 277.7,1393.7 278.2,1392.8 278.7,1392.9 279.2,1392.1 279.7,1393.8 280.2,1393.8 280.7,1392.6 281.2,1392.4 281.7,1394.2 282.2,1392.3 282.7,1393.0 283.2,1393.4 283.6,1393.7 284.1,1394.8 284.6,1393.6 285.1,1393.7 285.6,1395.1 286.1,1394.3 286.6,1394.8 287.1,1394.5 287.6,1392.9 288.1,1393.0 288.6,1395.1 289.1,1395.0 289.6,1395.4 290.1,1394.3 290.6,1394.4 291.1,1394.3 291.6,1394.8 292.0,1394.1 292.5,1393.8 293.0,1393.4 293.5,1393.8 294.0,1393.0 294.5,1394.6 295.0,1392.9 295.5,1393.8 296.0,1393.9 296.5,1392.9 297.0,1392.1 297.5,1393.5 298.0,1392.9 298.5,1391.0 299.0,1392.2 299.5,1391.3 300.0,1390.6 300.4,1391.9 300.9,1391.3 301.4,1389.8 301.9,1390.3 302.4,1391.4 302.9,1389.6 303.4,1389.9 303.9,1391.8 304.4,1390.5 304.9,1390.7 305.4,1391.0 305.9,1392.3 306.4,1390.6 306.9,1392.9 307.4,1392.3 307.9,1393.4 308.4,1392.3 308.8,1392.4 309.3,1393.7 309.8,1392.8 310.3,1394.4 310.8,1393.5 311.3,1393.4 311.8,1394.3 312.3,1393.7 312.8,1393.4 313.3,1394.1 313.8,1395.0 314.3,1395.7 314.8,1394.1 315.3,1394.0 315.8,1394.2 316.3,1396.6 316.8,1395.1 317.2,1396.1 317.7,1395.7 318.2,1396.0 318.7,1394.6 319.2,1396.5 319.7,1395.0 320.2,1396.6 320.7,1396.2 321.2,1395.3 321.7,1396.5 322.2,1397.1 322.7,1396.3 323.2,1396.7 323.7,1395.4 324.2,1397.4 324.7,1395.8 325.2,1395.1 325.6,1396.2 326.1,1395.8 326.6,1396.8 327.1,1396.8 327.6,1395.8 328.1,1395.6 328.6,1395.8 329.1,1396.2 329.6,1395.1 330.1,1396.3 330.6,1394.8 331.1,1395.0 331.6,1394.9 332.1,1396.8 332.6,1396.8 333.1,1396.7 333.6,1396.7 334.0,1396.3 334.5,1396.2 335.0,1396.0 335.5,1396.4 336.0,1395.3 336.5,1396.9 337.0,1395.3 337.5,1395.0 338.0,1396.3 338.5,1396.2 339.0,1395.0 339.5,1395.1 340.0,1395.3 340.5,1396.6 341.0,1397.3 341.5,1395.3 342.0,1397.7 342.4,1397.2 342.9,1396.6 343.4,1398.0 343.9,1398.7 344.4,1397.5 344.9,1398.9 345.4,1398.0 345.9,1399.6 346.4,1400.6 346.9,1400.4 347.4,1401.7 347.9,1401.2 348.4,1401.5 348.9,1401.0 349.4,1403.0 349.9,1403.6 350.4,1403.7 350.9,1401.9 351.3,1403.2 351.8,1402.4 352.3,1402.6 352.8,1402.0 353.3,1401.8 353.8,1403.2 354.3,1402.6 354.8,1402.0 355.3,1401.3 355.8,1402.0 356.3,1402.2 356.8,1401.4 357.3,1401.1 357.8,1402.3 358.3,1402.2 358.8,1403.4 359.3,1401.8 359.7,1402.6 360.2,1403.0 360.7,1402.7 361.2,1403.0 361.7,1402.5 362.2,1402.1 362.7,1403.8 363.2,1403.4 363.7,1401.8 364.2,1403.3 364.7,1402.7 365.2,1403.8 365.7,1403.2 366.2,1403.9 366.7,1403.6 367.2,1403.3 367.7,1404.0 368.1,1401.8 368.6,1402.2 369.1,1402.0 369.6,1402.2 370.1,1403.2 370.6,1403.8 371.1,1402.4 371.6,1404.4 372.1,1404.6 372.6,1402.6 373.1,1402.9 373.6,1404.4 374.1,1405.0 374.6,1404.2 375.1,1405.2 375.6,1404.0 376.1,1403.8 376.5,1404.5 377.0,1404.5 377.5,1405.4 378.0,1403.2 378.5,1405.0 379.0,1404.8 379.5,1403.6 380.0,1402.5 380.5,1403.3 381.0,1403.4 381.5,1401.3 382.0,1402.8 382.5,1400.4 383.0,1400.1 383.5,1401.1 384.0,1400.8 384.5,1399.7 384.9,1399.7 385.4,1399.3 385.9,1400.3 386.4,1399.0 386.9,1399.3 387.4,1400.6 387.9,1400.4 388.4,1400.6 388.9,1400.8 389.4,1400.7 389.9,1401.2 390.4,1401.7 390.9,1401.9 391.4,1403.3 391.9,1404.2 392.4,1404.2 392.9,1403.2 393.3,1403.4 393.8,1404.4 394.3,1404.3 394.8,1404.8 395.3,1404.5 395.8,1404.0 396.3,1403.5 396.8,1403.4 397.3,1404.8 397.8,1404.7 398.3,1402.8 398.8,1404.1 399.3,1404.0 399.8,1402.3 400.3,1403.4 400.8,1403.1 401.3,1403.8 401.7,1403.9 402.2,1402.6 402.7,1403.6 403.2,1403.0 403.7,1403.9 404.2,1404.2 404.7,1403.5 405.2,1403.8 405.7,1404.1 406.2,1404.6 406.7,1404.2 407.2,1404.0 407.7,1405.1 408.2,1405.0 408.7,1404.8 409.2,1405.9 409.7,1405.3 410.1,1404.6 410.6,1404.8 411.1,1406.7 411.6,1405.4 412.1,1406.5 412.6,1405.4 413.1,1407.2 413.6,1406.4 414.1,1406.2 414.6,1407.8 415.1,1406.6 415.6,1407.4 416.1,1406.2 416.6,1408.1 417.1,1406.4 417.6,1407.0 418.1,1407.3 418.5,1407.6 419.0,1408.6 419.5,1407.1 420.0,1407.5 420.5,1407.5 421.0,1408.6 421.5,1409.2 422.0,1408.6 422.5,1409.4 423.0,1408.1 423.5,1408.8 424.0,1408.7 424.5,1408.2 425.0,1409.1 425.5,1409.5 426.0,1409.5 426.5,1408.4 426.9,1407.8 427.4,1408.5 427.9,1409.0 428.4,1409.0 428.9,1409.3 429.4,1407.9 429.9,1407.8 430.4,1408.8 430.9,1409.2 431.4,1407.9 431.9,1408.7 432.4,1410.0 432.9,1409.4 433.4,1408.0 433.9,1409.9 434.4,1410.0 434.9,1408.2 435.3,1409.9 435.8,1409.8 436.3,1410.2 436.8,1409.6 437.3,1410.5 437.8,1410.2 438.3,1408.8 438.8,1410.3 439.3,1408.5 439.8,1409.7 440.3,1410.0 440.8,1410.6 441.3,1409.7 441.8,1410.0 442.3,1409.4 442.8,1408.7 443.3,1410.7 443.7,1410.1 444.2,1409.6 444.7,1409.2 445.2,1409.1 445.7,1410.7 446.2,1410.1 446.7,1410.8 447.2,1410.9 447.7,1409.9 448.2,1410.4 448.7,1411.5 449.2,1409.8 449.7,1411.7 450.2,1410.0 450.7,1411.2 451.2,1410.4 451.7,1411.0 452.1,1409.9 452.6,1410.5 453.1,1410.1 453.6,1410.6 454.1,1410.7 454.6,1411.7 455.1,1409.6 455.6,1410.3 456.1,1410.9 456.6,1410.1 457.1,1410.7 457.6,1410.4 458.1,1410.0 458.6,1411.2 459.1,1410.6 459.6,1411.5 460.1,1411.5 460.6,1411.0 461.0,1410.3 461.5,1412.1 462.0,1411.8 462.5,1412.3 463.0,1411.4 463.5,1410.9 464.0,1411.7 464.5,1411.4 465.0,1410.0 465.5,1410.7 466.0,1411.5 466.5,1409.9 467.0,1410.1 467.5,1410.4 468.0,1411.2 468.5,1409.7 469.0,1410.1 469.4,1411.4 469.9,1411.3 470.4,1411.8 470.9,1412.1 471.4,1410.1 471.9,1412.3 472.4,1411.9 472.9,1411.6 473.4,1411.8 473.9,1412.4 474.4,1410.4 474.9,1411.4 475.4,1411.0 475.9,1411.6 476.4,1411.3 476.9,1410.5 477.4,1410.8 477.8,1411.1 478.3,1410.7 478.8,1412.2 479.3,1411.8 479.8,1412.9 480.3,1412.8 480.8,1411.5 481.3,1413.3 481.8,1411.8 482.3,1413.5 482.8,1412.5 483.3,1413.1 483.8,1412.7 484.3,1413.3 484.8,1413.6 485.3,1413.3 485.8,1411.8 486.2,1413.6 486.7,1411.9 487.2,1413.2 487.7,1412.1 488.2,1411.9 488.7,1413.4 489.2,1413.4 489.7,1413.5 490.2,1412.9 490.7,1412.1 491.2,1412.6 491.7,1413.8 492.2,1412.2 492.7,1412.4 493.2,1411.9 493.7,1413.7 494.2,1412.6 494.6,1412.9 495.1,1413.0 495.6,1412.8 496.1,1413.0 496.6,1411.8 497.1,1411.6 497.6,1412.3 498.1,1411.9 498.6,1411.5 499.1,1411.5 499.6,1411.4 500.1,1411.6 500.6,1413.3 501.1,1413.1 501.6,1411.5 502.1,1411.8 502.6,1412.8 503.0,1411.7 503.5,1411.8 504.0,1413.1 504.5,1412.8 505.0,1413.3 505.5,1413.5 506.0,1412.8 506.5,1413.7 507.0,1413.2 507.5,1412.5 508.0,1413.1 508.5,1413.2 509.0,1414.1 509.5,1414.6 510.0,1413.8 510.5,1414.7 511.0,1414.5 511.4,1414.7 511.9,1414.9 512.4,1413.7 512.9,1413.6 513.4,1415.2 513.9,1414.9 514.4,1414.0 514.9,1415.2 515.4,1415.1 515.9,1413.7 516.4,1414.9 516.9,1414.6 517.4,1414.3 517.9,1415.4 518.4,1415.4 518.9,1413.9 519.4,1415.1 519.8,1413.3 520.3,1415.0 520.8,1414.9 521.3,1413.9 521.8,1413.0 522.3,1413.1 522.8,1414.3 523.3,1413.8 523.8,1413.2 524.3,1414.2 524.8,1412.9 525.3,1413.0 525.8,1412.4 526.3,1414.3 526.8,1412.5 527.3,1412.9 527.8,1414.2 528.2,1413.2 528.7,1414.3 529.2,1414.1 529.7,1413.6 530.2,1414.6 530.7,1414.0 531.2,1414.3 531.7,1412.8 532.2,1413.9 532.7,1412.8 533.2,1413.4 533.7,1414.0 534.2,1412.0 534.7,1411.9 535.2,1413.3 535.7,1413.5 536.2,1413.2 536.6,1413.7 537.1,1412.7 537.6,1412.0 538.1,1412.2 538.6,1412.4 539.1,1411.9 539.6,1413.4 540.1,1412.5 540.6,1412.7 541.1,1412.0 541.6,1413.2 542.1,1412.4 542.6,1412.3 543.1,1411.9 543.6,1411.7 544.1,1410.4 544.6,1409.5 545.0,1408.5 545.5,1407.5 546.0,1407.9 546.5,1407.3 547.0,1404.2 547.5,1402.8 548.0,1402.4 548.5,1399.9 549.0,1398.2 549.5,1397.6 550.0,1395.2 550.5,1392.2 551.0,1390.3 551.5,1389.7 552.0,1386.1 552.5,1384.3 553.0,1382.2 553.4,1382.1 553.9,1380.1 554.4,1379.4 554.9,1378.6 555.4,1377.6 555.9,1377.9 556.4,1379.0 556.9,1381.3 557.4,1382.9 557.9,1384.6 558.4,1385.7 558.9,1387.5 559.4,1389.9 559.9,1391.8 560.4,1394.1 560.9,1395.0 561.4,1397.1 561.8,1399.0 562.3,1401.2 562.8,1403.0 563.3,1403.6 563.8,1405.1 564.3,1406.1 564.8,1407.5 565.3,1409.0 565.8,1409.8 566.3,1409.4 566.8,1410.2 567.3,1410.5 567.8,1410.5 568.3,1410.4 568.8,1410.9 569.3,1412.2 569.8,1411.8 570.2,1411.7 570.7,1412.7 571.2,1411.7 571.7,1411.9 572.2,1412.8 572.7,1411.2 573.2,1410.9 573.7,1410.9 574.2,1412.5 574.7,1411.5 575.2,1410.6 575.7,1411.2 576.2,1410.8 576.7,1410.7 577.2,1411.3 577.7,1410.5 578.2,1409.1 578.7,1410.4 579.1,1409.8 579.6,1408.3 580.1,1408.7 580.6,1408.4 581.1,1407.9 581.6,1408.5 582.1,1407.9 582.6,1409.1 583.1,1408.1 583.6,1408.1 584.1,1408.9 584.6,1410.0 585.1,1409.3 585.6,1410.3 586.1,1409.9 586.6,1411.3 587.1,1411.7 587.5,1412.4 588.0,1412.7 588.5,1413.1 589.0,1412.7 589.5,1413.2 590.0,1413.3 590.5,1412.1 591.0,1412.6 591.5,1413.3 592.0,1412.8 592.5,1413.5 593.0,1413.4 593.5,1414.0 594.0,1413.2 594.5,1413.7 595.0,1413.9 595.5,1413.5 595.9,1414.0 596.4,1413.8 596.9,1413.4 597.4,1414.4 597.9,1414.0 598.4,1412.5 598.9,1414.1 599.4,1413.5 599.9,1412.5 600.4,1412.0 600.9,1411.8 601.4,1413.3 601.9,1413.1 602.4,1412.8 602.9,1410.9 603.4,1412.3 603.9,1411.2 604.3,1411.1 604.8,1410.2 605.3,1411.2 605.8,1410.0 606.3,1409.5 606.8,1409.4 607.3,1409.2 607.8,1408.2 608.3,1407.8 608.8,1407.9 609.3,1408.4 609.8,1406.0 610.3,1406.0 610.8,1405.6 611.3,1404.3 611.8,1404.7 612.3,1402.1 612.7,1401.4 613.2,1400.1 613.7,1398.2 614.2,1397.2 614.7,1395.4 615.2,1393.3 615.7,1390.0 616.2,1384.2 616.7,1379.2 617.2,1372.7 617.7,1366.5 618.2,1358.3 618.7,1351.2 619.2,1344.9 619.7,1338.9 620.2,1308.8 620.7,1260.7 621.1,1180.4 621.6,1156.3 622.1,1141.8 622.6,1126.6 623.1,1118.1 623.6,1114.1 624.1,1110.2 624.6,1107.9 625.1,1109.0 625.6,1112.1 626.1,1115.7 626.6,1123.4 627.1,1141.9 627.6,1160.6 628.1,1191.8 628.6,1229.9 629.1,1262.5 629.5,1288.3 630.0,1313.8 630.5,1339.3 631.0,1346.4 631.5,1350.0 632.0,1353.4 632.5,1357.1 633.0,1359.2 633.5,1363.1 634.0,1368.7 634.5,1372.9 635.0,1374.8 635.5,1379.1 636.0,1381.8 636.5,1382.9 637.0,1384.6 637.5,1386.1 637.9,1388.0 638.4,1390.3 638.9,1392.4 639.4,1392.9 639.9,1393.8 640.4,1395.3 640.9,1394.1 641.4,1395.6 641.9,1393.8 642.4,1394.7 642.9,1393.0 643.4,1394.0 643.9,1392.9 644.4,1392.7 644.9,1392.6 645.4,1391.5 645.9,1390.9 646.3,1390.8 646.8,1391.2 647.3,1391.2 647.8,1391.2 648.3,1391.7 648.8,1392.6 649.3,1393.4 649.8,1394.8 650.3,1394.9 650.8,1396.9 651.3,1397.1 651.8,1397.5 652.3,1398.4 652.8,1398.2 653.3,1399.9 653.8,1398.9 654.3,1400.2 654.7,1399.2 655.2,1399.7 655.7,1397.6 656.2,1397.8 656.7,1397.0 657.2,1397.0 657.7,1396.0 658.2,1396.1 658.7,1395.1 659.2,1395.4 659.7,1394.5 660.2,1395.0 660.7,1394.6 661.2,1396.3 661.7,1395.7 662.2,1397.5 662.7,1398.0 663.1,1399.5 663.6,1401.4 664.1,1401.8 664.6,1404.3 665.1,1405.9 665.6,1405.8 666.1,1407.7 666.6,1408.3 667.1,1410.2 667.6,1411.3 668.1,1411.6 668.6,1413.4 669.1,1414.2 669.6,1413.9 670.1,1415.3 670.6,1414.9 671.1,1415.6 671.5,1415.3 672.0,1416.2 672.5,1415.7 673.0,1415.9 673.5,1416.8 674.0,1417.0 674.5,1416.0 675.0,1417.4 675.5,1416.2 676.0,1416.7 676.5,1415.9 677.0,1417.1 677.5,1416.9 678.0,1415.7 678.5,1415.7 679.0,1414.8 679.5,1414.7 679.9,1414.0 680.4,1413.6 680.9,1414.0 681.4,1413.8 681.9,1411.6 682.4,1412.0 682.9,1411.2 683.4,1410.0 683.9,1409.9 684.4,1410.0 684.9,1408.1 685.4,1407.9 685.9,1409.1 686.4,1409.3 686.9,1408.5 687.4,1409.0 687.9,1409.8 688.3,1409.7 688.8,1409.7 689.3,1410.0 689.8,1410.6 690.3,1411.6 690.8,1412.9 691.3,1412.6 691.8,1413.6 692.3,1413.0 692.8,1414.6 693.3,1415.2 693.8,1414.1 694.3,1414.9 694.8,1414.2 695.3,1414.7 695.8,1415.5 696.3,1413.9 696.8,1414.2 697.2,1414.9 697.7,1413.5 698.2,1414.1 698.7,1413.6 699.2,1412.1 699.7,1411.9 700.2,1412.0 700.7,1411.5 701.2,1410.4 701.7,1410.1 702.2,1409.0 702.7,1409.4 703.2,1408.2 703.7,1407.6 704.2,1408.1 704.7,1406.7 705.2,1406.5 705.6,1407.7 706.1,1408.1 706.6,1408.3 707.1,1408.0 707.6,1408.8 708.1,1409.3 708.6,1409.9 709.1,1411.8 709.6,1412.5 710.1,1412.7 710.6,1413.4 711.1,1414.8 711.6,1414.2 712.1,1415.9 712.6,1416.1 713.1,1416.3 713.6,1417.9 714.0,1418.5 714.5,1419.2 715.0,1418.4 715.5,1418.5 716.0,1419.7 716.5,1419.5 717.0,1420.2 717.5,1420.9 718.0,1419.5 718.5,1420.5 719.0,1420.9 719.5,1421.2 720.0,1420.0 720.5,1420.2 721.0,1419.8 721.5,1420.6 722.0,1419.4 722.4,1420.2 722.9,1420.8 723.4,1419.7 723.9,1419.7 724.4,1420.3 724.9,1421.0 725.4,1419.9 725.9,1421.4 726.4,1421.6 726.9,1421.5 727.4,1421.4 727.9,1422.0 728.4,1421.8 728.9,1422.1 729.4,1420.7 729.9,1421.9 730.4,1421.5 730.8,1420.9 731.3,1421.8 731.8,1421.7 732.3,1421.6 732.8,1420.9 733.3,1421.7 733.8,1421.3 734.3,1421.2 734.8,1421.8 735.3,1420.6 735.8,1421.3 736.3,1421.5 736.8,1421.2 737.3,1420.7 737.8,1421.0 738.3,1421.9 738.8,1421.5 739.2,1420.3 739.7,1421.6 740.2,1420.4 740.7,1421.2 741.2,1421.5 741.7,1420.5 742.2,1420.5 742.7,1420.5 743.2,1421.2 743.7,1421.7 744.2,1421.3 744.7,1420.6 745.2,1421.0 745.7,1420.9 746.2,1421.8 746.7,1421.9 747.2,1422.1 747.6,1422.4 748.1,1421.3 748.6,1422.3 749.1,1422.9 749.6,1421.6 750.1,1422.0 750.6,1423.3 751.1,1422.9 751.6,1422.4 752.1,1422.2 752.6,1422.0 753.1,1423.4 753.6,1423.3 754.1,1422.6 754.6,1422.7 755.1,1423.1 755.6,1423.3 756.0,1423.3 756.5,1422.2 757.0,1422.2 757.5,1423.2 758.0,1422.7 758.5,1422.8 759.0,1422.2 759.5,1421.9 760.0,1421.9 760.5,1421.8 761.0,1422.4 761.5,1423.0 762.0,1422.3 762.5,1422.2 763.0,1422.8 763.5,1422.9 764.0,1422.6 764.4,1422.8 764.9,1423.7 765.4,1422.6 765.9,1423.4 766.4,1423.1 766.9,1422.8 767.4,1423.4 767.9,1422.7 768.4,1423.4 768.9,1423.0 769.4,1422.6 769.9,1422.6 770.4,1422.6 770.9,1423.3 771.4,1422.3 771.9,1422.9 772.4,1422.0 772.8,1421.8 773.3,1422.0 773.8,1422.1 774.3,1422.2 774.8,1421.8 775.3,1422.1 775.8,1421.3 776.3,1421.9 776.8,1421.8 777.3,1422.0 777.8,1421.6 778.3,1420.1 778.8,1420.9 779.3,1420.6 779.8,1419.5 780.3,1419.7 780.8,1420.3 781.2,1419.7 781.7,1419.5 782.2,1418.2 782.7,1419.0 783.2,1418.4 783.7,1418.6 784.2,1418.5 784.7,1418.4 785.2,1417.5 785.7,1417.7 786.2,1416.9 786.7,1417.7 787.2,1418.0 787.7,1417.8 788.2,1418.6 788.7,1418.6 789.2,1419.2 789.6,1419.7 790.1,1418.6 790.6,1419.2 791.1,1420.3 791.6,1419.4 792.1,1419.9 792.6,1420.9 793.1,1421.3 793.6,1421.3 794.1,1420.8 794.6,1421.7 795.1,1422.2 795.6,1422.7 796.1,1421.8 796.6,1421.9 797.1,1422.8 797.6,1422.1 798.0,1422.3 798.5,1422.9 799.0,1423.6 799.5,1423.9 800.0,1422.8 800.5,1422.7 801.0,1423.6 801.5,1423.6 802.0,1423.3 802.5,1423.6 803.0,1423.2 803.5,1423.7 804.0,1424.0 804.5,1423.1 805.0,1423.6 805.5,1423.9 806.0,1424.0 806.5,1424.4 806.9,1424.0 807.4,1424.1 807.9,1424.1 808.4,1424.3 808.9,1423.7 809.4,1424.4 809.9,1424.4 810.4,1424.2 810.9,1424.1 811.4,1422.8 811.9,1423.9 812.4,1424.0 812.9,1422.4 813.4,1423.0 813.9,1422.9 814.4,1423.1 814.9,1422.9 815.3,1423.2 815.8,1422.9 816.3,1423.2 816.8,1423.7 817.3,1423.4 817.8,1424.0 818.3,1424.2 818.8,1423.2 819.3,1424.3 819.8,1424.1 820.3,1423.3 820.8,1423.2 821.3,1423.8 821.8,1423.8 822.3,1423.7 822.8,1424.1 823.3,1423.2 823.7,1424.0 824.2,1423.0 824.7,1422.7 825.2,1422.7 825.7,1423.3 826.2,1423.2 826.7,1423.5 827.2,1423.2 827.7,1423.2 828.2,1423.5 828.7,1423.0 829.2,1423.1 829.7,1422.7 830.2,1422.7 830.7,1424.2 831.2,1423.8 831.7,1423.9 832.1,1423.2 832.6,1423.7 833.1,1423.5 833.6,1424.4 834.1,1424.8 834.6,1425.0 835.1,1424.4 835.6,1424.9 836.1,1424.7 836.6,1424.2 837.1,1424.9 837.6,1424.1 838.1,1424.7 838.6,1424.6 839.1,1425.1 839.6,1424.8 840.1,1423.9 840.5,1424.8 841.0,1424.1 841.5,1424.6 842.0,1425.1 842.5,1424.4 843.0,1425.5 843.5,1425.2 844.0,1425.0 844.5,1424.0 845.0,1425.0 845.5,1424.8 846.0,1424.5 846.5,1424.4 847.0,1424.2 847.5,1424.9 848.0,1424.6 848.5,1424.9 848.9,1424.0 849.4,1423.5 849.9,1423.8 850.4,1424.1 850.9,1423.5 851.4,1423.4 851.9,1424.1 852.4,1424.3 852.9,1424.2 853.4,1423.2 853.9,1423.4 854.4,1424.1 854.9,1424.1 855.4,1424.1 855.9,1423.9 856.4,1424.2 856.9,1424.2 857.3,1424.4 857.8,1424.5 858.3,1424.2 858.8,1423.2 859.3,1424.1 859.8,1423.8 860.3,1423.6 860.8,1424.3 861.3,1423.5 861.8,1423.5 862.3,1423.2 862.8,1423.3 863.3,1423.2 863.8,1423.8 864.3,1424.3 864.8,1424.5 865.3,1424.4 865.7,1423.2 866.2,1423.4 866.7,1423.3 867.2,1423.2 867.7,1423.7 868.2,1424.0 868.7,1423.3 869.2,1424.0 869.7,1423.1 870.2,1423.7 870.7,1424.2 871.2,1423.4 871.7,1424.6 872.2,1424.3 872.7,1424.1 873.2,1424.3 873.7,1424.3 874.1,1424.0 874.6,1423.7 875.1,1423.5 875.6,1424.1 876.1,1424.3 876.6,1423.8 877.1,1423.9 877.6,1423.7 878.1,1423.2 878.6,1423.4 879.1,1424.1 879.6,1424.0 880.1,1423.5 880.6,1423.6 881.1,1423.5 881.6,1424.1 882.1,1424.0 882.5,1423.8 883.0,1424.3 883.5,1424.9 884.0,1424.0 884.5,1424.8 885.0,1424.7 885.5,1424.7 886.0,1425.1 886.5,1423.9 887.0,1424.0 887.5,1423.9 888.0,1423.9 888.5,1424.8 889.0,1424.7 889.5,1424.1 890.0,1423.9 890.5,1423.7 890.9,1424.8 891.4,1424.4 891.9,1424.1 892.4,1424.7 892.9,1424.2 893.4,1424.2 893.9,1424.0 894.4,1423.8 894.9,1424.8 895.4,1424.6 895.9,1423.9 896.4,1424.7 896.9,1424.3 897.4,1424.8 897.9,1424.9 898.4,1423.4 898.9,1423.6 899.3,1424.0 899.8,1424.5 900.3,1423.8 900.8,1423.7 901.3,1423.0 901.8,1423.6 902.3,1423.4 902.8,1422.9 903.3,1422.7 903.8,1422.4 904.3,1421.9 904.8,1422.3 905.3,1421.9 905.8,1422.8 906.3,1422.1 906.8,1422.3 907.3,1421.6 907.7,1421.3 908.2,1421.4 908.7,1421.6 909.2,1422.5 909.7,1422.5 910.2,1421.0 910.7,1422.3 911.2,1421.3 911.7,1421.2 912.2,1420.7 912.7,1421.1 913.2,1420.1 913.7,1420.5 914.2,1420.6 914.7,1420.2 915.2,1420.5 915.7,1420.8 916.1,1420.2 916.6,1420.2 917.1,1420.0 917.6,1420.8 918.1,1420.8 918.6,1420.4 919.1,1420.9 919.6,1420.2 920.1,1420.3 920.6,1420.6 921.1,1420.9 921.6,1421.2 922.1,1421.9 922.6,1421.9 923.1,1422.9 923.6,1422.0 924.1,1423.2 924.6,1422.2 925.0,1422.3 925.5,1422.7 926.0,1423.7 926.5,1423.5 927.0,1424.1 927.5,1423.7 928.0,1423.5 928.5,1423.3 929.0,1424.4 929.5,1424.7 930.0,1423.7 930.5,1424.3 931.0,1423.8 931.5,1423.8 932.0,1424.9 932.5,1425.0 933.0,1425.1 933.4,1424.6 933.9,1424.1 934.4,1424.6 934.9,1424.1 935.4,1424.0 935.9,1424.8 936.4,1424.4 936.9,1424.5 937.4,1424.4 937.9,1424.5 938.4,1425.1 938.9,1424.1 939.4,1425.2 939.9,1424.6 940.4,1425.1 940.9,1425.0 941.4,1425.1 941.8,1424.2 942.3,1424.7 942.8,1424.2 943.3,1424.9 943.8,1424.0 944.3,1424.8 944.8,1424.1 945.3,1424.4 945.8,1423.5 946.3,1424.3 946.8,1423.8 947.3,1423.8 947.8,1423.3 948.3,1423.7 948.8,1423.5 949.3,1423.7 949.8,1423.7 950.2,1423.6 950.7,1424.2 951.2,1424.4 951.7,1424.7 952.2,1424.2 952.7,1423.6 953.2,1424.2 953.7,1424.4 954.2,1424.4 954.7,1425.2 955.2,1424.5 955.7,1425.3 956.2,1425.2 956.7,1425.1 957.2,1424.7 957.7,1424.9 958.2,1424.9 958.6,1424.5 959.1,1425.5 959.6,1425.3 960.1,1424.9 960.6,1424.4 961.1,1425.4 961.6,1424.4 962.1,1424.3 962.6,1425.0 963.1,1424.3 963.6,1424.2 964.1,1424.5 964.6,1425.1 965.1,1424.7 965.6,1425.0 966.1,1425.3 966.6,1424.2 967.0,1424.1 967.5,1424.9 968.0,1423.8 968.5,1424.4 969.0,1424.5 969.5,1423.3 970.0,1424.1 970.5,1423.6 971.0,1423.9 971.5,1423.9 972.0,1424.3 972.5,1424.6 973.0,1423.7 973.5,1424.4 974.0,1424.1 974.5,1424.2 975.0,1424.3 975.4,1424.2 975.9,1423.7 976.4,1423.8 976.9,1424.2 977.4,1423.9 977.9,1424.8 978.4,1424.1 978.9,1424.4 979.4,1425.0 979.9,1424.0 980.4,1424.7 980.9,1424.7 981.4,1424.7 981.9,1424.0 982.4,1423.8 982.9,1423.9 983.4,1423.6 983.8,1423.5 984.3,1424.0 984.8,1423.5 985.3,1423.9 985.8,1424.4 986.3,1423.6 986.8,1423.4 987.3,1423.6 987.8,1423.4 988.3,1424.6 988.8,1423.9 989.3,1424.1 989.8,1424.3 990.3,1424.0 990.8,1424.4 991.3,1424.5 991.8,1424.2 992.2,1423.7 992.7,1425.0 993.2,1423.6 993.7,1424.4 994.2,1423.6 994.7,1423.7 995.2,1424.2 995.7,1424.4 996.2,1424.2 996.7,1423.5 997.2,1424.6 997.7,1424.0 998.2,1423.7 998.7,1423.7 999.2,1424.4 999.7,1423.6 1000.2,1423.7 1000.6,1423.5 1001.1,1424.2 1001.6,1424.3 1002.1,1423.9 1002.6,1424.1 1003.1,1423.8 1003.6,1424.5 1004.1,1423.5 1004.6,1424.7 1005.1,1424.5 1005.6,1424.6 1006.1,1424.3 1006.6,1423.9 1007.1,1425.0 1007.6,1424.3 1008.1,1425.1 1008.6,1425.1 1009.0,1424.9 1009.5,1424.7 1010.0,1425.1 1010.5,1425.7 1011.0,1424.5 1011.5,1424.8 1012.0,1425.3 1012.5,1425.5 1013.0,1424.8 1013.5,1425.4 1014.0,1424.9 1014.5,1425.4 1015.0,1426.0 1015.5,1425.1 1016.0,1425.3 1016.5,1424.6 1017.0,1425.2 1017.4,1424.4 1017.9,1424.4 1018.4,1425.3 1018.9,1425.4 1019.4,1424.3 1019.9,1424.8 1020.4,1423.9 1020.9,1424.6 1021.4,1424.5 1021.9,1425.0 1022.4,1424.1 1022.9,1424.0 1023.4,1424.4 1023.9,1424.6 1024.4,1423.7 1024.9,1423.7 1025.4,1423.6 1025.8,1424.8 1026.3,1423.7 1026.8,1424.7 1027.3,1423.6 1027.8,1423.9 1028.3,1423.9 1028.8,1423.2 1029.3,1423.2 1029.8,1424.2 1030.3,1423.2 1030.8,1423.4 1031.3,1423.2 1031.8,1422.7 1032.3,1422.3 1032.8,1422.4 1033.3,1422.7 1033.8,1422.8 1034.2,1421.7 1034.7,1421.7 1035.2,1422.2 1035.7,1421.6 1036.2,1421.0 1036.7,1420.3 1037.2,1420.0 1037.7,1419.7 1038.2,1418.3 1038.7,1418.2 1039.2,1417.6 1039.7,1416.3 1040.2,1414.8 1040.7,1414.1 1041.2,1412.8 1041.7,1411.1 1042.2,1410.0 1042.7,1407.9 1043.1,1406.7 1043.6,1406.1 1044.1,1405.0 1044.6,1405.2 1045.1,1404.6 1045.6,1404.2 1046.1,1404.6 1046.6,1405.1 1047.1,1406.9 1047.6,1407.0 1048.1,1408.0 1048.6,1409.7 1049.1,1412.0 1049.6,1412.7 1050.1,1413.6 1050.6,1415.7 1051.1,1416.1 1051.5,1418.0 1052.0,1418.7 1052.5,1418.7 1053.0,1419.4 1053.5,1421.2 1054.0,1421.7 1054.5,1421.9 1055.0,1421.6 1055.5,1422.4 1056.0,1422.7 1056.5,1423.6 1057.0,1424.0 1057.5,1423.9 1058.0,1423.3 1058.5,1423.5 1059.0,1424.1 1059.5,1424.5 1059.9,1423.3 1060.4,1424.5 1060.9,1423.4 1061.4,1423.4 1061.9,1424.1 1062.4,1424.6 1062.9,1423.6 1063.4,1423.5 1063.9,1423.5 1064.4,1424.3 1064.9,1423.5 1065.4,1424.0 1065.9,1424.5 1066.4,1425.1 1066.9,1425.0 1067.4,1423.9 1067.9,1424.7 1068.3,1424.7 1068.8,1424.8 1069.3,1424.6 1069.8,1425.0 1070.3,1424.8 1070.8,1424.5 1071.3,1424.3 1071.8,1425.3 1072.3,1425.1 1072.8,1425.2 1073.3,1424.6 1073.8,1425.0 1074.3,1424.0 1074.8,1425.1 1075.3,1424.6 1075.8,1424.0 1076.3,1424.3 1076.7,1423.8 1077.2,1425.2 1077.7,1424.0 1078.2,1424.2 1078.7,1424.3 1079.2,1424.2 1079.7,1424.9 1080.2,1425.1 1080.7,1423.7 1081.2,1425.0 1081.7,1424.6 1082.2,1423.9 1082.7,1423.8 1083.2,1423.7 1083.7,1424.1 1084.2,1424.5 1084.7,1423.7 1085.1,1424.4 1085.6,1424.6 1086.1,1424.6 1086.6,1423.8 1087.1,1425.1 1087.6,1425.2 1088.1,1424.5 1088.6,1425.1 1089.1,1424.8 1089.6,1425.4 1090.1,1425.9 1090.6,1425.8 1091.1,1425.8 1091.6,1424.9 1092.1,1425.4 1092.6,1425.7 1093.1,1425.8 1093.5,1426.2 1094.0,1424.9 1094.5,1426.1 1095.0,1425.4 1095.5,1425.7 1096.0,1424.9 1096.5,1425.2 1097.0,1424.4 1097.5,1424.5 1098.0,1424.5 1098.5,1424.0 1099.0,1424.6 1099.5,1424.3 1100.0,1423.9 1100.5,1424.5 1101.0,1423.8 1101.5,1424.8 1101.9,1424.9 1102.4,1424.5 1102.9,1424.9 1103.4,1425.3 1103.9,1424.4 1104.4,1425.1 1104.9,1424.2 1105.4,1424.5 1105.9,1424.8 1106.4,1424.5 1106.9,1425.3 1107.4,1424.9 1107.9,1424.6 1108.4,1424.7 1108.9,1424.6 1109.4,1424.8 1109.9,1424.9 1110.3,1424.8 1110.8,1425.6 1111.3,1425.5 1111.8,1425.3 1112.3,1426.1 1112.8,1425.9 1113.3,1425.3 1113.8,1425.6 1114.3,1425.3 1114.8,1425.5 1115.3,1424.5 1115.8,1424.4 1116.3,1425.1 1116.8,1424.7 1117.3,1425.3 1117.8,1424.9 1118.3,1425.1 1118.7,1424.4 1119.2,1424.7 1119.7,1424.2 1120.2,1425.1 1120.7,1424.0 1121.2,1423.9 1121.7,1424.0 1122.2,1424.5 1122.7,1425.3 1123.2,1424.7 1123.7,1425.2 1124.2,1425.0 1124.7,1425.3 1125.2,1425.9 1125.7,1426.0 1126.2,1425.5 1126.7,1426.2 1127.1,1425.6 1127.6,1425.5 1128.1,1425.1 1128.6,1425.4 1129.1,1425.3 1129.6,1425.4 1130.1,1425.1 1130.6,1425.7 1131.1,1424.8 1131.6,1424.8 1132.1,1425.6 1132.6,1425.0 1133.1,1425.0 1133.6,1425.2 1134.1,1425.4 1134.6,1425.1 1135.1,1424.7 1135.5,1425.1 1136.0,1425.1 1136.5,1424.3 1137.0,1425.2 1137.5,1425.2 1138.0,1425.1 1138.5,1424.6 1139.0,1425.2 1139.5,1425.2 1140.0,1424.5 1140.5,1425.6 1141.0,1424.7 1141.5,1425.4 1142.0,1425.7 1142.5,1425.8 1143.0,1425.1 1143.5,1425.1 1143.9,1425.6 1144.4,1424.7 1144.9,1425.8 1145.4,1425.6 1145.9,1426.1 1146.4,1425.6 1146.9,1425.2 1147.4,1425.0 1147.9,1426.1 1148.4,1426.1 1148.9,1425.9 1149.4,1425.8 1149.9,1424.8 1150.4,1425.1 1150.9,1426.1 1151.4,1425.8 1151.9,1424.7 1152.4,1425.7 1152.8,1426.1 1153.3,1425.5 1153.8,1425.2 1154.3,1425.3 1154.8,1425.5 1155.3,1424.6 1155.8,1424.9 1156.3,1425.4 1156.8,1425.9 1157.3,1424.6 1157.8,1425.3 1158.3,1425.1 1158.8,1425.2 1159.3,1425.6 1159.8,1426.1 1160.3,1425.6 1160.8,1425.4 1161.2,1426.0 1161.7,1426.2 1162.2,1425.2 1162.7,1425.3 1163.2,1425.8 1163.7,1426.2 1164.2,1425.4 1164.7,1425.7 1165.2,1425.9 1165.7,1425.7 1166.2,1425.5 1166.7,1424.9 1167.2,1425.9 1167.7,1425.1 1168.2,1425.6 1168.7,1425.0 1169.2,1425.6 1169.6,1425.4 1170.1,1424.5 1170.6,1425.5 1171.1,1424.8 1171.6,1424.7 1172.1,1424.3 1172.6,1424.5 1173.1,1424.3 1173.6,1424.6 1174.1,1423.5 1174.6,1424.5 1175.1,1423.1 1175.6,1424.2 1176.1,1424.1 1176.6,1423.7 1177.1,1423.6 1177.6,1423.7 1178.0,1423.4 1178.5,1423.2 1179.0,1423.0 1179.5,1423.3 1180.0,1422.6 1180.5,1423.8 1181.0,1422.8 1181.5,1423.4 1182.0,1423.0 1182.5,1422.8 1183.0,1424.0 1183.5,1424.0 1184.0,1423.2 1184.5,1424.3 1185.0,1423.8 1185.5,1423.7 1186.0,1424.5 1186.4,1424.9 1186.9,1423.8 1187.4,1424.6 1187.9,1424.4 1188.4,1424.7 1188.9,1424.4 1189.4,1424.9 1189.9,1425.1 1190.4,1424.9 1190.9,1424.9 1191.4,1425.7 1191.9,1425.8 1192.4,1425.8 1192.9,1425.4 1193.4,1425.2 1193.9,1425.6 1194.4,1424.9 1194.8,1424.4 1195.3,1425.2 1195.8,1425.2 1196.3,1424.7 1196.8,1424.6 1197.3,1425.1 1197.8,1424.6 1198.3,1425.7 1198.8,1424.8 1199.3,1425.2 1199.8,1425.2 1200.3,1424.8 1200.8,1425.5 1201.3,1425.7 1201.8,1425.5 1202.3,1425.0 1202.8,1424.5 1203.2,1424.8 1203.7,1425.5 1204.2,1425.0 1204.7,1424.5 1205.2,1425.5 1205.7,1425.1 1206.2,1425.4 1206.7,1424.7 1207.2,1424.4 1207.7,1424.5 1208.2,1425.8 1208.7,1425.3 1209.2,1424.7 1209.7,1425.5 1210.2,1425.3 1210.7,1425.3 1211.2,1424.9 1211.6,1425.0 1212.1,1425.8 1212.6,1426.2 1213.1,1425.2 1213.6,1426.2 1214.1,1424.9 1214.6,1425.6 1215.1,1425.3 1215.6,1425.6 1216.1,1425.1 1216.6,1425.1 1217.1,1426.0 1217.6,1425.3 1218.1,1425.5 1218.6,1425.6 1219.1,1425.8 1219.6,1426.1 1220.0,1425.7 1220.5,1425.7 1221.0,1425.8 1221.5,1425.8 1222.0,1425.2 1222.5,1425.1 1223.0,1425.7 1223.5,1426.2 1224.0,1425.0 1224.5,1426.0 1225.0,1426.1 1225.5,1425.5 1226.0,1426.3 1226.5,1426.3 1227.0,1426.1 1227.5,1425.2 1228.0,1425.1 1228.4,1425.6 1228.9,1425.2 1229.4,1425.1 1229.9,1425.5 1230.4,1425.7 1230.9,1425.5 1231.4,1425.2 1231.9,1425.9 1232.4,1425.9 1232.9,1425.4 1233.4,1426.4 1233.9,1426.2 1234.4,1425.5 1234.9,1425.5 1235.4,1425.9 1235.9,1425.4 1236.4,1426.4 1236.8,1426.2 1237.3,1426.8 1237.8,1425.7 1238.3,1426.8 1238.8,1426.6 1239.3,1425.8 1239.8,1425.7 1240.3,1426.3 1240.8,1426.1 1241.3,1426.2 1241.8,1426.2 1242.3,1425.8 1242.8,1426.1 1243.3,1426.0 1243.8,1425.5 1244.3,1426.1 1244.8,1425.5 1245.2,1426.2 1245.7,1425.2 1246.2,1425.3 1246.7,1426.2 1247.2,1425.3 1247.7,1426.4 1248.2,1425.3 1248.7,1426.3 1249.2,1426.2 1249.7,1426.1 1250.2,1425.9 1250.7,1426.4 1251.2,1426.4 1251.7,1426.6 1252.2,1425.8 1252.7,1425.7 1253.2,1426.2 1253.6,1426.1 1254.1,1425.9 1254.6,1425.2 1255.1,1425.2 1255.6,1425.4 1256.1,1425.5 1256.6,1425.9 1257.1,1425.1 1257.6,1424.9 1258.1,1425.5 1258.6,1424.9 1259.1,1425.1 1259.6,1424.9 1260.1,1425.1 1260.6,1424.7 1261.1,1425.1 1261.6,1425.8 1262.0,1425.1 1262.5,1425.8 1263.0,1424.9 1263.5,1424.9 1264.0,1425.8 1264.5,1425.1 1265.0,1425.3 1265.5,1425.8 1266.0,1425.4 1266.5,1424.7 1267.0,1425.7 1267.5,1425.1 1268.0,1425.1 1268.5,1425.2 1269.0,1424.5 1269.5,1424.7 1270.0,1424.9 1270.5,1425.2 1270.9,1424.9 1271.4,1423.9 1271.9,1425.0 1272.4,1424.2 1272.9,1423.7 1273.4,1423.9 1273.9,1424.2 1274.4,1424.3 1274.9,1424.5 1275.4,1424.6 1275.9,1424.0 1276.4,1424.5 1276.9,1424.7 1277.4,1424.5 1277.9,1423.9 1278.4,1424.3 1278.9,1423.6 1279.3,1423.1 1279.8,1423.4 1280.3,1423.2 1280.8,1423.9 1281.3,1423.8 1281.8,1423.7 1282.3,1422.8 1282.8,1423.4 1283.3,1423.2 1283.8,1422.8 1284.3,1423.2 1284.8,1423.4 1285.3,1423.7 1285.8,1423.9 1286.3,1423.5 1286.8,1423.9 1287.3,1424.1 1287.7,1423.2 1288.2,1423.6 1288.7,1423.1 1289.2,1424.2 1289.7,1423.8 1290.2,1423.3 1290.7,1423.0 1291.2,1423.1 1291.7,1423.7 1292.2,1423.1 1292.7,1422.4 1293.2,1423.4 1293.7,1422.7 1294.2,1422.4 1294.7,1422.1 1295.2,1422.2 1295.7,1422.8 1296.1,1422.1 1296.6,1422.8 1297.1,1422.5 1297.6,1423.0 1298.1,1422.6 1298.6,1422.9 1299.1,1423.3 1299.6,1422.5 1300.1,1422.6 1300.6,1423.0 1301.1,1423.3 1301.6,1423.0 1302.1,1423.1 1302.6,1424.4 1303.1,1424.3 1303.6,1423.4 1304.1,1423.9 1304.5,1423.6 1305.0,1423.7 1305.5,1424.0 1306.0,1424.1 1306.5,1424.3 1307.0,1424.0 1307.5,1424.0 1308.0,1424.9 1308.5,1424.8 1309.0,1424.7 1309.5,1425.1 1310.0,1424.2 1310.5,1425.2 1311.0,1424.0 1311.5,1424.9 1312.0,1425.1 1312.5,1424.1 1312.9,1425.0 1313.4,1425.2 1313.9,1424.3 1314.4,1424.4 1314.9,1424.2 1315.4,1424.8 1315.9,1424.7 1316.4,1425.2 1316.9,1425.0 1317.4,1425.5 1317.9,1425.4 1318.4,1424.5 1318.9,1425.8 1319.4,1425.3 1319.9,1424.8 1320.4,1425.0 1320.9,1426.0 1321.3,1426.0 1321.8,1426.0 1322.3,1425.7 1322.8,1426.2 1323.3,1425.6 1323.8,1425.1 1324.3,1424.9 1324.8,1425.9 1325.3,1424.8 1325.8,1425.7 1326.3,1425.1 1326.8,1425.6 1327.3,1424.7 1327.8,1424.9 1328.3,1425.0 1328.8,1425.9 1329.3,1425.9 1329.7,1425.3 1330.2,1425.3 1330.7,1425.2 1331.2,1425.7 1331.7,1425.0 1332.2,1426.1 1332.7,1425.1 1333.2,1425.5 1333.7,1426.0 1334.2,1426.1 1334.7,1425.8 1335.2,1426.1 1335.7,1425.2 1336.2,1426.0 1336.7,1425.5 1337.2,1426.2 1337.7,1425.7 1338.1,1425.3 1338.6,1425.8 1339.1,1424.9 1339.6,1425.5 1340.1,1425.3 1340.6,1424.7 1341.1,1425.1 1341.6,1424.3 1342.1,1423.7 1342.6,1423.7 1343.1,1423.5 1343.6,1423.1 1344.1,1423.2 1344.6,1423.0 1345.1,1422.4 1345.6,1421.8 1346.1,1420.7 1346.5,1420.6 1347.0,1420.3 1347.5,1420.9 1348.0,1420.9 1348.5,1421.2 1349.0,1420.7 1349.5,1420.6 1350.0,1420.8 1350.5,1421.0 1351.0,1421.1 1351.5,1421.8 1352.0,1422.1 1352.5,1422.5 1353.0,1421.9 1353.5,1423.0 1354.0,1422.9 1354.5,1423.7 1354.9,1422.8 1355.4,1423.3 1355.9,1423.5 1356.4,1423.2 1356.9,1424.0 1357.4,1424.0 1357.9,1423.9 1358.4,1424.4 1358.9,1424.8 1359.4,1424.9 1359.9,1424.2 1360.4,1425.3 1360.9,1424.8 1361.4,1425.8 1361.9,1424.8 1362.4,1426.1 1362.9,1426.1 1363.3,1425.6 1363.8,1425.3 1364.3,1426.3 1364.8,1425.5 1365.3,1426.6 1365.8,1426.0 1366.3,1426.1 1366.8,1425.5 1367.3,1425.8 1367.8,1426.4 1368.3,1425.7 1368.8,1426.7 1369.3,1426.3 1369.8,1426.6 1370.3,1426.3 1370.8,1425.8 1371.3,1425.6 1371.7,1426.1 1372.2,1426.5 1372.7,1425.5 1373.2,1425.6 1373.7,1426.0 1374.2,1425.6 1374.7,1425.5 1375.2,1426.4 1375.7,1426.2 1376.2,1426.0 1376.7,1425.7 1377.2,1426.2 1377.7,1425.4 1378.2,1426.1 1378.7,1425.9 1379.2,1425.4 1379.7,1426.1 1380.1,1425.9 1380.6,1425.9 1381.1,1425.7 1381.6,1424.9 1382.1,1425.2 1382.6,1425.2 1383.1,1425.3 1383.6,1424.5 1384.1,1424.4 1384.6,1424.5 1385.1,1422.9 1385.6,1423.3 1386.1,1421.5 1386.6,1421.4 1387.1,1419.6 1387.6,1418.5 1388.1,1418.0 1388.6,1416.7 1389.0,1414.0 1389.5,1412.4 1390.0,1410.8 1390.5,1409.6 1391.0,1406.2 1391.5,1405.4 1392.0,1402.1 1392.5,1401.0 1393.0,1398.3 1393.5,1396.8 1394.0,1395.8 1394.5,1395.4 1395.0,1395.5 1395.5,1395.7 1396.0,1396.4 1396.5,1397.2 1397.0,1399.9 1397.4,1400.6 1397.9,1403.4 1398.4,1405.2 1398.9,1407.9 1399.4,1410.3 1399.9,1411.5 1400.4,1412.9 1400.9,1414.9 1401.4,1416.6 1401.9,1417.8 1402.4,1419.0 1402.9,1420.4 1403.4,1421.0 1403.9,1421.8 1404.4,1423.8 1404.9,1423.5 1405.4,1424.8 1405.8,1424.8 1406.3,1425.4 1406.8,1425.3 1407.3,1425.9 1407.8,1426.0 1408.3,1426.2 1408.8,1426.0 1409.3,1426.2 1409.8,1425.2 1410.3,1425.7 1410.8,1426.3 1411.3,1426.0 1411.8,1426.2 1412.3,1426.1 1412.8,1426.7 1413.3,1426.6 1413.8,1426.6 1414.2,1426.1 1414.7,1426.7 1415.2,1426.6 1415.7,1426.7 1416.2,1426.5 1416.7,1426.3 1417.2,1427.0 1417.7,1426.8 1418.2,1426.7 1418.7,1427.1 1419.2,1427.3 1419.7,1426.4 1420.2,1426.2 1420.7,1426.6 1421.2,1427.3 1421.7,1426.6 1422.2,1426.5 1422.6,1426.5 1423.1,1426.4 1423.6,1426.4 1424.1,1427.3 1424.6,1427.5 1425.1,1426.7 1425.6,1427.4 1426.1,1426.6 1426.6,1426.9 1427.1,1427.7 1427.6,1427.6 1428.1,1426.9 1428.6,1427.0 1429.1,1427.0 1429.6,1427.1 1430.1,1427.4 1430.6,1427.0 1431.0,1427.2 1431.5,1426.6 1432.0,1427.2 1432.5,1426.1 1433.0,1426.1 1433.5,1426.6 1434.0,1426.7 1434.5,1426.6 1435.0,1427.1 1435.5,1426.8 1436.0,1427.3 1436.5,1426.8 1437.0,1426.8 1437.5,1427.6 1438.0,1426.8 1438.5,1426.6 1439.0,1427.4 1439.4,1427.3 1439.9,1427.4 1440.4,1427.6 1440.9,1426.7 1441.4,1427.8 1441.9,1427.5 1442.4,1427.4 1442.9,1427.2 1443.4,1426.8 1443.9,1427.1 1444.4,1427.6 1444.9,1427.5 1445.4,1426.8 1445.9,1427.3 1446.4,1427.2 1446.9,1426.5 1447.4,1426.8 1447.8,1426.6 1448.3,1426.7 1448.8,1427.3 1449.3,1426.8 1449.8,1427.4 1450.3,1427.1 1450.8,1427.3 1451.3,1427.8 1451.8,1427.7 1452.3,1427.7 1452.8,1428.2 1453.3,1427.0 1453.8,1427.1 1454.3,1427.8 1454.8,1427.5 1455.3,1427.3 1455.8,1427.1 1456.2,1427.0 1456.7,1427.7 1457.2,1427.9 1457.7,1427.7 1458.2,1427.4 1458.7,1427.1 1459.2,1426.5 1459.7,1426.8 1460.2,1426.5 1460.7,1427.0 1461.2,1426.5 1461.7,1427.1 1462.2,1426.9 1462.7,1426.9 1463.2,1427.2 1463.7,1426.9 1464.2,1426.9 1464.6,1426.5 1465.1,1426.2 1465.6,1427.0 1466.1,1426.9 1466.6,1426.6 1467.1,1427.3 1467.6,1426.7 1468.1,1426.2 1468.6,1426.3 1469.1,1427.1 1469.6,1426.2 1470.1,1425.8 1470.6,1426.4 1471.1,1425.9 1471.6,1426.4 1472.1,1426.4 1472.6,1426.6 1473.0,1425.7 1473.5,1426.5 1474.0,1426.7 1474.5,1425.9 1475.0,1426.0 1475.5,1426.0 1476.0,1425.5 1476.5,1425.8 1477.0,1425.6 1477.5,1426.4 1478.0,1425.7 1478.5,1425.8 1479.0,1425.4 1479.5,1425.4 1480.0,1426.1 1480.5,1425.6 1481.0,1425.7 1481.4,1426.9 1481.9,1426.4 1482.4,1426.2 1482.9,1426.0 1483.4,1427.2 1483.9,1426.9 1484.4,1427.2 1484.9,1426.4 1485.4,1426.4 1485.9,1427.7 1486.4,1427.7 1486.9,1426.6 1487.4,1427.1 1487.9,1427.2 1488.4,1427.8 1488.9,1427.9 1489.4,1427.0 1489.8,1427.3 1490.3,1427.6 1490.8,1427.8 1491.3,1427.0 1491.8,1428.3 1492.3,1427.8 1492.8,1427.5 1493.3,1427.8 1493.8,1427.8 1494.3,1428.0 1494.8,1427.8 1495.3,1428.1 1495.8,1427.7 1496.3,1427.8 1496.8,1427.4 1497.3,1428.0 1497.8,1427.7 1498.3,1428.2 1498.7,1428.4 1499.2,1428.3 1499.7,1427.4 1500.2,1428.0 1500.7,1428.0 1501.2,1428.1 1501.7,1427.6 1502.2,1427.8 1502.7,1428.2 1503.2,1428.3 1503.7,1427.4 1504.2,1427.7 1504.7,1428.4 1505.2,1427.7 1505.7,1428.4 1506.2,1428.4 1506.7,1427.2 1507.1,1427.3 1507.6,1428.3 1508.1,1428.5 1508.6,1427.8 1509.1,1428.3 1509.6,1428.1 1510.1,1428.0 1510.6,1428.1 1511.1,1428.4 1511.6,1428.6 1512.1,1427.8 1512.6,1428.5 1513.1,1427.6 1513.6,1428.5 1514.1,1428.4 1514.6,1428.5 1515.1,1428.6 1515.5,1428.5 1516.0,1428.2 1516.5,1428.1 1517.0,1428.6 1517.5,1427.8 1518.0,1427.6 1518.5,1428.2 1519.0,1428.4 1519.5,1428.1 1520.0,1428.5 1520.5,1428.4 1521.0,1428.3 1521.5,1427.7 1522.0,1428.6 1522.5,1428.5 1523.0,1428.0 1523.5,1428.2 1523.9,1427.4 1524.4,1427.8 1524.9,1427.3 1525.4,1427.4 1525.9,1427.9 1526.4,1427.5 1526.9,1428.3 1527.4,1427.5 1527.9,1428.5 1528.4,1428.1 1528.9,1427.9 1529.4,1427.6 1529.9,1428.4 1530.4,1427.5 1530.9,1428.2 1531.4,1428.2 1531.9,1427.8 1532.3,1428.0 1532.8,1427.6 1533.3,1428.0 1533.8,1427.7 1534.3,1428.2 1534.8,1427.3 1535.3,1428.2 1535.8,1427.6 1536.3,1426.8 1536.8,1427.3 1537.3,1427.4 1537.8,1427.2 1538.3,1427.6 1538.8,1427.1 1539.3,1427.1 1539.8,1427.8 1540.3,1427.8 1540.7,1427.1 1541.2,1427.8 1541.7,1428.4 1542.2,1427.6 1542.7,1427.4 1543.2,1428.8 1543.7,1428.6 1544.2,1428.1 1544.7,1428.5 1545.2,1428.3 1545.7,1429.1 1546.2,1428.6 1546.7,1428.3 1547.2,1428.4 1547.7,1428.5 1548.2,1429.6 1548.7,1428.5 1549.1,1428.7 1549.6,1429.5 1550.1,1428.7 1550.6,1428.7 1551.1,1428.7 1551.6,1428.3 1552.1,1429.3 1552.6,1428.6 1553.1,1428.2 1553.6,1428.3 1554.1,1428.8 1554.6,1428.1 1555.1,1428.4 1555.6,1428.1 1556.1,1428.9 1556.6,1428.7 1557.1,1428.8 1557.5,1428.9 1558.0,1428.4 1558.5,1429.2 1559.0,1428.5 1559.5,1429.0 1560.0,1428.1 1560.5,1428.0 1561.0,1428.7 1561.5,1428.3 1562.0,1429.1 1562.5,1428.2 1563.0,1427.9 1563.5,1428.3 1564.0,1428.3 1564.5,1428.9 1565.0,1427.9 1565.5,1428.0 1565.9,1427.7 1566.4,1427.4 1566.9,1428.3 1567.4,1427.7 1567.9,1428.0 1568.4,1428.2 1568.9,1427.7 1569.4,1427.5 1569.9,1428.5 1570.4,1427.8 1570.9,1428.3 1571.4,1427.6 1571.9,1427.4 1572.4,1428.4 1572.9,1427.7 1573.4,1428.4 1573.9,1428.4 1574.3,1427.6 1574.8,1428.3 1575.3,1428.4 1575.8,1427.4 1576.3,1428.4 1576.8,1428.6 1577.3,1427.6 1577.8,1427.7 1578.3,1427.8 1578.8,1428.4 1579.3,1428.0 1579.8,1427.6 1580.3,1428.2 1580.8,1428.3 1581.3,1428.3 1581.8,1427.5 1582.3,1427.7 1582.7,1428.4 1583.2,1427.4 1583.7,1428.5 1584.2,1427.4 1584.7,1428.0 1585.2,1428.2 1585.7,1428.2 1586.2,1428.2 1586.7,1427.7 1587.2,1428.9 1587.7,1428.0 1588.2,1428.8 1588.7,1427.9 1589.2,1428.2 1589.7,1429.0 1590.2,1428.6 1590.7,1428.1 1591.1,1428.9 1591.6,1428.7 1592.1,1429.0 1592.6,1429.1 1593.1,1428.9 1593.6,1428.6 1594.1,1428.3 1594.6,1428.4 1595.1,1429.2 1595.6,1428.3 1596.1,1428.9 1596.6,1428.7 1597.1,1428.1 1597.6,1428.0 1598.1,1429.2 1598.6,1428.2 1599.1,1428.6 1599.5,1428.0 1600.0,1428.1 1600.5,1429.0 1601.0,1428.7 1601.5,1428.1 1602.0,1428.5 1602.5,1428.7 1603.0,1428.8 1603.5,1429.3 1604.0,1428.7 1604.5,1428.2 1605.0,1429.3 1605.5,1428.9 1606.0,1428.2 1606.5,1428.8 1607.0,1428.4 1607.5,1428.9 1607.9,1429.1 1608.4,1428.5 1608.9,1428.9 1609.4,1428.7 1609.9,1429.2 1610.4,1429.1 1610.9,1428.0 1611.4,1428.2 1611.9,1428.8 1612.4,1428.9 1612.9,1428.9 1613.4,1428.1 1613.9,1428.4 1614.4,1428.7 1614.9,1428.2 1615.4,1427.9 1615.9,1428.6 1616.4,1428.7 1616.8,1429.0 1617.3,1428.0 1617.8,1429.0 1618.3,1429.4 1618.8,1428.8 1619.3,1429.5 1619.8,1428.8 1620.3,1428.9 1620.8,1429.1 1621.3,1428.9 1621.8,1429.1 1622.3,1428.5 1622.8,1429.0 1623.3,1429.2 1623.8,1429.5 1624.3,1429.0 1624.8,1429.3 1625.2,1428.5 1625.7,1428.8 1626.2,1428.4 1626.7,1428.4 1627.2,1428.0 1627.7,1428.1 1628.2,1428.6 1628.7,1428.6 1629.2,1428.6 1629.7,1429.1 1630.2,1428.7 1630.7,1429.2 1631.2,1428.0 1631.7,1429.1 1632.2,1428.4 1632.7,1429.0 1633.2,1429.1 1633.6,1428.1 1634.1,1428.5 1634.6,1429.2 1635.1,1428.8 1635.6,1429.2 1636.1,1429.3 1636.6,1428.3 1637.1,1428.3 1637.6,1429.0 1638.1,1429.3 1638.6,1429.1 1639.1,1428.8 1639.6,1429.3 1640.1,1428.5 1640.6,1429.3 1641.1,1429.1 1641.6,1429.4 1642.0,1428.5 1642.5,1429.4 1643.0,1428.5 1643.5,1428.5 1644.0,1429.1 1644.5,1429.2 1645.0,1428.6 1645.5,1428.4 1646.0,1428.7 1646.5,1429.4 1647.0,1429.1 1647.5,1429.3 1648.0,1428.7 1648.5,1428.7 1649.0,1428.9 1649.5,1428.9 1650.0,1428.6 1650.4,1428.2 1650.9,1428.6 1651.4,1427.8 1651.9,1428.3 1652.4,1428.2 1652.9,1428.5 1653.4,1428.4 1653.9,1428.5 1654.4,1427.8 1654.9,1428.4 1655.4,1428.4 1655.9,1427.5 1656.4,1428.1 1656.9,1428.5 1657.4,1428.6 1657.9,1427.6 1658.4,1428.0 1658.8,1427.7 1659.3,1428.1 1659.8,1428.2 1660.3,1428.2 1660.8,1428.9 1661.3,1428.1 1661.8,1428.1 1662.3,1427.8 1662.8,1427.8 1663.3,1427.8 1663.8,1428.5 1664.3,1428.5 1664.8,1427.9 1665.3,1428.9 1665.8,1428.4 1666.3,1428.2 1666.8,1428.0 1667.2,1428.9 1667.7,1429.0 1668.2,1428.7 1668.7,1428.6 1669.2,1429.0 1669.7,1427.8 1670.2,1428.6 1670.7,1428.5 1671.2,1428.9 1671.7,1429.0 1672.2,1429.1 1672.7,1428.1 1673.2,1428.2 1673.7,1428.4 1674.2,1428.6 1674.7,1428.6 1675.2,1428.5 1675.6,1428.8 1676.1,1428.9 1676.6,1428.2 1677.1,1428.3 1677.6,1428.8 1678.1,1428.2 1678.6,1428.9 1679.1,1428.7 1679.6,1428.3 1680.1,1428.2 1680.6,1428.0 1681.1,1427.7 1681.6,1428.4 1682.1,1428.0 1682.6,1428.7 1683.1,1428.8 1683.6,1428.0 1684.0,1427.7 1684.5,1428.4 1685.0,1427.9 1685.5,1427.8 1686.0,1429.0 1686.5,1429.0 1687.0,1427.9 1687.5,1428.6 1688.0,1428.2 1688.5,1428.4 1689.0,1428.6 1689.5,1428.2 1690.0,1428.1 1690.5,1429.1 1691.0,1429.1 1691.5,1429.1 1692.0,1428.4 1692.4,1428.8 1692.9,1427.9 1693.4,1429.1 1693.9,1428.0 1694.4,1428.7 1694.9,1428.7 1695.4,1428.6 1695.9,1428.0 1696.4,1428.8 1696.9,1428.3 1697.4,1428.6 1697.9,1428.2 1698.4,1427.5 1698.9,1427.7 1699.4,1428.0 1699.9,1426.9 1700.4,1426.8 1700.8,1427.1 1701.3,1426.5 1701.8,1427.1 1702.3,1426.0 1702.8,1426.5 1703.3,1426.2 1703.8,1425.2 1704.3,1425.6 1704.8,1424.9 1705.3,1425.0 1705.8,1424.3 1706.3,1424.2 1706.8,1423.3 1707.3,1423.8 1707.8,1422.7 1708.3,1421.9 1708.8,1421.5 1709.2,1422.0 1709.7,1420.9 1710.2,1420.7 1710.7,1421.2 1711.2,1420.2 1711.7,1420.9 1712.2,1420.6 1712.7,1420.0 1713.2,1419.9 1713.7,1420.2 1714.2,1420.0 1714.7,1420.9 1715.2,1421.1 1715.7,1421.1 1716.2,1420.5 1716.7,1421.5 1717.2,1421.9 1717.6,1421.6 1718.1,1421.9 1718.6,1421.9 1719.1,1422.8 1719.6,1422.8 1720.1,1422.7 1720.6,1423.1 1721.1,1424.6 1721.6,1424.3 1722.1,1424.7 1722.6,1425.2 1723.1,1425.4 1723.6,1425.4 1724.1,1425.9 1724.6,1426.3 1725.1,1426.7 1725.6,1426.8 1726.0,1426.5 1726.5,1427.2 1727.0,1426.9 1727.5,1426.9 1728.0,1427.3 1728.5,1427.3 1729.0,1428.3 1729.5,1428.1 1730.0,1428.7 1730.5,1428.4 1731.0,1428.4 1731.5,1428.3 1732.0,1427.8 1732.5,1427.8 1733.0,1428.9 1733.5,1428.7 1734.0,1428.9 1734.5,1428.4 1734.9,1427.8 1735.4,1427.8 1735.9,1428.7 1736.4,1429.0 1736.9,1428.1 1737.4,1427.9 1737.9,1428.6 1738.4,1428.3 1738.9,1428.5 1739.4,1428.8 1739.9,1428.8 1740.4,1428.7 1740.9,1428.9 1741.4,1428.9 1741.9,1428.8 1742.4,1428.2 1742.9,1428.0 1743.3,1428.7 1743.8,1428.4 1744.3,1428.4 1744.8,1428.2 1745.3,1428.2 1745.8,1428.7 1746.3,1428.6 1746.8,1428.5 1747.3,1428.6 1747.8,1428.7 1748.3,1428.5 1748.8,1429.5 1749.3,1428.6 1749.8,1429.2 1750.3,1428.6 1750.8,1428.9 1751.3,1429.3 1751.7,1428.7 1752.2,1429.3 1752.7,1429.1 1753.2,1429.5 1753.7,1429.6 1754.2,1429.3 1754.7,1428.8 1755.2,1429.2 1755.7,1428.4 1756.2,1429.0 1756.7,1428.8 1757.2,1429.0 1757.7,1428.5 1758.2,1429.2 1758.7,1428.5 1759.2,1428.8 1759.7,1428.7 1760.1,1428.0 1760.6,1427.7 1761.1,1427.6 1761.6,1427.4 1762.1,1428.4 1762.6,1428.0 1763.1,1427.1 1763.6,1427.7 1764.1,1427.7 1764.6,1427.5 1765.1,1427.1 1765.6,1427.1 1766.1,1427.1 1766.6,1427.8 1767.1,1428.0 1767.6,1427.5 1768.1,1427.4 1768.5,1427.7 1769.0,1428.6 1769.5,1427.6 1770.0,1427.8 1770.5,1428.2 1771.0,1428.9 1771.5,1428.9 1772.0,1428.4 1772.5,1428.6 1773.0,1429.1 1773.5,1428.9 1774.0,1428.5 1774.5,1428.8 1775.0,1429.0 1775.5,1428.6 1776.0,1429.4 1776.5,1429.6 1776.9,1428.7 1777.4,1429.1 1777.9,1429.3 1778.4,1429.2 1778.9,1428.7 1779.4,1429.9 1779.9,1429.1 1780.4,1429.2 1780.9,1429.6 1781.4,1429.5 1781.9,1429.3 1782.4,1429.6 1782.9,1428.6 1783.4,1428.9 1783.9,1429.3 1784.4,1429.2 1784.9,1429.1 1785.3,1429.6 1785.8,1429.1 1786.3,1429.6 1786.8,1429.2 1787.3,1429.7 1787.8,1428.6 1788.3,1429.2 1788.8,1429.5 1789.3,1428.8 1789.8,1428.9 1790.3,1429.3 1790.8,1428.8 1791.3,1429.9 1791.8,1428.6 1792.3,1428.5 1792.8,1429.2 1793.3,1429.2 1793.7,1429.3 1794.2,1428.6 1794.7,1429.1 1795.2,1428.7 1795.7,1428.5 1796.2,1428.7 1796.7,1428.1 1797.2,1428.1 1797.7,1428.4 1798.2,1428.6 1798.7,1429.3 1799.2,1429.2 1799.7,1429.3 1800.2,1429.2 1800.7,1428.4 1801.2,1429.1 1801.7,1429.0 1802.1,1428.8 1802.6,1429.3 1803.1,1429.2 1803.6,1429.0 1804.1,1428.8 1804.6,1429.1 1805.1,1429.1 1805.6,1429.2 1806.1,1429.5 1806.6,1429.7 1807.1,1429.0 1807.6,1429.7 1808.1,1429.4 1808.6,1429.4 1809.1,1429.4 1809.6,1429.8 1810.1,1430.4 1810.5,1429.6 1811.0,1429.7 1811.5,1429.8 1812.0,1429.8 1812.5,1430.2 1813.0,1430.3 1813.5,1429.8 1814.0,1429.7 1814.5,1430.3 1815.0,1430.2 1815.5,1430.1 1816.0,1429.0 1816.5,1429.3 1817.0,1429.8 1817.5,1428.9 1818.0,1429.0 1818.5,1429.6 1818.9,1429.6 1819.4,1429.4 1819.9,1428.8 1820.4,1430.0 1820.9,1429.8 1821.4,1429.7 1821.9,1429.2 1822.4,1429.2 1822.9,1429.8 1823.4,1429.9 1823.9,1429.1 1824.4,1429.1 1824.9,1429.2 1825.4,1430.2 1825.9,1429.2 1826.4,1429.8 1826.9,1429.1 1827.3,1430.0 1827.8,1429.2 1828.3,1429.9 1828.8,1429.7 1829.3,1429.4 1829.8,1429.6 1830.3,1429.7 1830.8,1429.1 1831.3,1429.2 1831.8,1429.1 1832.3,1429.7 1832.8,1428.9 1833.3,1429.3 1833.8,1429.8 1834.3,1429.7 1834.8,1428.9 1835.3,1428.7 1835.7,1429.9 1836.2,1429.9 1836.7,1430.1 1837.2,1429.5 1837.7,1429.5 1838.2,1430.1 1838.7,1429.8 1839.2,1429.5 1839.7,1430.4 1840.2,1429.9 1840.7,1430.5 1841.2,1430.4 1841.7,1430.4 1842.2,1430.0 1842.7,1429.4 1843.2,1429.9 1843.7,1430.6 1844.2,1429.7 1844.6,1429.7 1845.1,1430.5 1845.6,1430.4 1846.1,1429.9 1846.6,1429.7 1847.1,1430.4 1847.6,1430.1 1848.1,1430.0 1848.6,1429.4 1849.1,1429.8 1849.6,1429.5 1850.1,1430.3 1850.6,1429.9 1851.1,1430.3 1851.6,1430.1 1852.1,1429.1 1852.6,1429.6 1853.0,1429.6 1853.5,1429.5 1854.0,1429.4 1854.5,1429.0 1855.0,1429.0 1855.5,1429.1 1856.0,1429.3 1856.5,1429.1 1857.0,1430.2 1857.5,1429.4 1858.0,1429.5 1858.5,1429.5 1859.0,1429.8 1859.5,1429.7 1860.0,1429.8 1860.5,1430.3 1861.0,1430.1 1861.4,1430.2 1861.9,1431.1 1862.4,1430.6 1862.9,1430.4 1863.4,1430.4 1863.9,1431.4 1864.4,1430.8 1864.9,1431.0 1865.4,1430.7 1865.9,1430.0 1866.4,1430.1 1866.9,1429.9 1867.4,1430.4 1867.9,1430.2 1868.4,1429.3 1868.9,1430.2 1869.4,1429.2 1869.8,1429.6 1870.3,1429.8 1870.8,1430.1 1871.3,1429.1 1871.8,1429.5 1872.3,1429.6 1872.8,1430.0 1873.3,1429.5 1873.8,1429.7 1874.3,1430.0 1874.8,1430.0 1875.3,1429.8 1875.8,1430.6 1876.3,1430.0 1876.8,1429.5 1877.3,1430.6 1877.8,1429.7 1878.2,1430.2 1878.7,1429.8 1879.2,1429.4 1879.7,1430.0 1880.2,1429.9 1880.7,1429.4 1881.2,1429.6 1881.7,1430.2 1882.2,1429.4 1882.7,1429.8 1883.2,1430.0 1883.7,1429.8 1884.2,1430.1 1884.7,1429.3 1885.2,1430.1 1885.7,1430.4 1886.2,1429.8 1886.6,1430.1 1887.1,1430.0 1887.6,1430.3 1888.1,1430.4 1888.6,1429.4 1889.1,1429.9 1889.6,1430.3 1890.1,1430.5 1890.6,1429.8 1891.1,1430.1 1891.6,1430.5 1892.1,1430.0 1892.6,1430.4 1893.1,1430.5 1893.6,1430.3 1894.1,1429.9 1894.6,1429.6 1895.0,1430.1 1895.5,1430.7 1896.0,1429.8 1896.5,1430.3 1897.0,1430.2 1897.5,1430.2 1898.0,1430.8 1898.5,1430.8 1899.0,1430.0 1903.0,1430.0"/>
<polygon fill="#000" stroke="none" points="622.3,1068.5 617.5,1119.4 615.9,1167 633.1,1167 631.8,1119.4"/>
</g></g>
<text transform="translate(169.5,1522.7) scale(1,1.040)" font-size="49.80" text-anchor="middle">20</text>
<text transform="translate(416.6,1522.7) scale(1,1.040)" font-size="49.80" text-anchor="middle">30</text>
<text transform="translate(663.6,1522.7) scale(1,1.040)" font-size="49.80" text-anchor="middle">40</text>
<text transform="translate(910.7,1522.7) scale(1,1.040)" font-size="49.80" text-anchor="middle">50</text>
<text transform="translate(1157.8,1522.7) scale(1,1.040)" font-size="49.80" text-anchor="middle">60</text>
<text transform="translate(1404.9,1522.7) scale(1,1.040)" font-size="49.80" text-anchor="middle">70</text>
<text transform="translate(1651.9,1522.7) scale(1,1.040)" font-size="49.80" text-anchor="middle">80</text>
<text transform="translate(1899.0,1522.7) scale(1,1.040)" font-size="49.80" text-anchor="middle">90</text>
<text transform="translate(1034.0,1598.3) scale(1,1.040)" font-size="62.45" text-anchor="middle">2 Theta (Degrees)</text>
<text transform="translate(74.7,797.0) rotate(-90) scale(1,1.040)" font-size="62.00" text-anchor="middle">Intensity (a.u.)</text>
<text transform="translate(262.0,206.9) scale(1,1.040)" font-size="73.90" font-weight="bold">M<tspan dx="-3">S</tspan><tspan dx="-1">1</tspan></text>
<text transform="translate(320.0,782.0) rotate(-90) scale(1,1.040)" font-size="62.30"><tspan dy="0.0">(Ti,Nb)</tspan><tspan font-size="37.4" dy="23.1">5</tspan><tspan dy="-23.1">Si</tspan><tspan font-size="37.4" dy="23.1">3</tspan></text>
<text transform="translate(533.0,775.5) rotate(-90) scale(1,1.040)" font-size="61.80">bcc <tspan font-size="54.1">β</tspan><tspan dx="-1.2"> - Zr</tspan></text>
<text transform="translate(605.0,512.0) rotate(-90) scale(1,1.040)" font-size="61.80">bcc <tspan font-size="54.1">β</tspan><tspan dx="-1.2"> - (Ti,Nb)</tspan></text>
<text transform="translate(1067.3,784.5) rotate(-90) scale(1,1.040)" font-size="61.80">bcc <tspan font-size="54.1">β</tspan><tspan dx="-1.2"> - (Ti,Nb)</tspan></text>
<text transform="translate(1411.5,770.0) rotate(-90) scale(1,1.040)" font-size="61.80">bcc <tspan font-size="54.1">β</tspan><tspan dx="-1.2"> - (Ti,Nb)</tspan></text>
<text transform="translate(1732.0,802.0) rotate(-90) scale(1,1.040)" font-size="61.80">bcc <tspan font-size="54.1">β</tspan><tspan dx="-1.2"> - (Ti,Nb)</tspan></text>
<text transform="translate(522.0,1122.0) rotate(-90) scale(1,1.040)" font-size="62.30"><tspan dy="0.0">(Ti,Nb)</tspan><tspan font-size="37.4" dy="23.1">5</tspan><tspan dy="-23.1">Si</tspan><tspan font-size="37.4" dy="23.1">3</tspan></text>
<text transform="translate(1294.0,1080.5) rotate(-90) scale(1,1.040)" font-size="61.80"><tspan dy="0.0">Nb</tspan><tspan font-size="37.1" dy="23.1">5</tspan><tspan dy="-23.1">Si</tspan><tspan font-size="37.1" dy="23.1">3</tspan></text>
<text transform="translate(536.0,1357.0) rotate(-90) scale(1,1.040)" font-size="61.80"><tspan dy="0.0">Si</tspan><tspan font-size="37.1" dy="23.1">3</tspan><tspan dy="-23.1">Ti</tspan><tspan font-size="37.1" dy="23.1">2</tspan><tspan dy="-23.1">Zr</tspan><tspan font-size="37.1" dy="23.1">3</tspan></text>
<text transform="translate(725.0,1388.3) rotate(-90) scale(1,1.040)" font-size="61.80"><tspan dy="0.0">Si</tspan><tspan font-size="37.1" dy="23.1">3</tspan><tspan dy="-23.1">Ti</tspan><tspan font-size="37.1" dy="23.1">2</tspan><tspan dy="-23.1">Zr</tspan><tspan font-size="37.1" dy="23.1">3</tspan></text>
<text transform="translate(915.0,1426.0) rotate(-90) scale(1,1.040)" font-size="62.30"><tspan dy="0.0">(Ti,Nb)</tspan><tspan font-size="37.4" dy="23.1">5</tspan><tspan dy="-23.1">Si</tspan><tspan font-size="37.4" dy="23.1">3</tspan></text>
<rect x="1261.6" y="69.7" width="611" height="297.6" fill="#fff" stroke="#000" stroke-width="3"/>
<line x1="1296.7" y1="122.3" x2="1434.6" y2="122.3" stroke="#0000ff" stroke-width="11" stroke-linecap="round"/>
<text transform="translate(1451.8,142.7) scale(1,1.040)" font-size="61.70"><tspan dy="0.0">Ti</tspan><tspan font-size="37.0" dy="23.1">56</tspan><tspan dy="-23.1">Zr</tspan><tspan font-size="37.0" dy="23.1">10</tspan><tspan dy="-23.1">Si</tspan><tspan font-size="37.0" dy="23.1">15</tspan><tspan dy="-23.1">Nb</tspan><tspan font-size="37.0" dy="23.1">19</tspan></text>
<line x1="1296.7" y1="217.7" x2="1434.6" y2="217.7" stroke="#ff0000" stroke-width="11" stroke-linecap="round"/>
<text transform="translate(1451.8,238.1) scale(1,1.040)" font-size="61.70"><tspan dy="0.0">Ti</tspan><tspan font-size="37.0" dy="23.1">64</tspan><tspan dy="-23.1">Zr</tspan><tspan font-size="37.0" dy="23.1">10</tspan><tspan dy="-23.1">Si</tspan><tspan font-size="37.0" dy="23.1">15</tspan><tspan dy="-23.1">Nb</tspan><tspan font-size="37.0" dy="23.1">11</tspan></text>
<line x1="1296.7" y1="313.3" x2="1434.6" y2="313.3" stroke="#000000" stroke-width="11" stroke-linecap="round"/>
<text transform="translate(1451.8,333.7) scale(1,1.040)" font-size="61.70"><tspan dy="0.0">Ti</tspan><tspan font-size="37.0" dy="23.1">60</tspan><tspan dy="-23.1">Zr</tspan><tspan font-size="37.0" dy="23.1">10</tspan><tspan dy="-23.1">Si</tspan><tspan font-size="37.0" dy="23.1">15</tspan><tspan dy="-23.1">Nb</tspan><tspan font-size="37.0" dy="23.1">15</tspan></text>
</svg>
</body></html>
